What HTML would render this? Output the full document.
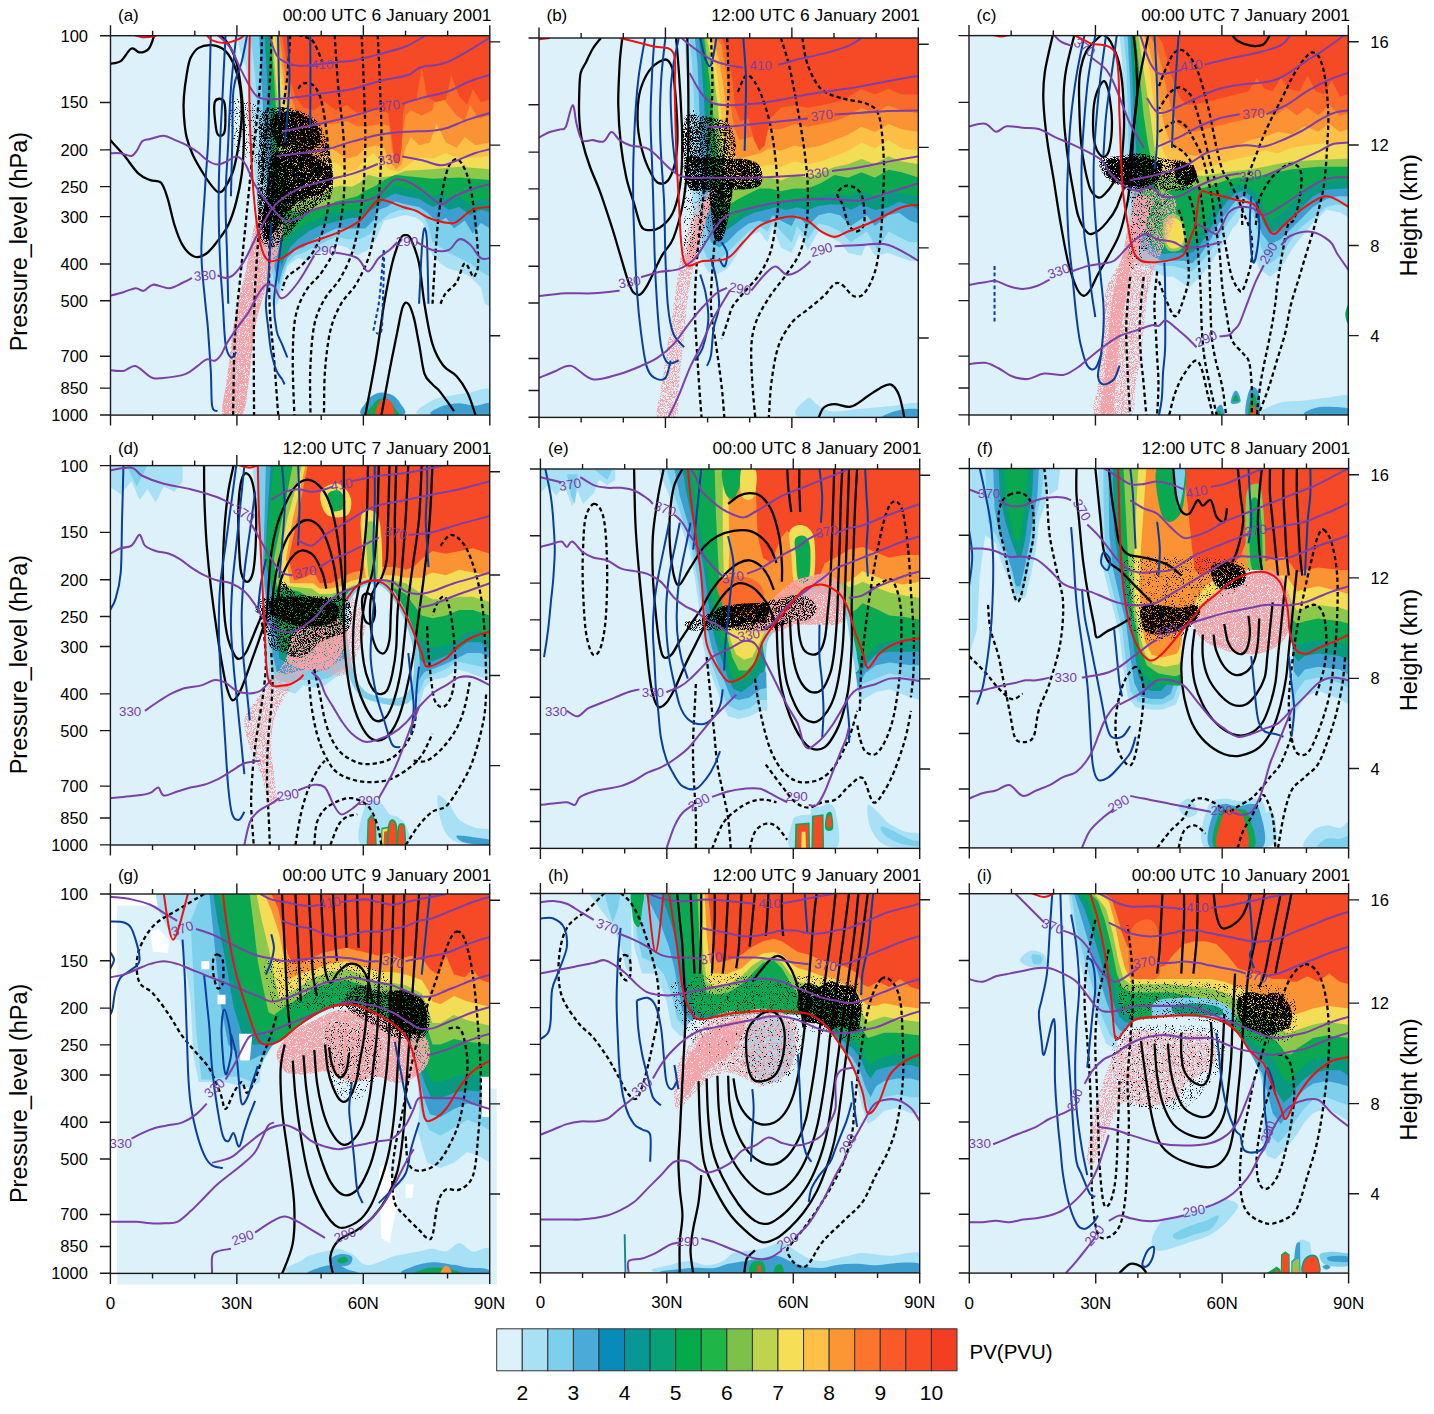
<!DOCTYPE html><html><head><meta charset="utf-8"><style>html,body{margin:0;padding:0;background:#fff;overflow:hidden}svg{display:block}</style></head><body>
<svg width="1434" height="1414" viewBox="0 0 1434 1414">
<defs>
<clipPath id="cpa"><rect x="110.50" y="35.70" width="379.3" height="379.4"/></clipPath>
<clipPath id="cpb"><rect x="539.00" y="38.00" width="379.3" height="379.4"/></clipPath>
<clipPath id="cpc"><rect x="969.00" y="35.60" width="379.3" height="379.4"/></clipPath>
<clipPath id="cpd"><rect x="110.40" y="465.60" width="379.3" height="379.4"/></clipPath>
<clipPath id="cpe"><rect x="540.40" y="469.00" width="379.3" height="379.4"/></clipPath>
<clipPath id="cpf"><rect x="969.30" y="468.50" width="379.3" height="379.4"/></clipPath>
<clipPath id="cpg"><rect x="110.40" y="894.00" width="379.3" height="379.4"/></clipPath>
<clipPath id="cph"><rect x="540.40" y="893.50" width="379.3" height="379.4"/></clipPath>
<clipPath id="cpi"><rect x="969.30" y="893.70" width="379.3" height="379.4"/></clipPath>
<filter id="spk1" x="-5%" y="-5%" width="110%" height="110%"><feTurbulence type="fractalNoise" baseFrequency="0.3" numOctaves="1" seed="3" result="n"/><feColorMatrix in="n" type="matrix" values="0 0 0 0 0 0 0 0 0 0 0 0 0 0 0 12 0 0 0 -7.2" result="m"/><feComposite in="SourceGraphic" in2="m" operator="in"/></filter>
<filter id="spk2" x="-5%" y="-5%" width="110%" height="110%"><feTurbulence type="fractalNoise" baseFrequency="0.3" numOctaves="1" seed="5" result="n"/><feColorMatrix in="n" type="matrix" values="0 0 0 0 0 0 0 0 0 0 0 0 0 0 0 12 0 0 0 -5.6" result="m"/><feComposite in="SourceGraphic" in2="m" operator="in"/></filter>
<filter id="spk3" x="-5%" y="-5%" width="110%" height="110%"><feTurbulence type="fractalNoise" baseFrequency="0.3" numOctaves="1" seed="9" result="n"/><feColorMatrix in="n" type="matrix" values="0 0 0 0 0 0 0 0 0 0 0 0 0 0 0 12 0 0 0 -4.4" result="m"/><feComposite in="SourceGraphic" in2="m" operator="in"/></filter>
</defs>
<rect width="1434" height="1414" fill="#fff"/>
<g clip-path="url(#cpa)">
<rect x="110.5" y="35.7" width="379.3" height="379.4" fill="#dcf1fa"/>
<g transform="translate(110,35) scale(0.268741)"><path d="M470 0L1414 0L1414 1010L1395 1000L1380 940L1340 900L1300 880L1260 870L1230 850L1200 820L1180 760L1165 700L1140 680L1100 670L1060 680L1020 690L990 760L960 800L920 820L880 790L840 780L800 800L760 820L730 840L700 830L660 860L640 930L625 1000L605 1010L590 940L575 860L560 760L548 640L535 500L528 350L520 220L505 120L485 60Z" fill="#a8e0f5"/><path d="M520 0L1414 0L1414 900L1380 880L1340 850L1300 830L1260 810L1230 790L1200 770L1180 700L1160 660L1120 650L1080 650L1040 665L1000 700L970 740L930 760L880 760L840 750L800 770L760 790L720 810L690 820L660 850L640 900L628 960L612 930L598 850L585 740L572 600L560 450L550 300L540 150L530 60Z" fill="#7cd0ec"/><path d="M555 0L1414 0L1414 720L1380 700L1350 740L1320 690L1280 720L1250 680L1220 700L1180 660L1150 640L1100 630L1060 620L1030 640L1000 650L980 690L950 720L920 720L880 720L840 720L800 740L760 760L720 790L690 800L660 830L640 880L628 930L615 880L600 800L588 650L578 450L568 250Z" fill="#3d9fd0"/><path d="M575 0L1414 0L1414 660L1380 650L1340 670L1300 640L1260 650L1230 630L1200 640L1150 610L1100 600L1060 590L1020 610L990 640L960 660L930 680L900 680L860 690L820 700L780 710L740 730L700 760L670 790L650 830L638 860L628 820L612 700L600 500L590 250Z" fill="#079a80"/><path d="M590 0L1414 0L1414 615L1380 610L1340 630L1300 600L1260 610L1230 590L1200 600L1150 580L1100 570L1060 560L1020 590L990 610L960 630L930 650L900 650L860 660L820 660L780 680L740 700L700 720L670 740L645 780L632 760L620 600L605 300Z" fill="#0aa850"/><path d="M598 0L1414 0L1414 540L1300 530L1200 535L1100 525L1060 520L1020 540L990 560L950 580L920 600L880 610L840 620L800 640L760 650L720 660L690 660L660 640L640 560L625 400L610 150Z" fill="#8cc84c"/><path d="M605 0L1414 0L1414 500L1300 490L1200 500L1100 505L1050 525L1000 530L960 520L930 550L900 565L860 560L820 570L780 600L740 610L700 600L670 560L640 400L618 180Z" fill="#f3dc56"/><path d="M612 0L1414 0L1414 450L1360 455L1300 460L1250 440L1200 460L1150 455L1100 490L1075 510L1040 500L1010 470L980 440L950 460L920 500L880 510L850 480L820 470L790 500L760 510L720 490L690 420L660 300L635 150Z" fill="#fdbf46"/><path d="M620 0L1414 0L1414 400L1360 410L1320 380L1290 420L1250 400L1215 330L1190 400L1150 410L1120 380L1100 420L1085 480L1065 500L1040 470L1020 420L990 410L950 420L920 450L880 460L850 440L820 420L790 450L760 450L720 420L690 360L660 250L640 120Z" fill="#fb9234"/><path d="M630 0L1414 0L1414 300L1370 310L1340 260L1320 320L1290 300L1250 250L1220 180L1200 280L1160 300L1120 280L1100 300L1090 360L1080 460L1065 470L1050 430L1040 340L1010 330L960 340L920 340L880 320L840 330L800 330L760 340L720 330L690 280L665 200L645 100Z" fill="#fa6a2a"/><path d="M640 0L1414 0L1414 240L1380 250L1350 200L1330 260L1300 230L1270 150L1250 240L1210 250L1180 230L1160 120L1140 240L1100 250L1090 300L1085 420L1075 480L1060 470L1048 380L1035 290L1000 280L960 280L920 290L880 260L840 280L800 250L760 280L720 270L690 230L670 170L655 90Z" fill="#f64a26"/><path d="M940 1414C917 1407 943 1382 950 1370C957 1358 970 1347 980 1340C990 1333 998 1330 1010 1330C1022 1330 1038 1333 1050 1340C1062 1347 1073 1358 1080 1370C1087 1382 1113 1407 1090 1414C1067 1421 963 1421 940 1414Z" fill="#3d9fd0"/><path d="M960 1414C944 1408 968 1390 975 1380C982 1370 989 1358 1000 1355C1011 1352 1030 1354 1040 1360C1050 1366 1055 1381 1060 1390C1065 1399 1087 1410 1070 1414C1053 1418 976 1420 960 1414Z" fill="#0aa850"/><path d="M990 1414C981 1407 995 1380 1000 1370C1005 1360 1012 1356 1020 1355C1028 1354 1039 1355 1045 1365C1051 1375 1064 1406 1055 1414C1046 1422 999 1421 990 1414Z" fill="#f64a26"/><path d="M1150 1414C1114 1405 1178 1372 1200 1360C1222 1348 1257 1345 1280 1340C1303 1335 1318 1333 1340 1330C1362 1327 1402 1306 1414 1320C1426 1334 1458 1398 1414 1414C1370 1430 1186 1423 1150 1414Z" fill="#a8e0f5"/><path d="M1200 1414C1171 1408 1223 1387 1240 1380C1257 1373 1280 1370 1300 1370C1320 1370 1341 1380 1360 1380C1379 1380 1405 1364 1414 1370C1423 1376 1450 1407 1414 1414C1378 1421 1229 1420 1200 1414Z" fill="#3d9fd0"/><path d="M575 640C589 626 613 607 625 615C637 623 644 661 645 690C646 719 638 757 630 790C622 823 611 857 600 890C589 923 575 957 565 990C555 1023 546 1057 540 1090C534 1123 531 1155 527 1190C523 1225 521 1263 515 1300C509 1337 508 1395 492 1414C476 1433 430 1433 420 1414C410 1395 428 1336 432 1300C436 1264 441 1233 445 1200C449 1167 452 1133 457 1100C462 1067 468 1033 475 1000C482 967 492 933 500 900C508 867 513 833 520 800C527 767 531 727 540 700C549 673 561 654 575 640Z" fill="#f5a3a8" filter="url(#spk3)" opacity="1"/><path d="M450 250C460 225 498 243 520 250C542 257 567 273 580 290C593 307 598 323 600 350C602 377 597 428 590 450C583 472 575 480 560 480C545 480 517 463 500 450C483 437 468 433 460 400C452 367 440 275 450 250Z" fill="#000" filter="url(#spk1)" opacity="1"/><path d="M560 300C571 278 597 273 620 270C643 267 675 272 700 280C725 288 753 303 770 320C787 337 792 358 800 380C808 402 815 427 820 450C825 473 830 495 830 520C830 545 832 580 820 600C808 620 780 623 760 640C740 657 718 680 700 700C682 720 667 745 650 760C633 775 615 790 600 790C585 790 568 783 560 760C552 737 552 693 550 650C548 607 549 542 550 500C551 458 553 433 555 400C557 367 549 322 560 300Z" fill="#000" filter="url(#spk2)" opacity="1"/><path d="M610 300C620 288 642 285 660 285C678 285 702 291 720 300C738 309 760 323 770 340C780 357 785 385 780 400C775 415 757 425 740 430C723 435 698 433 680 430C662 427 643 422 630 410C617 398 603 378 600 360C597 342 600 312 610 300Z" fill="#000" filter="url(#spk3)" opacity="1"/><path d="M600 450C612 435 638 432 660 430C682 428 708 433 730 440C752 447 774 458 790 470C806 482 822 493 825 510C828 527 821 555 810 570C799 585 778 592 760 600C742 608 717 610 700 620C683 630 673 643 660 660C647 677 633 703 620 720C607 737 589 763 580 760C571 757 565 727 565 700C565 673 576 630 580 600C584 570 587 545 590 520C593 495 588 465 600 450Z" fill="#000" filter="url(#spk3)" opacity="1"/><path d="M0 107C7 105 27 106 40 97C53 88 68 55 80 50C92 45 99 65 110 65C121 65 136 61 145 50C154 39 162 8 165 0" fill="none" stroke="#000" stroke-width="8.5" stroke-linejoin="round"/><path d="M0 390C8 399 32 424 50 445C68 466 88 499 105 515C122 531 136 534 150 540C164 546 179 538 190 550C201 562 207 584 215 610C223 636 231 678 240 707C249 736 258 762 270 782C282 802 300 820 315 825C330 830 346 822 360 812C374 802 387 784 400 767C413 750 428 732 440 707C452 682 462 651 470 620C478 589 485 557 490 520C495 483 497 440 498 400C499 360 497 317 495 280C493 243 489 210 485 180C481 150 476 122 470 100C464 78 457 63 450 50C443 37 437 28 430 20C423 12 413 3 410 0" fill="none" stroke="#000" stroke-width="8.5" stroke-linejoin="round"/><path d="M380 38C363 36 343 40 330 48C317 56 308 68 300 85C292 102 289 126 285 150C281 174 277 205 275 230C273 255 273 275 275 300C277 325 279 355 285 380C291 405 299 427 310 450C321 473 337 499 350 520C363 541 380 564 390 575C400 586 403 587 410 585C417 583 422 579 430 565C438 551 452 528 460 500C468 472 475 433 480 400C485 367 489 333 490 300C491 267 489 230 485 200C481 170 474 143 465 120C456 97 444 74 430 60C416 46 397 40 380 38Z" fill="none" stroke="#000" stroke-width="8.5" stroke-linejoin="round"/><path d="M390 250C395 233 419 233 425 250C431 267 430 329 428 350C426 371 416 375 410 375C404 375 398 371 395 350C392 329 385 267 390 250Z" fill="none" stroke="#000" stroke-width="8.5" stroke-linejoin="round"/><path d="M950 1414C957 1378 978 1269 990 1200C1002 1131 1010 1058 1020 1000C1030 942 1040 890 1050 850C1060 810 1072 778 1080 760C1088 742 1093 745 1100 745C1107 745 1112 742 1120 760C1128 778 1142 810 1150 850C1158 890 1162 950 1170 1000C1178 1050 1188 1112 1200 1150C1212 1188 1225 1210 1240 1230C1255 1250 1275 1253 1290 1270C1305 1287 1318 1306 1330 1330C1342 1354 1355 1400 1360 1414" fill="none" stroke="#000" stroke-width="8.5" stroke-linejoin="round"/><path d="M1010 1414C1015 1387 1030 1302 1040 1250C1050 1198 1062 1140 1070 1100C1078 1060 1083 1027 1090 1010C1097 993 1103 993 1110 1000C1117 1007 1123 1025 1130 1050C1137 1075 1143 1115 1150 1150C1157 1185 1162 1235 1170 1260C1178 1285 1190 1288 1200 1300C1210 1312 1217 1313 1230 1330C1243 1347 1272 1388 1280 1400" fill="none" stroke="#000" stroke-width="8.5" stroke-linejoin="round"/><path d="M566 0C565 25 563 100 560 150C557 200 553 250 548 300C543 350 536 400 530 450C524 500 520 550 515 600C510 650 505 700 500 750C495 800 490 850 485 900C480 950 474 1000 470 1050C466 1100 464 1139 462 1200C460 1261 459 1378 458 1414" fill="none" stroke="#000" stroke-width="8.5" stroke-dasharray="16 11" stroke-linejoin="round"/><path d="M601 0C600 25 599 100 596 150C593 200 589 250 585 300C581 350 576 400 572 450C568 500 565 550 562 600C559 650 555 700 552 750C549 800 545 850 542 900C539 950 537 1000 536 1050C535 1100 535 1139 535 1200C535 1261 536 1378 536 1414" fill="none" stroke="#000" stroke-width="8.5" stroke-dasharray="16 11" stroke-linejoin="round"/><path d="M671 0C669 25 665 100 660 150C655 200 647 250 640 300C633 350 626 400 620 450C614 500 609 550 605 600C601 650 597 700 595 750C593 800 592 850 592 900C592 950 593 1000 596 1050C599 1100 605 1139 610 1200C615 1261 623 1378 626 1414" fill="none" stroke="#000" stroke-width="8.5" stroke-dasharray="16 11" stroke-linejoin="round"/><path d="M996 0C998 33 1003 133 1005 200C1007 267 1011 333 1010 400C1009 467 1007 533 1000 600C993 667 983 747 970 800C957 853 938 887 920 920C902 953 877 970 860 1000C843 1030 830 1058 820 1100C810 1142 804 1198 800 1250C796 1302 797 1387 796 1414" fill="none" stroke="#000" stroke-width="8.5" stroke-dasharray="16 11" stroke-linejoin="round"/><path d="M936 0C938 33 943 133 945 200C947 267 951 333 950 400C949 467 947 537 940 600C933 663 923 730 910 780C897 830 878 867 860 900C842 933 817 950 800 980C783 1010 769 1035 760 1080C751 1125 747 1194 745 1250C743 1306 746 1387 746 1414" fill="none" stroke="#000" stroke-width="8.5" stroke-dasharray="16 11" stroke-linejoin="round"/><path d="M836 0C838 33 844 133 850 200C856 267 867 333 870 400C873 467 875 537 870 600C865 663 853 733 840 780C827 827 808 852 790 880C772 908 747 922 730 950C713 978 698 1008 690 1050C682 1092 681 1139 680 1200C679 1261 685 1378 686 1414" fill="none" stroke="#000" stroke-width="8.5" stroke-dasharray="16 11" stroke-linejoin="round"/><path d="M700 200C703 197 710 182 720 180C730 178 748 177 760 190C772 203 782 225 790 260C798 295 805 352 810 400C815 448 822 500 820 550C818 600 810 658 800 700C790 742 775 773 760 800C745 827 727 843 710 860C693 877 672 885 660 900C648 915 643 942 640 950" fill="none" stroke="#000" stroke-width="8.5" stroke-dasharray="16 11" stroke-linejoin="round"/><path d="M700 0C706 2 725 5 735 10C745 15 751 15 760 30C769 45 785 88 790 100" fill="none" stroke="#000" stroke-width="8.5" stroke-dasharray="16 11" stroke-linejoin="round"/><path d="M1200 1000C1203 950 1212 780 1220 700C1228 620 1240 559 1250 520C1260 481 1270 472 1280 465C1290 458 1300 464 1310 480C1320 496 1332 523 1340 560C1348 597 1355 652 1360 700C1365 748 1371 817 1370 850C1369 883 1358 892 1355 900" fill="none" stroke="#000" stroke-width="8.5" stroke-dasharray="16 11" stroke-linejoin="round"/><path d="M1230 1000C1233 993 1240 973 1250 960C1260 947 1278 938 1290 920C1302 902 1310 853 1320 850C1330 847 1345 892 1350 900" fill="none" stroke="#000" stroke-width="8.5" stroke-dasharray="16 11" stroke-linejoin="round"/><path d="M375 0C374 33 372 133 370 200C368 267 368 342 365 400C362 458 358 500 355 550C352 600 348 658 345 700C342 742 340 767 340 800C340 833 342 867 345 900C348 933 352 967 355 1000C358 1033 362 1058 365 1100C368 1142 372 1203 375 1250C378 1297 376 1355 380 1380C384 1405 397 1397 400 1400" fill="none" stroke="#0a3fa0" stroke-width="7.5" stroke-linejoin="round"/><path d="M430 0C428 33 423 133 420 200C417 267 412 342 410 400C408 458 406 500 405 550C404 600 404 650 405 700C406 750 408 800 410 850C412 900 417 950 420 1000C423 1050 425 1117 430 1150C435 1183 443 1195 450 1200C457 1205 467 1183 470 1180" fill="none" stroke="#0a3fa0" stroke-width="7.5" stroke-linejoin="round"/><path d="M470 0C467 33 455 133 450 200C445 267 443 333 440 400C437 467 431 533 430 600C429 667 433 733 435 800C437 867 439 967 440 1000" fill="none" stroke="#0a3fa0" stroke-width="7.5" stroke-linejoin="round"/><path d="M510 0C507 17 498 67 490 100C482 133 466 150 460 200C454 250 457 333 455 400C453 467 451 567 450 600" fill="none" stroke="#0a3fa0" stroke-width="7.5" stroke-linejoin="round"/><path d="M625 0C626 25 627 100 628 150C629 200 631 275 632 300" fill="none" stroke="#0a3fa0" stroke-width="7.5" stroke-linejoin="round"/><path d="M662 0C663 25 668 100 668 150C668 200 663 258 660 300C657 342 652 383 650 400" fill="none" stroke="#0a3fa0" stroke-width="7.5" stroke-linejoin="round"/><path d="M745 0C745 25 746 93 746 150C746 207 745 308 745 340" fill="none" stroke="#0a3fa0" stroke-width="7.5" stroke-linejoin="round"/><path d="M600 700C598 733 593 850 590 900C587 950 580 967 580 1000C580 1033 587 1070 590 1100C593 1130 595 1155 600 1180C605 1205 613 1233 620 1250C627 1267 635 1272 640 1280C645 1288 648 1297 650 1300" fill="none" stroke="#0a3fa0" stroke-width="7.5" stroke-linejoin="round"/><path d="M640 750C637 775 625 858 620 900C615 942 610 967 610 1000C610 1033 615 1075 620 1100C625 1125 633 1133 640 1150C647 1167 657 1192 660 1200" fill="none" stroke="#0a3fa0" stroke-width="7.5" stroke-linejoin="round"/><path d="M1150 1000C1152 967 1157 847 1160 800C1163 753 1167 723 1170 720C1173 717 1178 733 1180 780C1182 827 1184 963 1185 1000" fill="none" stroke="#0a3fa0" stroke-width="7.5" stroke-linejoin="round"/><path d="M980 1100C983 1083 995 1033 1000 1000C1005 967 1007 933 1010 900C1013 867 1019 783 1020 800C1021 817 1017 950 1015 1000C1013 1050 1014 1082 1010 1100C1006 1118 993 1108 990 1110" fill="none" stroke="#0a3fa0" stroke-width="7.5" stroke-dasharray="14 10" stroke-linejoin="round"/><path d="M590 0C595 12 610 58 620 75C630 92 636 93 650 100C664 107 676 115 707 115C738 115 804 105 837 102C870 99 879 100 907 95C935 90 974 79 1007 70C1040 61 1079 52 1107 40C1135 28 1165 7 1177 0" fill="none" stroke="#7d3fa8" stroke-width="7.5" stroke-linejoin="round"/><path d="M400 0C408 8 436 29 450 50C464 71 472 100 485 125C498 150 514 182 525 200C536 218 538 223 550 230C562 237 574 240 600 240C626 240 672 234 707 230C742 226 774 220 807 215C840 210 874 208 907 200C940 192 974 178 1007 170C1040 162 1082 158 1107 150C1132 142 1132 128 1157 120C1182 112 1214 118 1257 100C1300 82 1388 25 1414 10" fill="none" stroke="#7d3fa8" stroke-width="7.5" stroke-linejoin="round"/><path d="M640 360C651 358 679 351 707 345C735 339 774 332 807 325C840 318 875 309 907 300C939 291 982 277 997 272" fill="none" stroke="#7d3fa8" stroke-width="7.5" stroke-linejoin="round"/><path d="M1087 257C1099 253 1129 243 1157 235C1185 227 1228 220 1257 210C1286 200 1306 185 1332 175C1358 165 1400 152 1414 148" fill="none" stroke="#7d3fa8" stroke-width="7.5" stroke-linejoin="round"/><path d="M620 450C634 448 676 444 707 440C738 436 774 432 807 425C840 418 874 404 907 395C940 386 974 376 1007 370C1040 364 1074 362 1107 360C1140 358 1182 358 1207 355C1232 352 1236 352 1257 345C1278 338 1306 324 1332 315C1358 306 1400 294 1414 290" fill="none" stroke="#7d3fa8" stroke-width="7.5" stroke-linejoin="round"/><path d="M0 970C8 968 34 962 50 957C66 952 82 943 95 942C108 941 114 954 125 952C136 950 144 931 160 929C176 927 202 943 220 942C238 941 256 928 270 922C284 916 299 907 305 904" fill="none" stroke="#7d3fa8" stroke-width="7.5" stroke-linejoin="round"/><path d="M400 895C405 896 420 904 430 904C440 904 448 903 460 892C472 881 485 865 500 840C515 815 533 772 550 740C567 708 585 672 600 650C615 628 622 623 640 610C658 597 679 582 707 570C735 558 774 549 807 540C840 531 875 525 907 515C939 505 982 486 997 480" fill="none" stroke="#7d3fa8" stroke-width="7.5" stroke-linejoin="round"/><path d="M1087 452C1099 454 1133 460 1157 465C1181 470 1211 484 1232 485C1253 486 1261 478 1282 470C1303 462 1335 448 1357 440C1379 432 1404 428 1414 425" fill="none" stroke="#7d3fa8" stroke-width="7.5" stroke-linejoin="round"/><path d="M0 440C7 440 27 438 40 440C53 442 70 452 80 450C90 448 93 439 100 430C107 421 112 402 120 395C128 388 137 390 150 387C163 384 185 374 200 375C215 376 226 384 240 390C254 396 271 402 285 410C299 418 312 426 325 435C338 444 348 457 360 465C372 473 388 481 400 482C412 483 423 475 435 470C447 465 459 451 470 452C481 453 492 464 500 475C508 486 514 502 520 515C526 528 528 538 535 550C542 562 549 575 560 590C571 605 585 623 600 640C615 657 632 683 650 690C668 697 689 687 707 680C725 673 732 659 757 650C782 641 824 631 857 625C890 619 932 621 957 615C982 609 990 602 1007 590C1024 578 1040 548 1057 540C1074 532 1090 539 1107 545C1124 551 1140 563 1157 575C1174 587 1194 606 1207 615C1220 624 1224 632 1237 630C1250 628 1262 610 1282 600C1302 590 1335 578 1357 570C1379 562 1404 558 1414 555" fill="none" stroke="#7d3fa8" stroke-width="7.5" stroke-linejoin="round"/><path d="M0 1247C8 1248 34 1252 50 1250C66 1248 78 1228 95 1232C112 1236 134 1264 150 1272C166 1280 168 1279 190 1277C212 1275 258 1270 280 1262C302 1254 312 1241 325 1232C338 1223 349 1210 360 1207C371 1204 381 1215 390 1212C399 1209 408 1198 415 1187C422 1176 425 1164 435 1147C445 1130 462 1106 475 1087C488 1068 502 1052 515 1032C528 1012 539 984 550 967C561 950 570 935 580 930C590 925 600 927 610 935C620 943 625 982 640 980C655 978 680 947 700 920C720 893 750 837 760 820" fill="none" stroke="#7d3fa8" stroke-width="7.5" stroke-linejoin="round"/><path d="M840 810C853 813 900 818 920 830C940 842 947 880 960 880C973 880 987 843 1000 830C1013 817 1028 810 1040 800C1052 790 1065 775 1070 770" fill="none" stroke="#7d3fa8" stroke-width="7.5" stroke-linejoin="round"/><path d="M1140 770C1150 775 1180 795 1200 800C1220 805 1243 807 1260 800C1277 793 1287 763 1300 760C1313 757 1327 768 1340 780C1353 792 1368 822 1380 830C1392 838 1408 830 1414 830" fill="none" stroke="#7d3fa8" stroke-width="7.5" stroke-linejoin="round"/><text x="790" y="125" fill="#7d3fa8" font-size="50" font-family="Liberation Sans, sans-serif" text-anchor="middle" transform="rotate(0 790 125)">410</text><text x="1040" y="280" fill="#7d3fa8" font-size="50" font-family="Liberation Sans, sans-serif" text-anchor="middle" transform="rotate(-8 1040 280)">370</text><text x="1040" y="480" fill="#7d3fa8" font-size="50" font-family="Liberation Sans, sans-serif" text-anchor="middle" transform="rotate(-8 1040 480)">330</text><text x="355" y="912" fill="#7d3fa8" font-size="50" font-family="Liberation Sans, sans-serif" text-anchor="middle" transform="rotate(-5 355 912)">330</text><text x="800" y="820" fill="#7d3fa8" font-size="50" font-family="Liberation Sans, sans-serif" text-anchor="middle" transform="rotate(0 800 820)">290</text><text x="1105" y="785" fill="#7d3fa8" font-size="50" font-family="Liberation Sans, sans-serif" text-anchor="middle" transform="rotate(0 1105 785)">290</text><path d="M520 0C520 20 518 70 518 120C518 170 518 237 520 300C522 363 525 442 528 500C531 558 535 603 540 650C545 697 552 748 560 780C568 812 577 832 590 840C603 848 622 838 640 830C658 822 677 802 700 790C723 778 753 770 780 760C807 750 835 742 860 730C885 718 908 708 930 690C952 672 975 632 990 620C1005 608 1003 612 1020 615C1037 618 1070 633 1090 640C1110 647 1124 648 1140 655C1156 662 1165 672 1185 680C1205 688 1242 698 1260 700C1278 702 1275 703 1290 695C1305 687 1329 659 1350 650C1371 641 1403 642 1414 640" fill="none" stroke="#f01010" stroke-width="7.5" stroke-linejoin="round"/><path d="M360 0C363 3 368 15 380 20C392 25 413 31 430 30C447 29 468 20 480 15C492 10 497 2 500 0" fill="none" stroke="#f01010" stroke-width="7.5" stroke-linejoin="round"/><path d="M90 0C95 1 108 7 120 8C132 9 157 6 165 5C173 4 169 1 170 0" fill="none" stroke="#f01010" stroke-width="7.5" stroke-linejoin="round"/></g>
</g>
<rect x="110.5" y="35.7" width="379.3" height="379.4" fill="none" stroke="#1a1a1a" stroke-width="1.4"/>
<path d="M110.50 415.10v10.5M110.50 35.70v-10.5M152.64 415.10v5.0M152.64 35.70v-5.0M194.79 415.10v5.0M194.79 35.70v-5.0M236.93 415.10v10.5M236.93 35.70v-10.5M279.08 415.10v5.0M279.08 35.70v-5.0M321.22 415.10v5.0M321.22 35.70v-5.0M363.37 415.10v10.5M363.37 35.70v-10.5M405.51 415.10v5.0M405.51 35.70v-5.0M447.66 415.10v5.0M447.66 35.70v-5.0M489.80 415.10v10.5M489.80 35.70v-10.5M110.50 35.70h-10.5M110.50 102.48h-10.5M110.50 149.86h-10.5M110.50 186.61h-10.5M110.50 216.64h-10.5M110.50 264.02h-10.5M110.50 300.77h-10.5M110.50 356.19h-10.5M110.50 388.17h-10.5M110.50 414.94h-10.5M489.80 41.90h10.4M489.80 145.10h10.4M489.80 245.60h10.4M489.80 335.70h10.4" stroke="#1a1a1a" stroke-width="1.4" fill="none"/>
<text x="118.0" y="20.5" font-family="Liberation Sans, sans-serif" font-size="17" fill="#000">(a)</text>
<text x="491.5" y="20.8" font-family="Liberation Sans, sans-serif" font-size="17.4" fill="#000" text-anchor="end">00:00 UTC 6 January 2001</text>
<text x="88.0" y="41.70" font-family="Liberation Sans, sans-serif" font-size="16.5" text-anchor="end">100</text>
<text x="88.0" y="108.48" font-family="Liberation Sans, sans-serif" font-size="16.5" text-anchor="end">150</text>
<text x="88.0" y="155.86" font-family="Liberation Sans, sans-serif" font-size="16.5" text-anchor="end">200</text>
<text x="88.0" y="192.61" font-family="Liberation Sans, sans-serif" font-size="16.5" text-anchor="end">250</text>
<text x="88.0" y="222.64" font-family="Liberation Sans, sans-serif" font-size="16.5" text-anchor="end">300</text>
<text x="88.0" y="270.02" font-family="Liberation Sans, sans-serif" font-size="16.5" text-anchor="end">400</text>
<text x="88.0" y="306.77" font-family="Liberation Sans, sans-serif" font-size="16.5" text-anchor="end">500</text>
<text x="88.0" y="362.19" font-family="Liberation Sans, sans-serif" font-size="16.5" text-anchor="end">700</text>
<text x="88.0" y="394.17" font-family="Liberation Sans, sans-serif" font-size="16.5" text-anchor="end">850</text>
<text x="88.0" y="420.94" font-family="Liberation Sans, sans-serif" font-size="16.5" text-anchor="end">1000</text>
<g clip-path="url(#cpb)">
<rect x="539.0" y="38.0" width="379.3" height="379.4" fill="#dcf1fa"/>
<g transform="translate(539,38) scale(0.268741)"><path d="M540 0L1414 0L1414 830L1380 830L1300 800L1250 810L1220 760L1200 810L1150 800L1120 760L1080 740L1040 720L1000 790L970 730L940 800L900 780L870 700L850 760L820 720L780 740L740 800L700 860L660 880L630 870L600 820L580 700L565 550L560 400L555 250L548 100Z" fill="#a8e0f5"/><path d="M560 0L1414 0L1414 760L1380 760L1300 720L1260 790L1220 720L1160 760L1120 720L1080 700L1040 690L1000 750L960 700L940 760L900 720L870 680L850 720L820 700L780 720L740 760L700 800L660 830L630 830L610 780L595 650L585 450L580 300L570 100Z" fill="#7cd0ec"/><path d="M580 0L1414 0L1414 690L1380 680L1340 650L1300 660L1250 700L1220 660L1160 700L1120 660L1080 650L1040 660L1000 700L960 660L940 700L900 680L870 660L850 690L820 680L780 690L740 720L700 760L670 780L640 760L620 700L605 550L600 350L590 100Z" fill="#3d9fd0"/><path d="M595 0L1414 0L1414 640L1380 620L1340 610L1300 630L1250 640L1200 620L1160 640L1120 620L1080 620L1040 625L1000 640L960 630L920 640L880 630L840 640L800 650L760 670L720 700L690 720L665 700L640 620L625 450L615 250L605 100Z" fill="#079a80"/><path d="M605 0L1414 0L1414 590L1350 580L1300 570L1250 590L1200 570L1150 590L1100 580L1050 590L1000 600L950 600L900 610L860 610L820 620L780 640L740 660L700 690L680 680L660 600L645 450L630 250L615 100Z" fill="#0aa850"/><path d="M615 0L1414 0L1414 520L1350 500L1300 490L1250 520L1200 500L1150 520L1100 510L1050 540L1000 560L950 560L900 570L860 560L820 560L780 580L740 600L710 620L690 600L670 500L655 350L640 200L625 80Z" fill="#8cc84c"/><path d="M625 0L1414 0L1414 470L1350 460L1300 440L1250 470L1200 450L1150 470L1100 480L1050 500L1000 520L950 510L900 530L860 520L820 530L780 540L740 560L710 560L690 520L680 400L665 250L645 100Z" fill="#f3dc56"/><path d="M635 0L1414 0L1414 420L1350 410L1300 380L1250 410L1200 390L1150 420L1100 440L1050 460L1000 470L950 460L900 480L860 470L820 480L780 500L740 510L710 500L695 420L680 300L665 150L650 50Z" fill="#fdbf46"/><path d="M645 0L1414 0L1414 350L1350 340L1300 320L1250 350L1200 330L1150 360L1100 380L1050 400L1000 410L950 400L900 420L860 410L820 430L780 440L740 450L715 420L700 330L690 200L670 80Z" fill="#fb9234"/><path d="M660 0L1414 0L1414 280L1350 270L1300 250L1250 280L1200 260L1150 290L1100 310L1050 320L1000 330L950 320L900 340L860 340L820 360L780 370L745 380L725 330L710 230L695 120L680 30Z" fill="#fa6a2a"/><path d="M680 0L1414 0L1414 210L1350 210L1300 190L1250 210L1200 190L1150 220L1100 240L1050 250L1000 260L950 250L900 260L860 300L840 400L820 420L800 380L780 300L750 310L730 260L720 160L705 60Z" fill="#f64a26"/><path d="M980 1414C911 1402 992 1349 1000 1340C1008 1331 1020 1353 1030 1360C1040 1367 1048 1375 1060 1380C1072 1385 1077 1390 1100 1390C1123 1390 1167 1383 1200 1380C1233 1377 1264 1373 1300 1370C1336 1367 1395 1353 1414 1360C1433 1367 1486 1405 1414 1414C1342 1423 1049 1426 980 1414Z" fill="#a8e0f5"/><path d="M1280 1414C1264 1410 1303 1396 1320 1390C1337 1384 1364 1381 1380 1380C1396 1379 1408 1379 1414 1385C1420 1391 1436 1409 1414 1414C1392 1419 1296 1418 1280 1414Z" fill="#3d9fd0"/><path d="M663 562C666 569 649 597 640 620C631 643 619 670 610 700C601 730 592 767 585 800C578 833 571 867 565 900C559 933 554 967 550 1000C546 1033 543 1067 540 1100C537 1133 533 1167 530 1200C527 1233 523 1264 520 1300C517 1336 523 1395 510 1414C497 1433 449 1433 440 1414C431 1395 450 1336 455 1300C460 1264 465 1233 470 1200C475 1167 480 1133 485 1100C490 1067 495 1033 500 1000C505 967 510 933 515 900C520 867 522 833 530 800C538 767 550 730 560 700C570 670 580 640 590 620C600 600 608 590 620 580C632 570 660 555 663 562Z" fill="#f5a3a8" filter="url(#spk2)" opacity="1"/><path d="M663 562C666 565 648 597 640 620C632 643 622 673 615 700C608 727 602 755 595 780C588 805 583 838 575 850C567 862 548 865 545 850C542 835 553 788 560 760C567 732 575 707 585 680C595 653 607 620 620 600C633 580 660 559 663 562Z" fill="#f5a3a8" filter="url(#spk3)" opacity="1"/><path d="M540 300C550 250 583 257 600 300C617 343 633 493 640 560C647 627 647 660 640 700C633 740 616 783 600 800C584 817 555 833 545 800C535 767 541 683 540 600C539 517 530 350 540 300Z" fill="#000" filter="url(#spk1)" opacity="1"/><path d="M545 302C554 275 581 290 600 290C619 290 641 293 660 300C679 307 705 305 715 330C725 355 748 430 720 450C692 470 574 475 545 450C516 425 536 329 545 302Z" fill="#000" filter="url(#spk2)" opacity="1"/><path d="M545 449C555 430 594 445 620 445C646 445 677 449 700 450C723 451 742 448 760 450C778 452 798 457 810 465C822 473 828 487 830 500C832 513 833 535 825 545C817 555 801 559 780 562C759 565 723 564 700 565C677 566 663 566 640 565C617 564 576 579 560 560C544 541 535 468 545 449Z" fill="#000" filter="url(#spk3)" opacity="1"/><path d="M640 560C652 540 703 550 715 560C727 570 714 598 712 620C710 642 705 668 700 690C695 712 688 740 680 750C672 760 661 762 655 750C649 738 648 712 645 680C642 648 628 580 640 560Z" fill="#000" filter="url(#spk3)" opacity="1"/><path d="M230 0C225 7 209 25 200 40C191 55 182 75 175 90C168 105 159 112 155 130C151 148 151 172 150 200C149 228 148 270 150 300C152 330 153 350 160 380C167 410 178 447 190 480C202 513 217 543 230 580C243 617 258 663 270 700C282 737 290 767 300 800C310 833 322 876 330 900C338 924 342 936 350 945C358 954 367 958 375 955C383 952 391 940 400 925C409 910 420 885 430 865C440 845 448 825 460 805C472 785 488 776 500 745C512 714 526 664 535 620C544 576 548 530 552 480C556 430 556 375 556 320C556 265 556 203 555 150C554 97 552 25 552 0" fill="none" stroke="#000" stroke-width="8.5" stroke-linejoin="round"/><path d="M310 0C308 17 302 58 300 100C298 142 294 200 295 250C296 300 300 355 305 400C310 445 317 483 325 520C333 557 346 590 355 620C364 650 371 684 380 700C389 716 398 714 410 715C422 716 437 713 450 705C463 697 479 682 490 665C501 648 508 628 515 600C522 572 527 537 530 500C533 463 533 422 533 380C533 338 530 293 528 250C526 207 523 162 520 120C517 78 512 20 510 0" fill="none" stroke="#000" stroke-width="8.5" stroke-linejoin="round"/><path d="M470 80C458 80 434 95 420 110C406 125 394 147 385 170C376 193 370 220 368 250C366 280 366 318 370 350C374 382 382 413 390 440C398 467 411 493 420 510C429 527 435 537 445 540C455 543 470 542 480 530C490 518 499 495 505 470C511 445 514 413 515 380C516 347 514 303 512 270C510 237 508 207 505 180C502 153 501 127 495 110C489 93 482 80 470 80Z" fill="none" stroke="#000" stroke-width="8.5" stroke-linejoin="round"/><path d="M1040 1414C1043 1408 1050 1384 1060 1375C1070 1366 1083 1362 1100 1362C1117 1362 1140 1376 1160 1372C1180 1368 1202 1347 1220 1335C1238 1323 1255 1310 1270 1302C1285 1294 1298 1285 1310 1290C1322 1295 1332 1309 1340 1330C1348 1351 1357 1400 1360 1414" fill="none" stroke="#000" stroke-width="8.5" stroke-linejoin="round"/><path d="M640 0C641 33 647 133 645 200C643 267 636 333 630 400C624 467 617 533 610 600C603 667 595 733 590 800C585 867 580 933 580 1000C580 1067 586 1131 590 1200C594 1269 602 1378 605 1414" fill="none" stroke="#000" stroke-width="8.5" stroke-dasharray="16 11" stroke-linejoin="round"/><path d="M700 0C701 33 707 133 705 200C703 267 696 333 690 400C684 467 677 533 670 600C663 667 655 733 650 800C645 867 638 942 640 1000C642 1058 653 1100 660 1150C667 1200 675 1256 680 1300C685 1344 688 1395 690 1414" fill="none" stroke="#000" stroke-width="8.5" stroke-dasharray="16 11" stroke-linejoin="round"/><path d="M740 200C745 190 760 147 770 140C780 133 790 147 800 160C810 173 820 193 830 220C840 247 852 282 860 320C868 358 875 403 880 450C885 497 890 558 890 600C890 642 885 667 880 700C875 733 870 770 860 800C850 830 837 855 820 880C803 905 777 930 760 950C743 970 730 982 720 1000C710 1018 707 1040 700 1060C693 1080 683 1110 680 1120" fill="none" stroke="#000" stroke-width="8.5" stroke-dasharray="16 11" stroke-linejoin="round"/><path d="M900 0C905 17 920 58 930 100C940 142 951 200 960 250C969 300 978 350 985 400C992 450 998 500 1000 550C1002 600 1000 658 995 700C990 742 982 770 970 800C958 830 938 853 920 880C902 907 878 932 860 960C842 988 822 1018 810 1050C798 1082 792 1108 790 1150C788 1192 792 1256 795 1300C798 1344 803 1395 805 1414" fill="none" stroke="#000" stroke-width="8.5" stroke-dasharray="16 11" stroke-linejoin="round"/><path d="M980 0C983 17 988 68 1000 100C1012 132 1028 169 1050 190C1072 211 1102 216 1130 225C1158 234 1198 234 1220 245C1242 256 1254 256 1265 290C1276 324 1280 398 1283 450C1286 502 1282 550 1280 600C1278 650 1275 705 1270 750C1265 795 1260 837 1250 870C1240 903 1223 935 1210 950C1197 965 1183 965 1170 960C1157 955 1142 928 1130 920C1118 912 1112 908 1100 915C1088 922 1077 944 1060 960C1043 976 1020 993 1000 1010C980 1027 958 1037 940 1060C922 1083 902 1113 890 1150C878 1187 871 1236 865 1280C859 1324 857 1392 855 1414" fill="none" stroke="#000" stroke-width="8.5" stroke-dasharray="16 11" stroke-linejoin="round"/><path d="M1110 580C1108 592 1123 602 1130 620C1137 638 1142 673 1150 690C1158 707 1170 720 1180 720C1190 720 1206 710 1210 690C1214 670 1210 622 1205 600C1200 578 1191 568 1180 560C1169 552 1152 547 1140 550C1128 553 1112 568 1110 580Z" fill="none" stroke="#000" stroke-width="8.5" stroke-dasharray="16 11" stroke-linejoin="round"/><path d="M395 0C391 25 377 92 370 150C363 208 358 283 355 350C352 417 350 483 350 550C350 617 352 683 355 750C358 817 361 892 365 950C369 1008 374 1055 380 1100C386 1145 392 1192 400 1220C408 1248 418 1258 430 1265C442 1272 460 1276 470 1265C480 1254 487 1211 490 1200" fill="none" stroke="#0a3fa0" stroke-width="7.5" stroke-linejoin="round"/><path d="M430 0C428 25 422 100 420 150C418 200 415 250 415 300C415 350 418 400 420 450C422 500 423 542 425 600C427 658 428 733 430 800C432 867 436 942 440 1000C444 1058 448 1115 455 1150C462 1185 469 1202 480 1210C491 1218 513 1202 520 1200" fill="none" stroke="#0a3fa0" stroke-width="7.5" stroke-linejoin="round"/><path d="M470 0C468 25 458 100 455 150C452 200 450 250 450 300C450 350 452 400 455 450C458 500 462 542 465 600C468 658 468 733 470 800C472 867 475 950 480 1000C485 1050 490 1075 500 1100C510 1125 533 1142 540 1150" fill="none" stroke="#0a3fa0" stroke-width="7.5" stroke-linejoin="round"/><path d="M520 0C517 17 505 67 500 100C495 133 491 158 490 200C489 242 492 300 495 350C498 400 508 475 510 500" fill="none" stroke="#0a3fa0" stroke-width="7.5" stroke-linejoin="round"/><path d="M760 0C762 25 769 100 770 150C771 200 769 255 768 300C767 345 766 400 765 420" fill="none" stroke="#0a3fa0" stroke-width="7.5" stroke-linejoin="round"/><path d="M600 0C603 13 613 63 620 80C627 97 633 113 640 100C647 87 657 17 660 0" fill="none" stroke="#0a3fa0" stroke-width="7.5" stroke-linejoin="round"/><path d="M640 820C643 833 655 870 660 900C665 930 672 970 670 1000C668 1030 655 1050 650 1080C645 1110 644 1157 640 1180C636 1203 628 1213 625 1220" fill="none" stroke="#0a3fa0" stroke-width="7.5" stroke-linejoin="round"/><path d="M600 880C603 892 615 922 620 950C625 978 632 1017 630 1050C628 1083 618 1125 610 1150C602 1175 585 1192 580 1200" fill="none" stroke="#0a3fa0" stroke-width="7.5" stroke-linejoin="round"/><path d="M680 760C683 767 698 785 700 800C702 815 695 847 690 850C685 853 673 825 670 820" fill="none" stroke="#0a3fa0" stroke-width="7.5" stroke-linejoin="round"/><path d="M530 0C538 7 562 27 580 40C598 53 620 70 640 80C660 90 680 95 700 100C720 105 750 108 760 110" fill="none" stroke="#7d3fa8" stroke-width="7.5" stroke-linejoin="round"/><path d="M890 100C902 97 933 87 960 80C987 73 1018 68 1050 60C1082 52 1125 40 1150 30C1175 20 1192 5 1200 0" fill="none" stroke="#7d3fa8" stroke-width="7.5" stroke-linejoin="round"/><path d="M560 130C567 142 587 182 600 200C613 218 623 232 640 240C657 248 673 249 700 250C727 251 767 248 800 245C833 242 867 236 900 230C933 224 967 216 1000 210C1033 204 1067 200 1100 195C1133 190 1167 186 1200 180C1233 174 1264 167 1300 160C1336 153 1395 143 1414 140" fill="none" stroke="#7d3fa8" stroke-width="7.5" stroke-linejoin="round"/><path d="M620 330C633 330 670 332 700 330C730 328 767 323 800 320C833 317 867 313 900 310C933 307 983 302 1000 300" fill="none" stroke="#7d3fa8" stroke-width="7.5" stroke-linejoin="round"/><path d="M1100 285C1117 284 1167 280 1200 278C1233 276 1264 273 1300 272C1336 271 1395 270 1414 270" fill="none" stroke="#7d3fa8" stroke-width="7.5" stroke-linejoin="round"/><path d="M0 370C7 367 27 355 40 350C53 345 70 343 80 340C90 337 92 345 100 330C108 315 118 252 125 250C132 248 134 298 140 320C146 342 150 370 160 380C170 390 187 379 200 380C213 381 228 390 240 385C252 380 260 351 270 350C280 349 288 372 300 380C312 388 323 395 340 400C357 405 383 403 400 410C417 417 427 428 440 440C453 452 467 468 480 480C493 492 507 503 520 510C533 517 538 518 560 520C582 522 627 520 650 520C673 520 675 520 700 520C725 520 767 521 800 520C833 519 868 517 900 515C932 513 975 511 990 510" fill="none" stroke="#7d3fa8" stroke-width="7.5" stroke-linejoin="round"/><path d="M1090 495C1108 492 1165 486 1200 480C1235 474 1264 467 1300 460C1336 453 1395 443 1414 440" fill="none" stroke="#7d3fa8" stroke-width="7.5" stroke-linejoin="round"/><path d="M0 960C17 958 67 952 100 950C133 948 167 952 200 950C233 948 283 942 300 940" fill="none" stroke="#7d3fa8" stroke-width="7.5" stroke-linejoin="round"/><path d="M380 890C392 887 427 875 450 870C473 865 498 868 520 860C542 852 563 837 580 820C597 803 607 780 620 760C633 740 647 717 660 700C673 683 683 670 700 660C717 650 740 646 760 640C780 634 797 630 820 625C843 620 870 614 900 610C930 606 967 602 1000 600C1033 598 1067 599 1100 600C1133 601 1167 609 1200 605C1233 601 1264 586 1300 575C1336 564 1395 546 1414 540" fill="none" stroke="#7d3fa8" stroke-width="7.5" stroke-linejoin="round"/><path d="M0 1265C10 1261 40 1248 60 1240C80 1232 97 1215 120 1220C143 1225 170 1265 200 1270C230 1275 270 1258 300 1250C330 1242 357 1230 380 1220C403 1210 420 1203 440 1190C460 1177 480 1162 500 1140C520 1118 542 1083 560 1060C578 1037 593 1018 610 1000C627 982 645 962 660 950C675 938 693 933 700 930" fill="none" stroke="#7d3fa8" stroke-width="7.5" stroke-linejoin="round"/><path d="M790 940C798 930 825 895 840 880C855 865 867 850 880 850C893 850 907 877 920 880C933 883 947 877 960 870C973 863 992 847 1000 840C1008 833 1008 832 1010 830" fill="none" stroke="#7d3fa8" stroke-width="7.5" stroke-linejoin="round"/><path d="M1100 775C1117 774 1167 771 1200 770C1233 769 1264 760 1300 770C1336 780 1395 820 1414 830" fill="none" stroke="#7d3fa8" stroke-width="7.5" stroke-linejoin="round"/><path d="M480 1414C487 1400 507 1361 520 1330C533 1299 547 1260 560 1230C573 1200 587 1178 600 1150C613 1122 627 1087 640 1060C653 1033 668 1010 680 990C692 970 705 948 710 940" fill="none" stroke="#7d3fa8" stroke-width="7.5" stroke-linejoin="round"/><text x="825" y="120" fill="#7d3fa8" font-size="50" font-family="Liberation Sans, sans-serif" text-anchor="middle" transform="rotate(0 825 120)">410</text><text x="1055" y="305" fill="#7d3fa8" font-size="50" font-family="Liberation Sans, sans-serif" text-anchor="middle" transform="rotate(-8 1055 305)">370</text><text x="1040" y="520" fill="#7d3fa8" font-size="50" font-family="Liberation Sans, sans-serif" text-anchor="middle" transform="rotate(-8 1040 520)">330</text><text x="340" y="925" fill="#7d3fa8" font-size="50" font-family="Liberation Sans, sans-serif" text-anchor="middle" transform="rotate(-10 340 925)">330</text><text x="745" y="950" fill="#7d3fa8" font-size="50" font-family="Liberation Sans, sans-serif" text-anchor="middle" transform="rotate(10 745 950)">290</text><text x="1055" y="805" fill="#7d3fa8" font-size="50" font-family="Liberation Sans, sans-serif" text-anchor="middle" transform="rotate(-15 1055 805)">290</text><path d="M300 0C320 5 387 21 420 30C453 39 486 27 500 55C514 83 503 142 505 200C507 258 508 333 510 400C512 467 515 528 520 600C525 672 525 792 540 830C555 868 583 832 610 830C637 828 675 832 700 820C725 808 740 780 760 760C780 740 797 715 820 700C843 685 878 676 900 670C922 664 933 663 950 665C967 667 983 671 1000 680C1017 689 1033 710 1050 720C1067 730 1083 740 1100 740C1117 740 1125 730 1150 720C1175 710 1217 695 1250 680C1283 665 1323 640 1350 630C1377 620 1403 622 1414 620" fill="none" stroke="#f01010" stroke-width="7.5" stroke-linejoin="round"/><path d="M0 5 L40 0" fill="none" stroke="#f01010" stroke-width="7.5" stroke-linejoin="round"/></g>
</g>
<rect x="539.0" y="38.0" width="379.3" height="379.4" fill="none" stroke="#1a1a1a" stroke-width="1.4"/>
<path d="M539.00 417.40v10.5M539.00 38.00v-10.5M581.14 417.40v5.0M581.14 38.00v-5.0M623.29 417.40v5.0M623.29 38.00v-5.0M665.43 417.40v10.5M665.43 38.00v-10.5M707.58 417.40v5.0M707.58 38.00v-5.0M749.72 417.40v5.0M749.72 38.00v-5.0M791.87 417.40v10.5M791.87 38.00v-10.5M834.01 417.40v5.0M834.01 38.00v-5.0M876.16 417.40v5.0M876.16 38.00v-5.0M918.30 417.40v10.5M918.30 38.00v-10.5M539.00 38.00h-10.5M539.00 104.78h-10.5M539.00 152.16h-10.5M539.00 188.91h-10.5M539.00 218.94h-10.5M539.00 266.32h-10.5M539.00 303.07h-10.5M539.00 358.49h-10.5M539.00 390.47h-10.5M539.00 417.24h-10.5M918.30 44.20h10.4M918.30 147.40h10.4M918.30 247.90h10.4M918.30 338.00h10.4" stroke="#1a1a1a" stroke-width="1.4" fill="none"/>
<text x="546.5" y="20.5" font-family="Liberation Sans, sans-serif" font-size="17" fill="#000">(b)</text>
<text x="920.0" y="20.8" font-family="Liberation Sans, sans-serif" font-size="17.4" fill="#000" text-anchor="end">12:00 UTC 6 January 2001</text>
<g clip-path="url(#cpc)">
<rect x="969.0" y="35.6" width="379.3" height="379.4" fill="#dcf1fa"/>
<g transform="translate(969,35) scale(0.268741)"><path d="M560 0L1414 0L1414 680L1380 660L1330 650L1280 700L1230 760L1200 800L1160 870L1120 900L1080 870L1060 820L1040 700L1020 650L1000 700L980 720L960 760L930 800L900 850L860 900L820 940L790 920L760 900L730 900L690 880L660 860L630 860L610 820L595 700L580 500L575 300L570 100Z" fill="#a8e0f5"/><path d="M575 0L1414 0L1414 640L1370 630L1330 640L1280 680L1230 720L1200 760L1160 820L1120 850L1090 800L1070 720L1050 640L1020 620L1000 650L970 690L940 740L900 800L860 850L830 880L800 870L760 860L720 860L690 850L660 840L630 830L615 780L605 650L595 450L590 250L585 100Z" fill="#7cd0ec"/><path d="M590 0L1414 0L1414 600L1370 600L1330 610L1280 640L1230 690L1200 720L1160 760L1120 780L1090 740L1070 680L1050 620L1020 600L990 620L960 660L930 700L900 760L860 820L830 850L800 840L760 840L720 840L690 830L660 810L640 790L625 720L615 600L605 400L600 200Z" fill="#3d9fd0"/><path d="M600 0L1414 0L1414 570L1330 575L1280 600L1230 650L1200 680L1160 720L1120 740L1095 700L1075 640L1050 600L1020 580L990 590L960 620L930 660L900 720L860 780L830 810L800 810L760 810L720 815L690 800L665 770L648 700L635 600L620 400L610 200Z" fill="#079a80"/><path d="M610 0L1414 0L1414 540L1330 545L1280 560L1230 600L1200 630L1160 670L1120 690L1100 650L1080 600L1050 570L1020 555L990 560L960 580L930 610L900 660L870 720L840 760L810 770L780 780L750 790L720 790L690 770L670 730L655 650L640 500L625 300L615 100Z" fill="#0aa850"/><path d="M620 0L1414 0L1414 490L1300 490L1200 500L1150 510L1100 520L1050 530L1000 530L960 540L930 550L900 560L870 570L840 565L800 565L760 575L720 590L695 560L680 480L665 400L650 300L635 150Z" fill="#8cc84c"/><path d="M630 0L1414 0L1414 460L1300 465L1200 470L1150 480L1100 490L1050 500L1000 505L960 510L930 515L900 520L870 525L840 520L800 520L760 525L720 530L700 500L690 420L675 300L660 200L645 100Z" fill="#f3dc56"/><path d="M640 0L1414 0L1414 400L1300 405L1200 420L1150 440L1100 430L1050 450L1000 460L960 470L930 480L900 490L870 500L840 520L810 510L780 500L750 480L725 440L705 380L690 280L675 150L655 50Z" fill="#fdbf46"/><path d="M650 0L1414 0L1414 350L1380 360L1340 330L1300 360L1250 340L1200 370L1150 360L1100 380L1050 390L1000 410L960 420L920 430L880 440L840 450L800 440L770 420L745 390L725 330L710 250L695 150L670 50Z" fill="#fb9234"/><path d="M670 0L1414 0L1414 290L1380 300L1340 260L1300 300L1260 270L1220 300L1180 270L1140 300L1100 290L1050 310L1000 320L960 330L920 340L880 350L840 360L800 350L775 330L755 280L735 200L718 120L695 40Z" fill="#fa6a2a"/><path d="M700 0L1414 0L1414 220L1380 230L1350 170L1320 220L1290 210L1260 150L1230 210L1190 200L1160 160L1130 210L1100 200L1070 160L1040 210L1000 220L960 230L920 240L880 250L840 260L810 260L790 240L770 200L750 140L735 80L720 30Z" fill="#f64a26"/><path d="M725 690C731 676 748 665 760 665C772 665 787 674 795 690C803 706 810 742 808 760C806 778 796 793 785 800C774 807 750 808 740 800C730 792 724 768 722 750C720 732 719 704 725 690Z" fill="#8cc84c"/><path d="M735 700C740 688 751 680 760 680C769 680 783 687 790 700C797 713 802 745 800 760C798 775 789 785 780 790C771 795 753 797 745 790C737 783 732 765 730 750C728 735 730 712 735 700Z" fill="#f3dc56"/><path d="M917 1414C913 1409 921 1391 925 1385C929 1379 936 1373 940 1378C944 1383 954 1408 950 1414C946 1420 921 1419 917 1414Z" fill="#3d9fd0"/><path d="M922 1414C920 1411 927 1395 930 1395C933 1395 943 1411 942 1414C941 1417 924 1417 922 1414Z" fill="#0aa850"/><path d="M975 1370C971 1364 981 1337 985 1330C989 1323 996 1322 1000 1328C1004 1334 1014 1358 1010 1365C1006 1372 979 1376 975 1370Z" fill="#3d9fd0"/><path d="M982 1362C980 1359 988 1340 992 1340C996 1340 1005 1356 1003 1360C1001 1364 984 1365 982 1362Z" fill="#0aa850"/><path d="M1030 1414C1023 1400 1035 1347 1040 1330C1045 1313 1053 1308 1060 1310C1067 1312 1077 1323 1080 1340C1083 1357 1088 1402 1080 1414C1072 1426 1037 1428 1030 1414Z" fill="#3d9fd0"/><path d="M1040 1414C1036 1403 1046 1362 1050 1350C1054 1338 1061 1329 1065 1340C1069 1351 1076 1402 1072 1414C1068 1426 1044 1425 1040 1414Z" fill="#0aa850"/><path d="M1048 1414C1046 1408 1052 1384 1055 1380C1058 1376 1064 1384 1066 1390C1068 1396 1071 1410 1068 1414C1065 1418 1050 1420 1048 1414Z" fill="#f64a26"/><path d="M1100 1414C1056 1407 1125 1379 1150 1370C1175 1361 1220 1363 1250 1360C1280 1357 1303 1352 1330 1350C1357 1348 1400 1334 1414 1345C1428 1356 1466 1402 1414 1414C1362 1426 1144 1421 1100 1414Z" fill="#a8e0f5"/><path d="M1250 1414C1231 1409 1273 1389 1300 1385C1327 1381 1395 1385 1414 1390C1433 1395 1441 1410 1414 1414C1387 1418 1269 1419 1250 1414Z" fill="#3d9fd0"/><path d="M1414 1000C1412 993 1400 1027 1400 1040C1400 1053 1412 1087 1414 1080C1416 1073 1416 1007 1414 1000Z" fill="#0aa850"/><path d="M620 560C645 550 737 577 760 600C783 623 767 667 760 700C753 733 733 767 720 800C707 833 690 867 680 900C670 933 665 967 660 1000C655 1033 653 1067 650 1100C647 1133 645 1167 640 1200C635 1233 627 1264 620 1300C613 1336 625 1395 600 1414C575 1433 490 1433 470 1414C450 1395 477 1336 480 1300C483 1264 488 1233 490 1200C492 1167 493 1133 495 1100C497 1067 496 1030 500 1000C504 970 510 945 520 920C530 895 547 877 560 850C573 823 592 792 600 760C608 728 607 693 610 660C613 627 595 570 620 560Z" fill="#f5a3a8" filter="url(#spk2)" opacity="1"/><path d="M620 600C634 587 673 603 680 620C687 637 668 670 660 700C652 730 640 767 630 800C620 833 608 867 600 900C592 933 586 967 580 1000C574 1033 569 1067 565 1100C561 1133 558 1167 555 1200C552 1233 548 1264 545 1300C542 1336 544 1395 535 1414C526 1433 496 1433 490 1414C484 1395 497 1336 500 1300C503 1264 507 1233 510 1200C513 1167 517 1133 520 1100C523 1067 525 1033 530 1000C535 967 542 933 550 900C558 867 568 833 575 800C582 767 588 733 595 700C602 667 606 613 620 600Z" fill="#f5a3a8" filter="url(#spk3)" opacity="1"/><path d="M600 560C622 547 720 550 740 570C760 590 728 652 720 680C712 708 700 720 690 740C680 760 670 782 660 800C650 818 640 838 630 850C620 862 607 875 600 870C593 865 590 842 590 820C590 798 598 768 600 740C602 712 605 680 605 650C605 620 578 573 600 560Z" fill="#000" filter="url(#spk1)" opacity="1"/><path d="M490 460C502 452 535 453 560 450C585 447 613 438 640 440C667 442 693 455 720 460C747 465 780 463 800 470C820 477 832 488 840 500C848 512 853 528 850 540C847 552 833 563 820 570C807 577 790 579 770 580C750 581 722 577 700 575C678 573 657 569 640 570C623 571 613 582 600 580C587 578 573 567 560 560C547 553 532 550 520 540C508 530 495 513 490 500C485 487 478 468 490 460Z" fill="#000" filter="url(#spk2)" opacity="1"/><path d="M510 470C519 460 548 462 570 460C592 458 618 453 640 455C662 457 687 462 700 470C713 478 720 488 720 500C720 512 712 530 700 540C688 550 667 557 650 560C633 563 617 562 600 560C583 558 564 557 550 550C536 543 522 533 515 520C508 507 501 480 510 470Z" fill="#000" filter="url(#spk3)" opacity="1"/><path d="M770 475C778 465 808 474 820 480C832 486 842 499 845 510C848 521 848 537 840 545C832 553 812 561 800 560C788 559 775 554 770 540C765 526 762 485 770 475Z" fill="#000" filter="url(#spk3)" opacity="1"/><path d="M312 0C307 23 288 98 282 140C276 182 275 207 277 250C279 293 285 350 292 400C299 450 309 499 317 550C325 601 333 657 342 707C351 757 360 811 370 850C380 889 391 920 400 940C409 960 417 968 425 970C433 972 441 963 450 950C459 937 468 912 480 890C492 868 507 845 520 820C533 795 548 773 560 740C572 707 582 663 590 620C598 577 601 530 605 480C609 430 610 373 615 320C620 267 626 213 635 160C644 107 662 27 667 0" fill="none" stroke="#000" stroke-width="8.5" stroke-linejoin="round"/><path d="M392 0C387 21 369 88 362 125C355 162 353 192 352 225C351 258 352 288 354 325C356 362 362 408 367 450C372 492 380 538 387 575C394 612 398 648 407 675C416 702 430 725 440 735C450 745 458 741 470 735C482 729 497 716 510 700C523 684 537 670 550 640C563 610 580 563 590 520C600 477 601 427 607 380C613 333 622 287 625 240C628 193 624 140 622 100C620 60 614 17 612 0" fill="none" stroke="#000" stroke-width="8.5" stroke-linejoin="round"/><path d="M492 0C483 10 450 35 437 60C424 85 416 118 412 150C408 182 409 208 410 250C411 292 413 358 417 400C421 442 426 471 432 500C438 529 444 558 452 575C460 592 473 602 482 605C491 608 498 599 507 590C516 581 528 565 537 550C546 535 556 521 562 500C568 479 570 454 572 425C574 396 577 362 577 325C577 288 575 238 572 200C569 162 564 129 557 100C550 71 536 42 527 25C518 8 506 4 502 0" fill="none" stroke="#000" stroke-width="8.5" stroke-linejoin="round"/><path d="M500 172C492 176 478 204 472 225C466 246 463 271 462 300C461 329 462 375 467 400C472 425 484 443 492 450C500 457 511 452 517 440C523 428 528 394 530 375C532 356 532 344 532 325C532 306 530 281 527 260C524 239 522 215 517 200C512 185 508 168 500 172Z" fill="none" stroke="#000" stroke-width="8.5" stroke-linejoin="round"/><path d="M980 0C983 4 988 15 1000 22C1012 29 1034 38 1050 40C1066 42 1083 42 1095 35C1107 28 1116 6 1120 0" fill="none" stroke="#000" stroke-width="8.5" stroke-linejoin="round"/><path d="M707 190C710 183 714 169 722 150C730 131 746 91 757 75C768 59 777 55 787 55C797 55 807 63 817 75C827 87 838 104 847 125C856 146 864 171 872 200C880 229 890 267 897 300C904 333 910 367 917 400C924 433 933 475 942 500C951 525 961 529 972 550C983 571 999 606 1007 625C1015 644 1016 651 1022 665C1028 679 1035 692 1040 707C1045 722 1050 736 1052 757C1054 778 1054 811 1052 832C1050 853 1047 864 1042 882C1037 900 1028 930 1022 942C1016 954 1014 960 1007 952C1000 944 985 923 977 897C969 871 963 829 957 797C951 765 945 732 942 707C939 682 941 676 937 650C933 624 924 583 917 550C910 517 900 483 892 450C884 417 876 383 867 350C858 317 845 272 837 250C829 228 826 224 817 215C808 206 794 195 782 195C770 195 760 202 747 215C734 228 714 265 707 275" fill="none" stroke="#000" stroke-width="8.5" stroke-dasharray="16 11" stroke-linejoin="round"/><path d="M707 360C712 357 726 347 737 340C748 333 760 320 772 320C784 320 796 328 807 340C818 352 827 372 837 390C847 408 859 428 867 450C875 472 880 496 887 525C894 554 902 595 907 625C912 655 913 677 917 707C921 737 928 770 932 807C936 844 938 894 942 932C946 970 951 999 957 1032C963 1065 967 1107 977 1132C987 1157 1006 1168 1017 1182C1028 1196 1036 1196 1042 1217C1048 1238 1050 1274 1052 1307C1054 1340 1052 1396 1052 1414" fill="none" stroke="#000" stroke-width="8.5" stroke-dasharray="16 11" stroke-linejoin="round"/><path d="M757 410C764 414 785 424 797 435C809 446 818 456 827 475C836 494 845 525 852 550C859 575 863 599 867 625C871 651 873 677 877 707C881 737 889 765 892 807C895 849 895 907 897 957C899 1007 899 1065 902 1107C905 1149 910 1174 917 1207C924 1240 935 1272 942 1307C949 1342 954 1396 957 1414" fill="none" stroke="#000" stroke-width="8.5" stroke-dasharray="16 11" stroke-linejoin="round"/><path d="M820 600C822 608 831 632 835 650C839 668 839 681 842 707C845 733 849 765 852 807C855 849 860 907 862 957C864 1007 864 1065 867 1107C870 1149 872 1174 877 1207C882 1240 890 1272 897 1307C904 1342 918 1396 922 1414" fill="none" stroke="#000" stroke-width="8.5" stroke-dasharray="16 11" stroke-linejoin="round"/><path d="M1017 707C1017 698 1014 676 1017 650C1020 624 1025 579 1032 550C1039 521 1044 508 1057 475C1070 442 1090 388 1107 350C1124 312 1140 283 1157 250C1174 217 1192 177 1207 150C1222 123 1235 104 1247 90C1259 76 1267 65 1277 65C1287 65 1299 72 1307 90C1315 108 1322 140 1327 175C1332 210 1336 258 1337 300C1338 342 1334 383 1332 425C1330 467 1326 517 1322 550C1318 583 1313 599 1307 625C1301 651 1295 677 1287 707C1279 737 1267 774 1257 807C1247 840 1237 874 1227 907C1217 940 1205 974 1197 1007C1189 1040 1185 1074 1177 1107C1169 1140 1157 1174 1147 1207C1137 1240 1127 1277 1117 1307C1107 1337 1094 1369 1087 1387C1080 1405 1079 1410 1077 1414" fill="none" stroke="#000" stroke-width="8.5" stroke-dasharray="16 11" stroke-linejoin="round"/><path d="M1067 707C1069 693 1072 647 1077 625C1082 603 1088 592 1097 575C1106 558 1120 539 1132 525C1144 511 1160 498 1172 490C1184 482 1197 478 1207 480C1217 482 1227 488 1232 500C1237 512 1238 529 1237 550C1236 571 1232 602 1227 625C1222 648 1214 676 1207 690C1200 704 1194 688 1187 707C1180 726 1174 770 1167 807C1160 844 1151 903 1147 932C1143 961 1145 957 1142 982C1139 1007 1133 1049 1127 1082C1121 1115 1114 1149 1107 1182C1100 1215 1092 1253 1087 1282C1082 1311 1080 1335 1077 1357C1074 1379 1073 1404 1072 1414" fill="none" stroke="#000" stroke-width="8.5" stroke-dasharray="16 11" stroke-linejoin="round"/><path d="M707 917C711 928 722 960 732 982C742 1004 756 1046 767 1047C778 1048 789 1010 797 987C805 964 814 937 817 907C820 877 815 840 812 807C809 774 802 733 797 707C792 681 783 660 780 650" fill="none" stroke="#000" stroke-width="8.5" stroke-dasharray="16 11" stroke-linejoin="round"/><path d="M745 1414C749 1400 758 1356 767 1332C776 1308 784 1287 797 1267C810 1247 830 1215 842 1212C854 1209 860 1227 867 1247C874 1267 880 1304 887 1332C894 1360 904 1400 907 1414" fill="none" stroke="#000" stroke-width="8.5" stroke-dasharray="16 11" stroke-linejoin="round"/><path d="M650 900C648 917 642 967 640 1000C638 1033 635 1067 635 1100C635 1133 638 1167 640 1200C642 1233 647 1264 650 1300C653 1336 658 1395 660 1414" fill="none" stroke="#000" stroke-width="8.5" stroke-dasharray="16 11" stroke-linejoin="round"/><path d="M700 880C698 900 691 963 690 1000C689 1037 693 1067 695 1100C697 1133 698 1167 700 1200C702 1233 705 1264 705 1300C705 1336 701 1395 700 1414" fill="none" stroke="#000" stroke-width="8.5" stroke-dasharray="16 11" stroke-linejoin="round"/><path d="M600 900C598 917 592 967 590 1000C588 1033 585 1058 585 1100C585 1142 588 1198 590 1250C592 1302 598 1387 600 1414" fill="none" stroke="#000" stroke-width="8.5" stroke-dasharray="16 11" stroke-linejoin="round"/><path d="M430 0C425 25 408 100 400 150C392 200 385 250 380 300C375 350 372 400 370 450C368 500 365 550 365 600C365 650 367 700 370 750C373 800 380 850 385 900C390 950 395 1008 400 1050C405 1092 408 1120 415 1150C422 1180 431 1215 440 1230C449 1245 461 1248 470 1240C479 1232 491 1190 495 1180" fill="none" stroke="#0a3fa0" stroke-width="7.5" stroke-linejoin="round"/><path d="M470 0C466 25 452 100 445 150C438 200 434 250 430 300C426 350 422 400 420 450C418 500 418 550 420 600C422 650 426 708 430 750C434 792 441 817 445 850C449 883 451 917 455 950C459 983 468 1033 470 1050" fill="none" stroke="#0a3fa0" stroke-width="7.5" stroke-linejoin="round"/><path d="M510 0C507 25 496 100 490 150C484 200 479 250 475 300C471 350 467 400 465 450C463 500 463 550 465 600C467 650 471 700 475 750C479 800 486 858 490 900C494 942 498 967 500 1000C502 1033 502 1067 500 1100C498 1133 493 1172 490 1200C487 1228 478 1253 480 1270C482 1287 490 1298 500 1300C510 1302 530 1292 540 1280C550 1268 557 1238 560 1230" fill="none" stroke="#0a3fa0" stroke-width="7.5" stroke-linejoin="round"/><path d="M550 0C547 25 537 100 530 150C523 200 515 250 510 300C505 350 502 425 500 450" fill="none" stroke="#0a3fa0" stroke-width="7.5" stroke-linejoin="round"/><path d="M690 0C692 33 698 133 700 200C702 267 702 350 700 400C698 450 692 483 690 500" fill="none" stroke="#0a3fa0" stroke-width="7.5" stroke-linejoin="round"/><path d="M780 0C778 25 773 100 770 150C767 200 762 255 760 300C758 345 756 400 755 420" fill="none" stroke="#0a3fa0" stroke-width="7.5" stroke-linejoin="round"/><path d="M727 847C728 865 730 905 730 957C730 1009 731 1107 730 1157C729 1207 724 1224 722 1257C720 1290 720 1331 717 1357C714 1383 709 1404 707 1414" fill="none" stroke="#0a3fa0" stroke-width="7.5" stroke-linejoin="round"/><path d="M1050 600C1049 617 1045 667 1045 700C1045 733 1048 776 1050 800C1052 824 1056 850 1060 847C1064 844 1072 804 1075 780C1078 756 1081 727 1080 700C1079 673 1072 633 1070 620" fill="none" stroke="#0a3fa0" stroke-width="7.5" stroke-linejoin="round"/><path d="M95 860 L95 1075" fill="none" stroke="#0a3fa0" stroke-width="7.5" stroke-dasharray="14 10" stroke-linejoin="round"/><path d="M317 0C321 4 331 18 342 25C353 32 375 38 382 40" fill="none" stroke="#7d3fa8" stroke-width="7.5" stroke-linejoin="round"/><path d="M457 85C465 92 494 110 507 125C520 140 527 154 537 175C547 196 557 225 567 250C577 275 587 303 597 325C607 347 618 364 627 380C636 396 646 413 650 420" fill="none" stroke="#7d3fa8" stroke-width="7.5" stroke-linejoin="round"/><path d="M637 0C641 12 654 54 662 75C670 96 678 113 687 125C696 137 700 144 717 145C734 146 780 132 792 130" fill="none" stroke="#7d3fa8" stroke-width="7.5" stroke-linejoin="round"/><path d="M877 110C890 107 927 97 957 90C987 83 1024 78 1057 70C1090 62 1134 52 1157 40C1180 28 1190 7 1197 0" fill="none" stroke="#7d3fa8" stroke-width="7.5" stroke-linejoin="round"/><path d="M662 235C670 244 687 285 707 290C727 295 757 275 782 265C807 255 832 241 857 230C882 219 907 208 932 200C957 192 978 189 1007 185C1036 181 1082 179 1107 175C1132 171 1140 168 1157 160C1174 152 1190 141 1207 130C1224 119 1240 106 1257 95C1274 84 1290 76 1307 65C1324 54 1342 41 1357 30C1372 19 1390 5 1397 0" fill="none" stroke="#7d3fa8" stroke-width="7.5" stroke-linejoin="round"/><path d="M702 415C715 409 756 392 782 380C808 368 832 352 857 340C882 328 907 318 932 310C957 302 994 298 1007 295" fill="none" stroke="#7d3fa8" stroke-width="7.5" stroke-linejoin="round"/><path d="M1107 295C1120 289 1157 274 1182 260C1207 246 1232 225 1257 210C1282 195 1306 182 1332 170C1358 158 1400 145 1414 140" fill="none" stroke="#7d3fa8" stroke-width="7.5" stroke-linejoin="round"/><path d="M600 540C617 537 666 529 700 520C734 511 777 498 807 485C837 472 857 451 882 440C907 429 932 425 957 420C982 415 1009 411 1032 410C1055 409 1076 418 1097 415C1118 412 1134 404 1157 395C1180 386 1207 373 1232 360C1257 347 1286 327 1307 315C1328 303 1339 296 1357 290C1375 284 1404 282 1414 280" fill="none" stroke="#7d3fa8" stroke-width="7.5" stroke-linejoin="round"/><path d="M0 340C10 338 43 327 60 330C77 333 87 358 100 360C113 362 123 342 140 340C157 338 180 343 200 345C220 347 240 344 260 350C280 356 300 371 320 380C340 389 360 396 380 405C400 414 423 425 442 435C461 445 477 451 492 465C507 479 516 504 530 520C544 536 561 550 577 560C593 570 610 579 627 580C644 581 662 562 677 565C692 568 702 594 720 600C738 606 759 607 782 600C805 593 832 572 857 560C882 548 907 538 932 530C957 522 994 518 1007 515" fill="none" stroke="#7d3fa8" stroke-width="7.5" stroke-linejoin="round"/><path d="M1097 525C1107 521 1134 510 1157 500C1180 490 1207 477 1232 465C1257 453 1286 440 1307 430C1328 420 1339 410 1357 405C1375 400 1404 401 1414 400" fill="none" stroke="#7d3fa8" stroke-width="7.5" stroke-linejoin="round"/><path d="M840 700C847 703 867 713 880 720C893 727 910 742 920 740C930 738 934 720 942 707C950 694 956 671 967 660C978 649 992 642 1007 640C1022 638 1042 640 1057 645C1072 650 1080 671 1097 670C1114 669 1134 653 1157 640C1180 627 1207 606 1232 590C1257 574 1286 555 1307 545C1328 535 1339 532 1357 530C1375 528 1404 530 1414 530" fill="none" stroke="#7d3fa8" stroke-width="7.5" stroke-linejoin="round"/><path d="M0 930C10 928 43 922 60 920C77 918 85 912 100 915C115 918 133 930 150 935C167 940 183 945 200 945C217 945 233 941 250 935C267 929 292 914 300 910" fill="none" stroke="#7d3fa8" stroke-width="7.5" stroke-linejoin="round"/><path d="M380 880C390 877 420 865 440 860C460 855 483 853 500 850C517 847 527 848 540 840C553 832 567 813 580 800C593 787 607 770 620 760C633 750 647 740 660 740C673 740 683 755 700 760C717 765 743 765 760 770C777 775 785 787 800 790C815 793 833 792 850 790C867 788 885 783 900 780C915 777 933 772 940 770" fill="none" stroke="#7d3fa8" stroke-width="7.5" stroke-linejoin="round"/><path d="M0 1225C10 1224 42 1218 60 1220C78 1222 93 1232 110 1240C127 1248 142 1263 160 1270C178 1277 200 1282 220 1280C240 1278 258 1262 280 1260C302 1258 330 1268 350 1265C370 1262 383 1251 400 1240C417 1229 433 1213 450 1200C467 1187 482 1173 500 1160C518 1147 540 1130 560 1120C580 1110 600 1107 620 1100C640 1093 666 1083 680 1080C694 1077 698 1085 707 1082C716 1079 721 1060 732 1062C743 1064 760 1082 772 1092C784 1102 794 1110 807 1122C820 1134 840 1155 847 1162" fill="none" stroke="#7d3fa8" stroke-width="7.5" stroke-linejoin="round"/><path d="M932 1122C938 1121 958 1121 967 1117C976 1113 980 1104 987 1097C994 1090 1000 1087 1007 1072C1014 1057 1022 1033 1032 1007C1042 981 1056 942 1067 917C1078 892 1092 867 1097 857" fill="none" stroke="#7d3fa8" stroke-width="7.5" stroke-linejoin="round"/><path d="M1162 782C1168 776 1179 755 1197 747C1215 739 1248 729 1272 732C1296 735 1325 753 1342 767C1359 781 1360 799 1372 817C1384 835 1407 867 1414 877" fill="none" stroke="#7d3fa8" stroke-width="7.5" stroke-linejoin="round"/><text x="830" y="130" fill="#7d3fa8" font-size="50" font-family="Liberation Sans, sans-serif" text-anchor="middle" transform="rotate(-8 830 130)">410</text><text x="1060" y="310" fill="#7d3fa8" font-size="50" font-family="Liberation Sans, sans-serif" text-anchor="middle" transform="rotate(-3 1060 310)">370</text><text x="1050" y="540" fill="#7d3fa8" font-size="50" font-family="Liberation Sans, sans-serif" text-anchor="middle" transform="rotate(-8 1050 540)">330</text><text x="420" y="60" fill="#7d3fa8" font-size="50" font-family="Liberation Sans, sans-serif" text-anchor="middle" transform="rotate(35 420 60)">370</text><text x="340" y="895" fill="#7d3fa8" font-size="50" font-family="Liberation Sans, sans-serif" text-anchor="middle" transform="rotate(-20 340 895)">330</text><text x="890" y="1145" fill="#7d3fa8" font-size="50" font-family="Liberation Sans, sans-serif" text-anchor="middle" transform="rotate(-25 890 1145)">290</text><text x="1130" y="820" fill="#7d3fa8" font-size="50" font-family="Liberation Sans, sans-serif" text-anchor="middle" transform="rotate(-60 1130 820)">290</text><path d="M390 0C400 5 424 18 450 30C476 42 527 25 545 70C563 115 556 220 560 300C564 380 565 483 570 550C575 617 583 658 590 700C597 742 602 777 610 800C618 823 625 832 640 840C655 848 680 846 700 845C720 844 743 840 760 835C777 830 789 830 800 815C811 800 820 765 827 747C834 729 836 733 842 707C848 681 850 610 860 590C870 570 877 586 900 590C923 594 973 608 1000 615C1027 622 1045 621 1060 630C1075 639 1078 652 1090 670C1102 688 1115 735 1130 740C1145 745 1160 717 1180 700C1200 683 1225 657 1250 640C1275 623 1303 600 1330 600C1357 600 1400 633 1414 640" fill="none" stroke="#f01010" stroke-width="7.5" stroke-linejoin="round"/><path d="M90 0C95 1 110 6 120 6C130 6 145 1 150 0" fill="none" stroke="#f01010" stroke-width="7.5" stroke-linejoin="round"/></g>
</g>
<rect x="969.0" y="35.6" width="379.3" height="379.4" fill="none" stroke="#1a1a1a" stroke-width="1.4"/>
<path d="M969.00 415.00v10.5M969.00 35.60v-10.5M1011.14 415.00v5.0M1011.14 35.60v-5.0M1053.29 415.00v5.0M1053.29 35.60v-5.0M1095.43 415.00v10.5M1095.43 35.60v-10.5M1137.58 415.00v5.0M1137.58 35.60v-5.0M1179.72 415.00v5.0M1179.72 35.60v-5.0M1221.87 415.00v10.5M1221.87 35.60v-10.5M1264.01 415.00v5.0M1264.01 35.60v-5.0M1306.16 415.00v5.0M1306.16 35.60v-5.0M1348.30 415.00v10.5M1348.30 35.60v-10.5M969.00 35.60h-10.5M969.00 102.38h-10.5M969.00 149.76h-10.5M969.00 186.51h-10.5M969.00 216.54h-10.5M969.00 263.92h-10.5M969.00 300.67h-10.5M969.00 356.09h-10.5M969.00 388.07h-10.5M969.00 414.84h-10.5M1348.30 41.80h10.4M1348.30 145.00h10.4M1348.30 245.50h10.4M1348.30 335.60h10.4" stroke="#1a1a1a" stroke-width="1.4" fill="none"/>
<text x="976.5" y="20.5" font-family="Liberation Sans, sans-serif" font-size="17" fill="#000">(c)</text>
<text x="1350.0" y="20.8" font-family="Liberation Sans, sans-serif" font-size="17.4" fill="#000" text-anchor="end">00:00 UTC 7 January 2001</text>
<text x="1370.3" y="47.80" font-family="Liberation Sans, sans-serif" font-size="16.5">16</text>
<text x="1370.3" y="151.00" font-family="Liberation Sans, sans-serif" font-size="16.5">12</text>
<text x="1370.3" y="251.50" font-family="Liberation Sans, sans-serif" font-size="16.5">8</text>
<text x="1370.3" y="341.60" font-family="Liberation Sans, sans-serif" font-size="16.5">4</text>
<g clip-path="url(#cpd)">
<rect x="110.4" y="465.6" width="379.3" height="379.4" fill="#dcf1fa"/>
<g transform="translate(110,465) scale(0.268741)"><path d="M0 0L270 0L270 60L240 100L200 80L170 140L140 90L110 130L80 60L40 110L0 80Z" fill="#a8e0f5"/><path d="M60 0L140 0L120 40L100 80L80 40Z" fill="#7cd0ec"/><path d="M530 0L1414 0L1414 800L1380 790L1330 770L1290 760L1250 790L1200 800L1170 830L1150 900L1130 920L1120 850L1110 760L1080 700L1060 760L1040 800L1000 800L960 790L920 780L880 770L840 790L800 820L760 830L720 820L690 850L650 840L610 830L590 800L575 600L560 400L548 200Z" fill="#a8e0f5"/><path d="M545 0L1414 0L1414 760L1380 750L1330 740L1290 730L1250 760L1200 780L1170 800L1150 850L1135 850L1125 780L1110 720L1080 680L1050 720L1020 760L980 770L940 760L900 750L860 760L820 790L780 800L740 800L700 800L660 810L620 800L600 750L585 600L570 400L558 200Z" fill="#7cd0ec"/><path d="M580 0L1414 0L1414 720L1380 700L1330 700L1290 720L1250 740L1200 760L1170 770L1150 800L1135 780L1120 720L1100 680L1070 660L1040 690L1010 720L970 730L930 720L890 720L850 730L810 760L770 770L730 760L690 770L650 780L620 770L605 700L590 550L575 450L570 350L575 200Z" fill="#3d9fd0"/><path d="M598 0L1414 0L1414 690L1380 660L1330 660L1290 690L1250 710L1200 730L1170 740L1150 720L1130 680L1110 650L1080 630L1050 650L1020 680L980 690L940 690L900 690L860 700L820 710L780 730L740 730L700 740L660 740L630 720L615 600L600 450L578 350L585 200Z" fill="#079a80"/><path d="M611 0L1414 0L1414 650L1380 620L1330 620L1290 650L1250 670L1200 680L1160 650L1130 620L1110 600L1080 580L1050 600L1020 620L980 640L940 640L900 640L860 650L820 660L780 680L740 680L700 690L660 700L640 670L625 550L600 450L575 350L590 200Z" fill="#0aa850"/><path d="M680 0L1414 0L1414 560L1350 540L1300 540L1250 560L1200 570L1160 560L1130 520L1100 480L1060 460L1000 450L950 450L900 460L860 480L820 500L780 500L740 490L700 470L640 460L620 450L610 350L640 200Z" fill="#8cc84c"/><path d="M715 0L1414 0L1414 510L1350 490L1300 490L1250 500L1200 500L1160 480L1130 460L1100 440L1060 430L1000 430L950 440L900 450L860 470L820 480L780 480L750 460L700 455L660 450L640 450L630 350L660 200Z" fill="#f3dc56"/><path d="M728 0L1414 0L1414 410L1350 400L1300 390L1250 410L1200 400L1160 420L1130 420L1100 420L1060 410L1000 410L950 420L900 430L860 450L820 460L780 460L755 440L710 440L670 440L655 350L680 200Z" fill="#fb9234"/><path d="M736 0L1414 0L1414 330L1350 310L1300 320L1250 330L1200 320L1160 350L1130 380L1100 390L1060 380L1000 380L950 390L900 400L860 420L820 440L780 440L760 400L720 420L685 430L665 350L696 200Z" fill="#f64a26"/><path d="M935 190C941 165 963 165 975 170C987 175 999 177 1005 220C1011 263 1018 393 1010 430C1002 467 972 458 960 440C948 422 944 362 940 320C936 278 929 215 935 190Z" fill="#f3dc56"/><path d="M950 230C953 212 968 207 975 210C982 213 992 215 995 250C998 285 1000 391 995 420C990 449 972 442 965 425C958 408 958 352 955 320C952 288 947 248 950 230Z" fill="#8cc84c"/><path d="M790 90C801 78 832 65 850 70C868 75 889 101 895 120C901 139 898 173 885 185C872 197 832 198 815 190C798 182 789 157 785 140C781 123 779 102 790 90Z" fill="#f3dc56"/><path d="M810 110C814 98 839 92 850 95C861 98 872 118 875 130C878 142 873 159 865 165C857 171 834 177 825 168C816 159 806 122 810 110Z" fill="#0aa850"/><path d="M875 500C883 474 898 458 915 445C932 432 960 422 980 422C1000 422 1018 430 1035 445C1052 460 1070 489 1085 515C1100 541 1114 569 1125 600C1136 631 1146 667 1150 700C1154 733 1154 772 1150 800C1146 828 1137 854 1125 870C1113 886 1101 892 1080 895C1059 898 1024 891 1000 885C976 879 952 874 935 860C918 846 905 827 895 800C885 773 880 733 875 700C870 667 865 633 865 600C865 567 867 526 875 500Z" fill="#7cd0ec"/><path d="M892 510C900 487 913 473 928 462C943 451 964 442 980 442C996 442 1010 448 1025 462C1040 476 1056 500 1070 525C1084 550 1098 581 1108 610C1118 639 1127 670 1130 700C1133 730 1132 765 1128 790C1124 815 1116 837 1105 850C1094 863 1078 866 1060 868C1042 870 1019 867 1000 862C981 857 963 853 948 840C933 827 921 808 912 785C903 762 897 731 892 700C887 669 882 632 882 600C882 568 884 533 892 510Z" fill="#dcf1fa"/><path d="M935 1414C908 1392 938 1307 945 1280C952 1253 969 1253 980 1250C991 1247 1000 1252 1010 1260C1020 1268 1030 1292 1040 1300C1050 1308 1060 1303 1070 1310C1080 1317 1094 1323 1100 1340C1106 1357 1132 1402 1105 1414C1078 1426 962 1436 935 1414Z" fill="#a8e0f5"/><path d="M955 1414L958 1320L972 1300L990 1320L992 1414Z" fill="#0aa850"/><path d="M960 1414L963 1325L973 1308L985 1325L987 1414Z" fill="#f64a26"/><path d="M1008 1414L1010 1350L1040 1345L1042 1414Z" fill="#0aa850"/><path d="M1012 1414L1014 1355L1036 1352L1038 1414Z" fill="#f3dc56"/><path d="M1018 1414L1020 1365L1032 1362L1034 1414Z" fill="#f64a26"/><path d="M1032 1414C1026 1402 1032 1356 1035 1340C1038 1324 1044 1318 1050 1318C1056 1318 1065 1324 1068 1340C1071 1356 1076 1402 1070 1414C1064 1426 1038 1426 1032 1414Z" fill="#0aa850"/><path d="M1038 1414C1034 1402 1038 1360 1040 1345C1042 1330 1046 1325 1050 1325C1054 1325 1060 1330 1062 1345C1064 1360 1068 1402 1064 1414C1060 1426 1042 1426 1038 1414Z" fill="#f64a26"/><path d="M1070 1414C1066 1402 1070 1358 1072 1345C1074 1332 1081 1333 1085 1333C1089 1333 1096 1332 1098 1345C1100 1358 1104 1402 1099 1414C1094 1426 1074 1426 1070 1414Z" fill="#0aa850"/><path d="M1074 1414C1071 1403 1074 1362 1076 1350C1078 1338 1082 1340 1085 1340C1088 1340 1092 1338 1094 1350C1096 1362 1098 1403 1095 1414C1092 1425 1077 1425 1074 1414Z" fill="#f64a26"/><path d="M1220 1230C1226 1223 1247 1245 1260 1260C1273 1275 1283 1305 1300 1320C1317 1335 1341 1343 1360 1350C1379 1357 1405 1349 1414 1360C1423 1371 1433 1406 1414 1414C1395 1422 1327 1412 1300 1405C1273 1398 1262 1388 1250 1370C1238 1352 1230 1323 1225 1300C1220 1277 1214 1237 1220 1230Z" fill="#a8e0f5"/><path d="M1290 1380C1295 1377 1329 1382 1350 1385C1371 1388 1403 1390 1414 1395C1425 1400 1430 1412 1414 1414C1398 1416 1341 1411 1320 1405C1299 1399 1285 1383 1290 1380Z" fill="#3d9fd0"/><path d="M860 480C882 473 915 500 930 520C945 540 952 570 950 600C948 630 932 670 920 700C908 730 897 767 880 780C863 793 840 783 820 780C800 777 777 760 760 760C743 760 733 770 720 780C707 790 693 803 680 820C667 837 652 858 640 880C628 902 617 922 610 950C603 978 600 1017 600 1050C600 1083 607 1117 610 1150C613 1183 623 1233 620 1250C617 1267 600 1267 590 1250C580 1233 572 1183 560 1150C548 1117 530 1083 520 1050C510 1017 497 978 500 950C503 922 525 902 540 880C555 858 575 840 590 820C605 800 615 783 630 760C645 737 662 703 680 680C698 657 720 640 740 620C760 600 780 583 800 560C820 537 838 487 860 480Z" fill="#f5a3a8" filter="url(#spk2)" opacity="1"/><path d="M700 600C723 573 770 560 800 560C830 560 870 577 880 600C890 623 873 673 860 700C847 727 823 750 800 760C777 770 743 767 720 760C697 753 663 747 660 720C657 693 677 627 700 600Z" fill="#f5a3a8" filter="url(#spk3)" opacity="1"/><path d="M640 430C652 435 673 470 700 480C727 490 770 487 800 490C830 493 863 488 880 500C897 512 900 540 900 560C900 580 892 607 880 620C868 633 847 633 830 640C813 647 795 650 780 660C765 670 753 690 740 700C727 710 715 720 700 720C685 720 667 707 650 700C633 693 612 693 600 680C588 667 587 640 580 620C573 600 567 573 560 560C553 547 540 550 540 540C540 530 550 508 560 500C570 492 588 498 600 490C612 482 623 460 630 450C637 440 628 425 640 430Z" fill="#000" filter="url(#spk2)" opacity="1"/><path d="M600 500C617 490 667 490 700 490C733 490 775 493 800 500C825 507 843 517 850 530C857 543 852 568 840 580C828 592 803 597 780 600C757 603 723 603 700 600C677 597 657 588 640 580C623 572 607 563 600 550C593 537 583 510 600 500Z" fill="#000" filter="url(#spk3)" opacity="1"/><path d="M350 0C350 25 350 100 352 150C354 200 356 250 360 300C364 350 369 400 375 450C381 500 388 553 395 600C402 647 408 692 415 730C422 768 428 806 435 830C442 854 448 872 455 875C462 878 472 864 480 850C488 836 497 812 505 790C513 768 522 743 530 720C538 697 548 672 555 650C562 628 572 600 575 590" fill="none" stroke="#000" stroke-width="8.5" stroke-linejoin="round"/><path d="M460 0C457 17 446 58 440 100C434 142 428 200 425 250C422 300 420 350 420 400C420 450 422 508 425 550C428 592 433 623 440 650C447 677 458 698 465 710C472 722 478 723 485 720C492 717 502 705 510 690C518 675 527 650 535 630C543 610 556 580 560 570" fill="none" stroke="#000" stroke-width="8.5" stroke-linejoin="round"/><path d="M495 40C503 23 517 32 525 50C533 68 539 108 542 150C545 192 544 258 542 300C540 342 537 378 532 400C527 422 517 435 510 435C503 435 493 422 488 400C483 378 482 342 480 300C478 258 476 193 478 150C480 107 487 57 495 40Z" fill="none" stroke="#000" stroke-width="8.5" stroke-linejoin="round"/><path d="M580 600C582 575 587 495 590 450C593 405 595 367 600 330C605 293 612 260 620 230C628 200 638 175 650 150C662 125 675 96 690 80C705 64 723 53 740 55C757 57 777 74 790 90C803 106 812 127 820 150C828 173 834 200 840 230C846 260 851 297 855 330C859 363 862 398 865 430C868 462 869 505 870 520" fill="none" stroke="#000" stroke-width="8.5" stroke-linejoin="round"/><path d="M600 560C602 542 605 485 610 450C615 415 622 380 630 350C638 320 648 292 660 270C672 248 687 231 700 220C713 209 727 203 740 205C753 207 768 216 780 230C792 244 802 268 810 290C818 312 824 333 830 360C836 387 842 427 845 450C848 473 849 492 850 500" fill="none" stroke="#000" stroke-width="8.5" stroke-linejoin="round"/><path d="M620 520C622 505 628 455 635 430C642 405 651 387 660 370C669 353 680 339 690 330C700 321 708 316 720 318C732 320 748 326 760 340C772 354 782 380 790 400C798 420 802 450 805 460" fill="none" stroke="#000" stroke-width="8.5" stroke-linejoin="round"/><path d="M870 0C870 33 871 133 872 200C873 267 875 342 875 400C875 458 870 500 870 550C870 600 871 650 875 700C879 750 886 807 895 850C904 893 917 932 930 960C943 988 959 1011 975 1020C991 1029 1009 1027 1025 1015C1041 1003 1058 978 1070 950C1082 922 1090 892 1100 850C1110 808 1122 750 1130 700C1138 650 1143 600 1150 550C1157 500 1163 458 1170 400C1177 342 1185 267 1190 200C1195 133 1198 33 1200 0" fill="none" stroke="#000" stroke-width="8.5" stroke-linejoin="round"/><path d="M960 0C959 33 959 133 955 200C951 267 942 342 935 400C928 458 915 500 910 550C905 600 903 655 905 700C907 745 912 787 920 820C928 853 939 878 950 900C961 922 972 943 985 950C998 957 1013 952 1025 940C1037 928 1046 907 1055 880C1064 853 1073 818 1080 780C1087 742 1090 697 1095 650C1100 603 1104 550 1110 500C1116 450 1123 400 1130 350C1137 300 1145 258 1150 200C1155 142 1158 33 1160 0" fill="none" stroke="#000" stroke-width="8.5" stroke-linejoin="round"/><path d="M1000 0C999 33 998 137 995 200C992 263 988 330 980 380C972 430 958 460 950 500C942 540 936 580 935 620C934 660 940 708 945 740C950 772 957 792 965 810C973 828 984 845 995 850C1006 855 1021 852 1030 840C1039 828 1044 807 1050 780C1056 753 1062 718 1065 680C1068 642 1067 597 1070 550C1073 503 1080 458 1085 400C1090 342 1096 267 1100 200C1104 133 1108 33 1110 0" fill="none" stroke="#000" stroke-width="8.5" stroke-linejoin="round"/><path d="M1040 0C1039 33 1037 142 1035 200C1033 258 1034 313 1030 350C1026 387 1017 403 1010 420C1003 437 997 437 990 450C983 463 973 475 970 500C967 525 967 570 970 600C973 630 982 663 990 680C998 697 1012 705 1020 700C1028 695 1036 675 1040 650C1044 625 1043 583 1045 550C1047 517 1048 483 1050 450C1052 417 1058 392 1060 350C1062 308 1059 258 1060 200C1061 142 1064 33 1065 0" fill="none" stroke="#000" stroke-width="8.5" stroke-linejoin="round"/><path d="M940 490C943 480 953 476 960 478C967 480 976 486 980 500C984 514 987 545 985 560C983 575 976 587 970 590C964 593 955 588 950 580C945 572 942 555 940 540C938 525 937 500 940 490Z" fill="none" stroke="#000" stroke-width="8.5" stroke-linejoin="round"/><path d="M560 560C562 575 572 618 575 650C578 682 581 717 580 750C579 783 574 817 570 850C566 883 560 917 555 950C550 983 544 1017 540 1050C536 1083 532 1117 530 1150C528 1183 525 1217 525 1250C525 1283 528 1323 530 1350C532 1377 534 1403 535 1414" fill="none" stroke="#000" stroke-width="8.5" stroke-dasharray="16 11" stroke-linejoin="round"/><path d="M600 700C601 717 605 767 605 800C605 833 602 867 600 900C598 933 592 967 590 1000C588 1033 586 1067 585 1100C584 1133 584 1167 585 1200C586 1233 588 1264 590 1300C592 1336 594 1395 595 1414" fill="none" stroke="#000" stroke-width="8.5" stroke-dasharray="16 11" stroke-linejoin="round"/><path d="M760 760C763 775 773 818 780 850C787 882 792 920 800 950C808 980 818 1008 830 1030C842 1052 853 1067 870 1080C887 1093 910 1105 930 1110C950 1115 970 1113 990 1110C1010 1107 1032 1102 1050 1090C1068 1078 1087 1058 1100 1040C1113 1022 1123 1003 1130 980C1137 957 1138 913 1140 900" fill="none" stroke="#000" stroke-width="8.5" stroke-dasharray="16 11" stroke-linejoin="round"/><path d="M740 800C742 817 745 867 750 900C755 933 762 970 770 1000C778 1030 788 1057 800 1080C812 1103 823 1125 840 1140C857 1155 878 1163 900 1170C922 1177 947 1180 970 1180C993 1180 1017 1178 1040 1170C1063 1162 1090 1145 1110 1130C1130 1115 1145 1102 1160 1080C1175 1058 1193 1013 1200 1000" fill="none" stroke="#000" stroke-width="8.5" stroke-dasharray="16 11" stroke-linejoin="round"/><path d="M690 1414C693 1395 702 1336 710 1300C718 1264 729 1228 740 1200C751 1172 765 1147 775 1130C785 1113 796 1105 800 1100" fill="none" stroke="#000" stroke-width="8.5" stroke-dasharray="16 11" stroke-linejoin="round"/><path d="M760 1414C762 1400 763 1352 770 1330C777 1308 787 1293 800 1280C813 1267 833 1257 850 1250C867 1243 883 1238 900 1240C917 1242 937 1250 950 1260C963 1270 972 1283 980 1300C988 1317 995 1341 1000 1360C1005 1379 1008 1405 1010 1414" fill="none" stroke="#000" stroke-width="8.5" stroke-dasharray="16 11" stroke-linejoin="round"/><path d="M820 1414C825 1402 840 1357 850 1340C860 1323 868 1317 880 1310C892 1303 913 1302 920 1300" fill="none" stroke="#000" stroke-width="8.5" stroke-dasharray="16 11" stroke-linejoin="round"/><path d="M1100 1414C1108 1402 1133 1361 1150 1340C1167 1319 1183 1302 1200 1290C1217 1278 1233 1285 1250 1270C1267 1255 1283 1228 1300 1200C1317 1172 1335 1142 1350 1100C1365 1058 1382 992 1390 950C1398 908 1398 867 1400 850" fill="none" stroke="#000" stroke-width="8.5" stroke-dasharray="16 11" stroke-linejoin="round"/><path d="M1180 600C1181 617 1182 667 1185 700C1188 733 1191 770 1195 800C1199 830 1202 863 1210 880C1218 897 1230 903 1240 900C1250 897 1262 883 1270 860C1278 837 1283 795 1285 760C1287 725 1283 687 1280 650C1277 613 1271 567 1265 540C1259 513 1252 495 1245 490C1238 485 1228 498 1220 510C1212 522 1203 552 1200 560" fill="none" stroke="#000" stroke-width="8.5" stroke-dasharray="16 11" stroke-linejoin="round"/><path d="M1230 300C1237 293 1255 260 1270 260C1285 260 1305 277 1320 300C1335 323 1349 363 1360 400C1371 437 1379 478 1385 520C1391 562 1392 603 1395 650C1398 697 1399 775 1400 800" fill="none" stroke="#000" stroke-width="8.5" stroke-dasharray="16 11" stroke-linejoin="round"/><path d="M1130 1100C1138 1100 1162 1108 1180 1100C1198 1092 1222 1070 1240 1050C1258 1030 1277 1005 1290 980C1303 955 1312 930 1320 900C1328 870 1337 817 1340 800" fill="none" stroke="#000" stroke-width="8.5" stroke-dasharray="16 11" stroke-linejoin="round"/><path d="M50 0C49 33 47 133 45 200C43 267 44 350 40 400C36 450 27 477 20 500C13 523 3 533 0 540" fill="none" stroke="#0a3fa0" stroke-width="7.5" stroke-linejoin="round"/><path d="M470 0C467 25 457 100 450 150C443 200 437 250 430 300C423 350 414 400 410 450C406 500 405 550 405 600C405 650 408 700 410 750C412 800 417 850 420 900C423 950 427 1000 430 1050C433 1100 436 1158 440 1200C444 1242 448 1280 455 1300C462 1320 472 1322 480 1320C488 1318 497 1295 500 1290" fill="none" stroke="#0a3fa0" stroke-width="7.5" stroke-linejoin="round"/><path d="M500 0C498 25 490 100 485 150C480 200 475 250 470 300C465 350 458 400 455 450C452 500 449 550 450 600C451 650 457 708 460 750C463 792 467 817 470 850C473 883 477 917 480 950C483 983 487 1017 490 1050C493 1083 498 1133 500 1150" fill="none" stroke="#0a3fa0" stroke-width="7.5" stroke-linejoin="round"/><path d="M540 100C537 125 527 200 520 250C513 300 505 350 500 400C495 450 491 500 490 550C489 600 492 650 495 700C498 750 506 808 510 850C514 892 518 933 520 950" fill="none" stroke="#0a3fa0" stroke-width="7.5" stroke-linejoin="round"/><path d="M580 350C577 367 565 417 560 450C555 483 552 533 550 550" fill="none" stroke="#0a3fa0" stroke-width="7.5" stroke-linejoin="round"/><path d="M985 0C985 25 986 100 985 150C984 200 980 250 980 300C980 350 986 400 985 450C984 500 978 555 975 600C972 645 968 678 970 720C972 762 982 812 990 850C998 888 1010 918 1020 950C1030 982 1040 1023 1050 1040C1060 1057 1075 1048 1080 1050" fill="none" stroke="#0a3fa0" stroke-width="7.5" stroke-linejoin="round"/><path d="M1110 700C1112 717 1117 767 1120 800C1123 833 1130 867 1130 900C1130 933 1122 983 1120 1000" fill="none" stroke="#0a3fa0" stroke-width="7.5" stroke-linejoin="round"/><path d="M1180 0C1180 17 1181 67 1180 100C1179 133 1175 167 1175 200C1175 233 1178 270 1180 300C1182 330 1184 367 1185 380" fill="none" stroke="#0a3fa0" stroke-width="7.5" stroke-linejoin="round"/><path d="M1150 750C1148 767 1142 817 1140 850C1138 883 1136 933 1135 950" fill="none" stroke="#0a3fa0" stroke-width="7.5" stroke-linejoin="round"/><path d="M640 0C642 25 650 100 650 150C650 200 643 255 640 300C637 345 632 400 630 420" fill="none" stroke="#0a3fa0" stroke-width="7.5" stroke-linejoin="round"/><path d="M700 0C701 25 705 100 705 150C705 200 701 275 700 300" fill="none" stroke="#0a3fa0" stroke-width="7.5" stroke-linejoin="round"/><path d="M0 20C13 18 60 7 80 10C100 13 100 30 120 40C140 50 170 62 200 70C230 78 267 82 300 90C333 98 373 110 400 120C427 130 450 145 460 150" fill="none" stroke="#7d3fa8" stroke-width="7.5" stroke-linejoin="round"/><path d="M520 210C527 222 547 257 560 280C573 303 587 330 600 350C613 370 627 390 640 400C653 410 673 408 680 410" fill="none" stroke="#7d3fa8" stroke-width="7.5" stroke-linejoin="round"/><path d="M780 380C788 375 813 358 830 350C847 342 862 338 880 330C898 322 920 310 940 300C960 290 990 275 1000 270" fill="none" stroke="#7d3fa8" stroke-width="7.5" stroke-linejoin="round"/><path d="M1110 260C1125 258 1168 257 1200 250C1232 243 1264 230 1300 220C1336 210 1395 195 1414 190" fill="none" stroke="#7d3fa8" stroke-width="7.5" stroke-linejoin="round"/><path d="M600 130C608 125 633 107 650 100C667 93 683 90 700 90C717 90 733 100 750 100C767 100 787 93 800 90C813 87 825 82 830 80" fill="none" stroke="#7d3fa8" stroke-width="7.5" stroke-linejoin="round"/><path d="M900 60C917 57 967 45 1000 40C1033 35 1067 35 1100 30C1133 25 1175 15 1200 10C1225 5 1242 2 1250 0" fill="none" stroke="#7d3fa8" stroke-width="7.5" stroke-linejoin="round"/><path d="M700 280C708 283 733 303 750 300C767 297 783 272 800 260C817 248 833 240 850 230C867 220 883 210 900 200C917 190 933 178 950 170C967 162 975 157 1000 150C1025 143 1067 137 1100 130C1133 123 1167 117 1200 110C1233 103 1264 98 1300 90C1336 82 1395 65 1414 60" fill="none" stroke="#7d3fa8" stroke-width="7.5" stroke-linejoin="round"/><path d="M0 330C7 327 27 315 40 310C53 305 68 308 80 300C92 292 102 260 110 260C118 260 120 290 130 300C140 310 155 315 170 320C185 325 205 325 220 330C235 335 247 342 260 350C273 358 285 370 300 380C315 390 333 402 350 410C367 418 383 425 400 430C417 435 433 433 450 440C467 447 485 457 500 470C515 483 528 503 540 520C552 537 560 557 570 570C580 583 588 592 600 600C612 608 627 617 640 620C653 623 667 623 680 620C693 617 705 610 720 600C735 590 757 573 770 560C783 547 787 533 800 520C813 507 833 490 850 480C867 470 885 467 900 460C915 453 927 445 940 440C953 435 965 432 980 430C995 428 1017 428 1030 430C1043 432 1048 433 1060 440C1072 447 1085 463 1100 470C1115 477 1133 480 1150 480C1167 480 1178 477 1200 470C1222 463 1255 448 1280 440C1305 432 1328 427 1350 420C1372 413 1403 403 1414 400" fill="none" stroke="#7d3fa8" stroke-width="7.5" stroke-linejoin="round"/><path d="M1150 530C1158 528 1175 528 1200 520C1225 512 1264 493 1300 480C1336 467 1395 447 1414 440" fill="none" stroke="#7d3fa8" stroke-width="7.5" stroke-linejoin="round"/><path d="M130 915C138 909 163 891 180 880C197 869 213 858 230 850C247 842 262 835 280 830C298 825 322 825 340 820C358 815 375 802 390 800C405 798 417 803 430 810C443 817 455 833 470 840C485 847 505 850 520 850C535 850 547 848 560 840C573 832 593 807 600 800" fill="none" stroke="#7d3fa8" stroke-width="7.5" stroke-linejoin="round"/><path d="M750 770C755 775 772 787 780 800C788 813 792 833 800 850C808 867 820 883 830 900C840 917 848 933 860 950C872 967 885 987 900 1000C915 1013 933 1027 950 1030C967 1033 983 1025 1000 1020C1017 1015 1033 1010 1050 1000C1067 990 1083 977 1100 960C1117 943 1133 918 1150 900C1167 882 1183 863 1200 850C1217 837 1233 830 1250 820C1267 810 1283 795 1300 790C1317 785 1331 785 1350 790C1369 795 1403 815 1414 820" fill="none" stroke="#7d3fa8" stroke-width="7.5" stroke-linejoin="round"/><path d="M0 1240C8 1239 33 1237 50 1235C67 1233 83 1232 100 1230C117 1228 137 1225 150 1220C163 1215 172 1198 180 1200C188 1202 188 1228 200 1230C212 1232 233 1220 250 1215C267 1210 283 1204 300 1200C317 1196 333 1195 350 1190C367 1185 383 1178 400 1170C417 1162 433 1150 450 1140C467 1130 482 1117 500 1110C518 1103 550 1102 560 1100" fill="none" stroke="#7d3fa8" stroke-width="7.5" stroke-linejoin="round"/><path d="M500 1414C503 1400 512 1351 520 1330C528 1309 537 1302 550 1290C563 1278 587 1268 600 1260C613 1252 625 1243 630 1240" fill="none" stroke="#7d3fa8" stroke-width="7.5" stroke-linejoin="round"/><path d="M700 1210C710 1207 743 1192 760 1190C777 1188 788 1188 800 1200C812 1212 820 1243 830 1260C840 1277 848 1297 860 1300C872 1303 888 1288 900 1280C912 1272 925 1259 930 1255" fill="none" stroke="#7d3fa8" stroke-width="7.5" stroke-linejoin="round"/><path d="M1000 1240C1008 1225 1037 1177 1050 1150C1063 1123 1070 1105 1080 1080C1090 1055 1102 1022 1110 1000C1118 978 1123 967 1130 950C1137 933 1147 908 1150 900" fill="none" stroke="#7d3fa8" stroke-width="7.5" stroke-linejoin="round"/><text x="75" y="935" fill="#7d3fa8" font-size="50" font-family="Liberation Sans, sans-serif" text-anchor="middle" transform="rotate(0 75 935)">330</text><text x="665" y="1245" fill="#7d3fa8" font-size="50" font-family="Liberation Sans, sans-serif" text-anchor="middle" transform="rotate(-10 665 1245)">290</text><text x="965" y="1265" fill="#7d3fa8" font-size="50" font-family="Liberation Sans, sans-serif" text-anchor="middle" transform="rotate(0 965 1265)">290</text><text x="490" y="195" fill="#7d3fa8" font-size="50" font-family="Liberation Sans, sans-serif" text-anchor="middle" transform="rotate(30 490 195)">370</text><text x="730" y="415" fill="#7d3fa8" font-size="50" font-family="Liberation Sans, sans-serif" text-anchor="middle" transform="rotate(-10 730 415)">370</text><text x="1060" y="270" fill="#7d3fa8" font-size="50" font-family="Liberation Sans, sans-serif" text-anchor="middle" transform="rotate(10 1060 270)">370</text><text x="865" y="90" fill="#7d3fa8" font-size="50" font-family="Liberation Sans, sans-serif" text-anchor="middle" transform="rotate(-10 865 90)">410</text><path d="M550 0C551 33 552 133 555 200C558 267 562 333 565 400C568 467 571 533 575 600C579 667 578 763 590 800C602 837 632 820 650 820C668 820 688 807 700 800C712 793 717 783 720 780" fill="none" stroke="#f01010" stroke-width="7.5" stroke-linejoin="round"/><path d="M880 500C887 492 903 462 920 450C937 438 962 430 980 430C998 430 1013 435 1030 450C1047 465 1065 495 1080 520C1095 545 1107 570 1120 600C1133 630 1150 675 1160 700C1170 725 1165 747 1180 750C1195 753 1230 733 1250 720C1270 707 1283 683 1300 670C1317 657 1331 648 1350 640C1369 632 1403 623 1414 620" fill="none" stroke="#f01010" stroke-width="7.5" stroke-linejoin="round"/><path d="M480 0C487 2 508 10 520 10C532 10 545 2 550 0" fill="none" stroke="#f01010" stroke-width="7.5" stroke-linejoin="round"/></g>
</g>
<rect x="110.4" y="465.6" width="379.3" height="379.4" fill="none" stroke="#1a1a1a" stroke-width="1.4"/>
<path d="M110.40 845.00v10.5M110.40 465.60v-10.5M152.54 845.00v5.0M152.54 465.60v-5.0M194.69 845.00v5.0M194.69 465.60v-5.0M236.83 845.00v10.5M236.83 465.60v-10.5M278.98 845.00v5.0M278.98 465.60v-5.0M321.12 845.00v5.0M321.12 465.60v-5.0M363.27 845.00v10.5M363.27 465.60v-10.5M405.41 845.00v5.0M405.41 465.60v-5.0M447.56 845.00v5.0M447.56 465.60v-5.0M489.70 845.00v10.5M489.70 465.60v-10.5M110.40 465.60h-10.5M110.40 532.38h-10.5M110.40 579.76h-10.5M110.40 616.51h-10.5M110.40 646.54h-10.5M110.40 693.92h-10.5M110.40 730.67h-10.5M110.40 786.09h-10.5M110.40 818.07h-10.5M110.40 844.84h-10.5M489.70 471.80h10.4M489.70 575.00h10.4M489.70 675.50h10.4M489.70 765.60h10.4" stroke="#1a1a1a" stroke-width="1.4" fill="none"/>
<text x="117.9" y="453.7" font-family="Liberation Sans, sans-serif" font-size="17" fill="#000">(d)</text>
<text x="491.40000000000003" y="454.0" font-family="Liberation Sans, sans-serif" font-size="17.4" fill="#000" text-anchor="end">12:00 UTC 7 January 2001</text>
<text x="87.9" y="471.60" font-family="Liberation Sans, sans-serif" font-size="16.5" text-anchor="end">100</text>
<text x="87.9" y="538.38" font-family="Liberation Sans, sans-serif" font-size="16.5" text-anchor="end">150</text>
<text x="87.9" y="585.76" font-family="Liberation Sans, sans-serif" font-size="16.5" text-anchor="end">200</text>
<text x="87.9" y="622.51" font-family="Liberation Sans, sans-serif" font-size="16.5" text-anchor="end">250</text>
<text x="87.9" y="652.54" font-family="Liberation Sans, sans-serif" font-size="16.5" text-anchor="end">300</text>
<text x="87.9" y="699.92" font-family="Liberation Sans, sans-serif" font-size="16.5" text-anchor="end">400</text>
<text x="87.9" y="736.67" font-family="Liberation Sans, sans-serif" font-size="16.5" text-anchor="end">500</text>
<text x="87.9" y="792.09" font-family="Liberation Sans, sans-serif" font-size="16.5" text-anchor="end">700</text>
<text x="87.9" y="824.07" font-family="Liberation Sans, sans-serif" font-size="16.5" text-anchor="end">850</text>
<text x="87.9" y="850.84" font-family="Liberation Sans, sans-serif" font-size="16.5" text-anchor="end">1000</text>
<g clip-path="url(#cpe)">
<rect x="540.4" y="469.0" width="379.3" height="379.4" fill="#dcf1fa"/>
<g transform="translate(540,469) scale(0.268741)"><path d="M0 0L280 0L280 40L250 60L220 40L200 90L160 130L140 80L120 140L90 60L60 100L30 60L0 90Z" fill="#a8e0f5"/><path d="M100 20L140 20L130 130L115 100Z" fill="#7cd0ec"/><path d="M200 0L270 0L250 40Z" fill="#7cd0ec"/><path d="M440 0L1414 0L1414 860L1380 850L1300 820L1250 830L1200 860L1170 940L1150 960L1120 900L1000 900L900 900L820 900L780 920L740 930L700 920L680 880L650 800L620 720L600 620L590 500L575 400L555 300L520 200L480 100Z" fill="#a8e0f5"/><path d="M470 0L1414 0L1414 790L1380 780L1300 760L1250 780L1200 800L1170 880L1150 900L1120 860L1000 860L900 860L820 860L780 890L740 900L700 880L680 840L655 770L630 700L610 600L600 500L585 400L565 300L535 200L500 100Z" fill="#7cd0ec"/><path d="M500 0L1414 0L1414 730L1380 730L1300 720L1250 730L1210 760L1180 820L1160 840L1130 800L1000 800L900 800L820 820L780 850L740 860L710 850L690 800L665 740L640 670L620 580L610 480L595 380L575 290L550 200L520 100Z" fill="#3d9fd0"/><path d="M530 0L1414 0L1414 680L1380 680L1300 680L1250 690L1220 720L1190 760L1170 760L1150 720L1000 720L900 720L820 760L790 800L750 830L720 820L700 780L680 720L655 650L635 560L622 460L608 360L588 270L565 180L545 90Z" fill="#079a80"/><path d="M560 0L1414 0L1414 630L1380 630L1300 640L1260 650L1230 680L1200 700L1180 680L1150 640L1000 640L900 640L830 680L800 740L770 780L740 790L715 770L700 720L690 680L670 620L650 540L635 450L620 350L600 250L580 150L568 60Z" fill="#0aa850"/><path d="M650 0L1414 0L1414 560L1350 550L1300 545L1250 520L1200 500L1180 520L1150 540L1100 500L1050 480L1000 470L960 480L920 520L880 560L850 610L820 670L800 720L770 750L740 750L715 700L700 640L685 560L675 470L665 380L660 280L655 180L652 80Z" fill="#8cc84c"/><path d="M680 0L1414 0L1414 480L1350 470L1300 460L1250 440L1200 420L1180 430L1150 440L1100 400L1050 400L1000 400L960 420L930 470L900 520L870 560L840 600L810 660L790 700L760 710L730 690L710 640L695 580L690 500L685 420L682 320L680 220L680 100Z" fill="#f3dc56"/><path d="M700 0L1414 0L1414 420L1350 430L1300 420L1250 400L1200 380L1150 420L1100 430L1050 430L1000 430L960 450L920 480L890 520L860 560L830 580L800 570L770 560L740 560L700 540L690 480L700 400L705 300L702 150Z" fill="#fb9234"/><path d="M800 0L1414 0L1414 320L1350 320L1300 330L1250 310L1200 290L1150 300L1100 330L1060 350L1040 400L1000 400L980 350L960 300L940 250L920 230L900 250L880 300L860 350L830 330L810 250L805 120Z" fill="#f64a26"/><path d="M660 420C668 407 698 402 720 400C742 398 772 402 790 410C808 418 825 432 830 450C835 468 832 505 820 520C808 535 780 538 760 540C740 542 715 540 700 530C685 520 677 498 670 480C663 462 652 433 660 420Z" fill="#fa6a2a"/><path d="M680 0C690 -15 739 -10 750 0C761 10 750 42 745 60C740 78 729 105 720 110C711 115 697 108 690 90C683 72 670 15 680 0Z" fill="#0aa850"/><path d="M750 0C758 -17 791 -10 800 0C809 10 807 42 805 60C803 78 799 103 790 110C781 117 757 118 750 100C743 82 742 17 750 0Z" fill="#f3dc56"/><path d="M930 230C938 212 965 205 980 210C995 215 1014 225 1020 260C1026 295 1027 392 1015 420C1003 448 963 447 950 430C937 413 938 353 935 320C932 287 922 248 930 230Z" fill="#f3dc56"/><path d="M950 260C956 248 976 245 985 250C994 255 1002 263 1005 290C1008 317 1007 389 1000 410C993 431 970 430 962 415C954 400 954 346 952 320C950 294 944 272 950 260Z" fill="#0aa850"/><path d="M830 640C835 617 855 600 870 580C885 560 902 540 920 520C938 500 960 473 980 460C1000 447 1023 442 1040 440C1057 438 1067 443 1080 450C1093 457 1108 465 1120 480C1132 495 1142 517 1150 540C1158 563 1160 593 1165 620C1170 647 1179 677 1180 700C1181 723 1200 750 1170 760C1140 770 1053 760 1000 760C947 760 877 767 850 760C823 753 843 740 840 720C837 700 825 663 830 640Z" fill="#7cd0ec"/><path d="M845 650C851 622 866 613 880 595C894 577 910 560 928 540C946 520 966 492 985 478C1004 464 1024 460 1040 458C1056 456 1066 462 1078 468C1090 474 1102 481 1112 495C1122 509 1131 528 1138 550C1145 572 1148 600 1152 625C1156 650 1160 671 1165 700C1170 729 1176 767 1180 800C1184 833 1190 867 1190 900C1190 933 1187 970 1180 1000C1173 1030 1173 1060 1150 1080C1127 1100 1075 1117 1040 1120C1005 1123 967 1113 940 1100C913 1087 895 1065 880 1040C865 1015 856 982 850 950C844 918 846 882 845 850C844 818 842 793 842 760C842 727 839 678 845 650Z" fill="#dcf1fa"/><path d="M935 1414C908 1397 935 1331 940 1310C945 1289 954 1294 965 1290C976 1286 997 1290 1005 1285C1013 1280 1004 1267 1012 1262C1020 1257 1040 1258 1050 1255C1060 1252 1062 1242 1070 1245C1078 1248 1095 1247 1100 1275C1105 1303 1128 1391 1100 1414C1072 1437 962 1431 935 1414Z" fill="#a8e0f5"/><path d="M948 1414L950 1320L1003 1315L1005 1414Z" fill="#0aa850"/><path d="M955 1414L957 1325L998 1322L1000 1414Z" fill="#f64a26"/><path d="M972 1414L974 1350L988 1350L990 1414Z" fill="#f3dc56"/><path d="M1010 1414L1012 1290L1055 1285L1057 1414Z" fill="#0aa850"/><path d="M1016 1414L1018 1295L1050 1290L1052 1414Z" fill="#f64a26"/><path d="M1062 1340C1058 1331 1062 1295 1066 1285C1070 1275 1081 1271 1085 1280C1089 1289 1094 1330 1090 1340C1086 1350 1066 1349 1062 1340Z" fill="#0aa850"/><path d="M1067 1330C1064 1324 1068 1301 1070 1295C1072 1289 1080 1286 1082 1292C1084 1298 1088 1324 1085 1330C1082 1336 1070 1336 1067 1330Z" fill="#f64a26"/><path d="M1220 1250C1226 1243 1247 1268 1260 1280C1273 1292 1283 1308 1300 1320C1317 1332 1341 1343 1360 1350C1379 1357 1405 1349 1414 1360C1423 1371 1433 1406 1414 1414C1395 1422 1327 1412 1300 1405C1273 1398 1262 1384 1250 1370C1238 1356 1230 1340 1225 1320C1220 1300 1214 1257 1220 1250Z" fill="#a8e0f5"/><path d="M1270 1330C1277 1328 1302 1342 1320 1350C1338 1358 1364 1374 1380 1380C1396 1386 1408 1381 1414 1385C1420 1389 1428 1404 1414 1405C1400 1406 1352 1398 1330 1390C1308 1382 1290 1370 1280 1360C1270 1350 1263 1332 1270 1330Z" fill="#7cd0ec"/><path d="M700 540C710 530 738 525 760 520C782 515 810 518 830 510C850 502 862 485 880 470C898 455 920 432 940 420C960 408 980 405 1000 400C1020 395 1042 387 1060 390C1078 393 1097 405 1110 420C1123 435 1137 457 1140 480C1143 503 1137 543 1130 560C1123 577 1113 577 1100 580C1087 583 1067 580 1050 580C1033 580 1017 580 1000 580C983 580 967 577 950 580C933 583 915 595 900 600C885 605 873 608 860 610C847 612 833 612 820 610C807 608 793 603 780 600C767 597 753 593 740 590C727 587 707 588 700 580C693 572 690 550 700 540Z" fill="#f5a3a8" filter="url(#spk3)" opacity="1"/><path d="M540 570C547 562 582 562 600 555C618 548 633 532 650 525C667 518 682 514 700 510C718 506 740 502 760 500C780 498 805 502 820 500C835 498 837 493 850 490C863 487 883 483 900 480C917 477 933 470 950 470C967 470 987 472 1000 480C1013 488 1030 507 1030 520C1030 533 1013 552 1000 560C987 568 967 561 950 565C933 569 917 579 900 585C883 591 867 598 850 600C833 602 818 600 800 600C782 600 760 600 740 600C720 600 700 600 680 600C660 600 640 600 620 600C600 600 573 605 560 600C547 595 533 578 540 570Z" fill="#000" filter="url(#spk2)" opacity="1"/><path d="M660 520C670 508 697 508 720 505C743 502 778 501 800 500C822 499 843 490 850 500C857 510 852 547 840 560C828 573 803 575 780 580C757 585 720 590 700 590C680 590 667 592 660 580C653 568 650 532 660 520Z" fill="#000" filter="url(#spk3)" opacity="1"/><path d="M350 0C351 33 352 133 355 200C358 267 364 333 370 400C376 467 384 542 390 600C396 658 400 710 405 750C410 790 414 818 420 840C426 862 432 880 440 885C448 890 460 881 470 870C480 859 488 843 500 820C512 797 527 758 540 730C553 702 567 677 580 650C593 623 607 595 620 570C633 545 647 520 660 500C673 480 687 462 700 450C713 438 725 427 740 425C755 423 775 431 790 440C805 449 818 465 830 480C842 495 852 510 860 530C868 550 877 588 880 600" fill="none" stroke="#000" stroke-width="8.5" stroke-linejoin="round"/><path d="M460 0C457 17 447 58 440 100C433 142 423 200 420 250C417 300 418 353 420 400C422 447 426 488 430 530C434 572 440 622 445 650C450 678 452 693 460 700C468 707 480 700 490 690C500 680 508 658 520 640C532 622 547 600 560 580C573 560 587 542 600 520C613 498 625 472 640 450C655 428 673 407 690 390C707 373 725 358 740 350C755 342 767 338 780 340C793 342 808 350 820 360C832 370 842 385 850 400C858 415 867 442 870 450" fill="none" stroke="#000" stroke-width="8.5" stroke-linejoin="round"/><path d="M530 0C525 10 508 35 500 60C492 85 488 118 485 150C482 182 481 217 482 250C483 283 486 322 490 350C494 378 500 407 505 420C510 433 514 433 520 430C526 427 532 413 540 400C548 387 558 368 570 350C582 332 595 307 610 290C625 273 642 260 660 250C678 240 700 233 720 230C740 227 762 225 780 230C798 235 817 248 830 260C843 272 852 285 860 300C868 315 877 342 880 350" fill="none" stroke="#000" stroke-width="8.5" stroke-linejoin="round"/><path d="M700 130C707 125 727 107 740 100C753 93 767 90 780 90C793 90 807 90 820 100C833 110 848 125 860 150C872 175 883 217 890 250C897 283 898 322 900 350C902 378 900 408 900 420" fill="none" stroke="#000" stroke-width="8.5" stroke-linejoin="round"/><path d="M920 0C921 13 922 53 925 80C928 107 933 147 935 160" fill="none" stroke="#000" stroke-width="8.5" stroke-linejoin="round"/><path d="M965 0C965 13 964 53 965 80C966 107 968 147 968 160" fill="none" stroke="#000" stroke-width="8.5" stroke-linejoin="round"/><path d="M880 560C881 583 882 657 885 700C888 743 892 783 900 820C908 857 918 890 930 920C942 950 957 980 970 1000C983 1020 995 1034 1010 1040C1025 1046 1045 1045 1060 1035C1075 1025 1088 1002 1100 980C1112 958 1122 930 1130 900C1138 870 1145 842 1150 800C1155 758 1158 700 1160 650C1162 600 1159 550 1160 500C1161 450 1163 400 1165 350C1167 300 1168 258 1170 200C1172 142 1178 33 1180 0" fill="none" stroke="#000" stroke-width="8.5" stroke-linejoin="round"/><path d="M900 570C901 592 902 662 905 700C908 738 912 770 920 800C928 830 939 858 950 880C961 902 972 920 985 930C998 940 1016 945 1030 940C1044 935 1058 918 1070 900C1082 882 1092 860 1100 830C1108 800 1115 758 1120 720C1125 682 1128 645 1130 600C1132 555 1133 500 1135 450C1137 400 1138 350 1140 300C1142 250 1143 200 1145 150C1147 100 1149 25 1150 0" fill="none" stroke="#000" stroke-width="8.5" stroke-linejoin="round"/><path d="M930 560C931 575 932 620 935 650C938 680 943 715 950 740C957 765 965 785 975 800C985 815 998 827 1010 830C1022 833 1038 832 1050 820C1062 808 1072 783 1080 760C1088 737 1091 713 1095 680C1099 647 1102 603 1105 560C1108 517 1108 467 1110 420C1112 373 1113 333 1115 280C1117 227 1118 147 1120 100C1122 53 1124 17 1125 0" fill="none" stroke="#000" stroke-width="8.5" stroke-linejoin="round"/><path d="M960 560C961 570 962 602 965 620C968 638 972 658 980 670C988 682 1000 688 1010 690C1020 692 1032 690 1040 680C1048 670 1055 653 1060 630C1065 607 1067 573 1070 540C1073 507 1078 470 1080 430C1082 390 1083 347 1085 300C1087 253 1088 200 1090 150C1092 100 1094 25 1095 0" fill="none" stroke="#000" stroke-width="8.5" stroke-linejoin="round"/><path d="M200 130C210 127 222 140 230 160C238 180 242 210 245 250C248 290 250 350 250 400C250 450 248 508 245 550C242 592 236 627 230 650C224 673 217 685 210 690C203 695 197 695 190 680C183 665 175 638 170 600C165 562 162 500 160 450C158 400 158 345 160 300C162 255 163 208 170 180C177 152 190 133 200 130Z" fill="none" stroke="#000" stroke-width="8.5" stroke-dasharray="16 11" stroke-linejoin="round"/><path d="M1190 900C1191 875 1192 800 1195 750C1198 700 1204 650 1210 600C1216 550 1222 503 1230 450C1238 397 1250 328 1260 280C1270 232 1280 187 1290 160C1300 133 1310 120 1320 120C1330 120 1342 130 1350 160C1358 190 1365 252 1370 300C1375 348 1377 400 1380 450C1383 500 1388 550 1390 600C1392 650 1392 708 1390 750C1388 792 1382 833 1380 850" fill="none" stroke="#000" stroke-width="8.5" stroke-dasharray="16 11" stroke-linejoin="round"/><path d="M1230 450C1235 447 1248 437 1260 430C1272 423 1290 410 1300 410C1310 410 1313 415 1320 430C1327 445 1336 472 1340 500C1344 528 1345 558 1345 600C1345 642 1344 700 1340 750C1336 800 1328 858 1320 900C1312 942 1302 973 1290 1000C1278 1027 1263 1052 1250 1060C1237 1068 1220 1060 1210 1050C1200 1040 1195 1017 1190 1000C1185 983 1182 958 1180 950" fill="none" stroke="#000" stroke-width="8.5" stroke-dasharray="16 11" stroke-linejoin="round"/><path d="M800 780C802 792 805 822 810 850C815 878 822 917 830 950C838 983 848 1022 860 1050C872 1078 885 1102 900 1120C915 1138 933 1152 950 1160C967 1168 983 1167 1000 1165C1017 1163 1033 1161 1050 1150C1067 1139 1083 1125 1100 1100C1117 1075 1137 1033 1150 1000C1163 967 1175 917 1180 900" fill="none" stroke="#000" stroke-width="8.5" stroke-dasharray="16 11" stroke-linejoin="round"/><path d="M620 700C622 717 627 767 630 800C633 833 637 867 640 900C643 933 647 967 650 1000C653 1033 655 1067 660 1100C665 1133 673 1167 680 1200C687 1233 695 1264 700 1300C705 1336 708 1395 710 1414" fill="none" stroke="#000" stroke-width="8.5" stroke-dasharray="16 11" stroke-linejoin="round"/><path d="M580 800C579 817 577 867 575 900C573 933 571 967 570 1000C569 1033 569 1067 570 1100C571 1133 573 1167 575 1200C577 1233 579 1264 580 1300C581 1336 580 1395 580 1414" fill="none" stroke="#000" stroke-width="8.5" stroke-dasharray="16 11" stroke-linejoin="round"/><path d="M640 1414C647 1398 665 1344 680 1320C695 1296 713 1283 730 1270C747 1257 763 1247 780 1240C797 1233 813 1230 830 1230C847 1230 872 1238 880 1240" fill="none" stroke="#000" stroke-width="8.5" stroke-dasharray="16 11" stroke-linejoin="round"/><path d="M780 1414C783 1403 790 1366 800 1350C810 1334 827 1323 840 1320C853 1317 867 1320 880 1330C893 1340 913 1372 920 1380" fill="none" stroke="#000" stroke-width="8.5" stroke-dasharray="16 11" stroke-linejoin="round"/><path d="M840 1100C850 1113 882 1157 900 1180C918 1203 933 1227 950 1240C967 1253 983 1260 1000 1260C1017 1260 1033 1245 1050 1240C1067 1235 1083 1240 1100 1230C1117 1220 1133 1193 1150 1180C1167 1167 1185 1140 1200 1150C1215 1160 1227 1232 1240 1240C1253 1248 1267 1220 1280 1200C1293 1180 1307 1153 1320 1120C1333 1087 1350 1037 1360 1000C1370 963 1377 917 1380 900" fill="none" stroke="#000" stroke-width="8.5" stroke-dasharray="16 11" stroke-linejoin="round"/><path d="M20 0C23 17 35 67 40 100C45 133 48 167 50 200C52 233 55 267 55 300C55 333 52 367 50 400C48 433 43 467 40 500C37 533 34 567 30 600C26 633 18 683 15 700" fill="none" stroke="#0a3fa0" stroke-width="7.5" stroke-linejoin="round"/><path d="M480 200C477 217 467 267 460 300C453 333 446 367 440 400C434 433 428 467 425 500C422 533 420 567 420 600C420 633 423 667 425 700C427 733 428 767 430 800C432 833 437 867 440 900C443 933 445 970 450 1000C455 1030 462 1057 470 1080C478 1103 490 1123 500 1140C510 1157 517 1172 530 1180C543 1188 565 1195 580 1190C595 1185 608 1165 620 1150C632 1135 642 1117 650 1100C658 1083 667 1058 670 1050" fill="none" stroke="#0a3fa0" stroke-width="7.5" stroke-linejoin="round"/><path d="M520 200C517 217 507 267 500 300C493 333 485 367 480 400C475 433 472 467 470 500C468 533 468 567 470 600C472 633 475 667 480 700C485 733 493 770 500 800C507 830 512 858 520 880C528 902 537 918 550 930C563 942 585 950 600 950C615 950 628 942 640 930C652 918 663 898 670 880C677 862 678 830 680 820" fill="none" stroke="#0a3fa0" stroke-width="7.5" stroke-linejoin="round"/><path d="M560 200C557 217 547 267 540 300C533 333 525 367 520 400C515 433 512 467 510 500C508 533 508 567 510 600C512 633 518 670 525 700C532 730 546 767 550 780" fill="none" stroke="#0a3fa0" stroke-width="7.5" stroke-linejoin="round"/><path d="M600 0C598 17 593 67 590 100C587 133 583 167 580 200C577 233 572 283 570 300" fill="none" stroke="#0a3fa0" stroke-width="7.5" stroke-linejoin="round"/><path d="M700 250C703 267 718 317 720 350C722 383 713 417 710 450C707 483 703 517 700 550C697 583 692 617 690 650C688 683 686 733 685 750" fill="none" stroke="#0a3fa0" stroke-width="7.5" stroke-linejoin="round"/><path d="M1040 0C1042 17 1049 67 1050 100C1051 133 1046 183 1045 200" fill="none" stroke="#0a3fa0" stroke-width="7.5" stroke-linejoin="round"/><path d="M1210 0C1211 17 1213 67 1215 100C1217 133 1220 167 1220 200C1220 233 1215 267 1215 300C1215 333 1219 383 1220 400" fill="none" stroke="#0a3fa0" stroke-width="7.5" stroke-linejoin="round"/><path d="M1040 580C1040 600 1038 663 1040 700C1042 737 1048 767 1050 800C1052 833 1055 867 1055 900C1055 933 1051 983 1050 1000" fill="none" stroke="#0a3fa0" stroke-width="7.5" stroke-linejoin="round"/><path d="M1140 850C1142 867 1148 922 1150 950C1152 978 1150 1008 1150 1020" fill="none" stroke="#0a3fa0" stroke-width="7.5" stroke-linejoin="round"/><path d="M0 30C7 32 27 37 40 40C53 43 73 48 80 50" fill="none" stroke="#7d3fa8" stroke-width="7.5" stroke-linejoin="round"/><path d="M150 30C158 35 183 53 200 60C217 67 233 68 250 70C267 72 283 68 300 70C317 72 333 73 350 80C367 87 388 102 400 110C412 118 417 127 420 130" fill="none" stroke="#7d3fa8" stroke-width="7.5" stroke-linejoin="round"/><path d="M500 170C505 175 520 187 530 200C540 213 548 232 560 250C572 268 587 292 600 310C613 328 627 345 640 360C653 375 673 393 680 400" fill="none" stroke="#7d3fa8" stroke-width="7.5" stroke-linejoin="round"/><path d="M770 390C778 387 803 378 820 370C837 362 853 350 870 340C887 330 905 318 920 310C935 302 947 298 960 290C973 282 987 268 1000 260C1013 252 1033 243 1040 240" fill="none" stroke="#7d3fa8" stroke-width="7.5" stroke-linejoin="round"/><path d="M1100 240C1108 237 1133 225 1150 220C1167 215 1183 215 1200 210C1217 205 1233 197 1250 190C1267 183 1273 180 1300 170C1327 160 1395 137 1414 130" fill="none" stroke="#7d3fa8" stroke-width="7.5" stroke-linejoin="round"/><path d="M0 290C7 288 27 283 40 280C53 277 70 268 80 270C90 272 93 290 100 290C107 290 110 267 120 270C130 273 147 300 160 310C173 320 185 325 200 330C215 335 233 333 250 340C267 347 283 363 300 370C317 377 333 377 350 380C367 383 383 383 400 390C417 397 433 405 450 420C467 435 485 465 500 480C515 495 527 502 540 510C553 518 567 522 580 530C593 538 607 552 620 560C633 568 647 572 660 580C673 588 687 602 700 610C713 618 733 627 740 630" fill="none" stroke="#7d3fa8" stroke-width="7.5" stroke-linejoin="round"/><path d="M830 600C837 595 858 582 870 570C882 558 888 543 900 530C912 517 927 502 940 490C953 478 967 470 980 460C993 450 1007 440 1020 430C1033 420 1047 410 1060 400C1073 390 1085 378 1100 370C1115 362 1133 357 1150 350C1167 343 1183 337 1200 330C1217 323 1233 317 1250 310C1267 303 1283 297 1300 290C1317 283 1331 277 1350 270C1369 263 1403 253 1414 250" fill="none" stroke="#7d3fa8" stroke-width="7.5" stroke-linejoin="round"/><path d="M560 0C563 5 573 17 580 30C587 43 590 65 600 80C610 95 627 108 640 120C653 132 667 142 680 150C693 158 707 165 720 170C733 175 747 182 760 180C773 178 785 168 800 160C815 152 833 140 850 130C867 120 883 108 900 100C917 92 933 87 950 80C967 73 983 67 1000 60C1017 53 1033 47 1050 40C1067 33 1083 27 1100 20C1117 13 1142 3 1150 0" fill="none" stroke="#7d3fa8" stroke-width="7.5" stroke-linejoin="round"/><path d="M1150 480C1158 478 1183 477 1200 470C1217 463 1233 448 1250 440C1267 432 1283 427 1300 420C1317 413 1331 407 1350 400C1369 393 1403 383 1414 380" fill="none" stroke="#7d3fa8" stroke-width="7.5" stroke-linejoin="round"/><path d="M100 900C107 903 127 922 140 920C153 918 165 898 180 890C195 882 213 877 230 870C247 863 263 857 280 850C297 843 315 835 330 830C345 825 363 822 370 820" fill="none" stroke="#7d3fa8" stroke-width="7.5" stroke-linejoin="round"/><path d="M470 830C478 827 505 818 520 810C535 802 547 792 560 780C573 768 587 753 600 740C613 727 627 710 640 700C653 690 667 687 680 680C693 673 707 667 720 660C733 653 747 642 760 640C773 638 787 637 800 650C813 663 827 695 840 720C853 745 867 773 880 800C893 827 907 855 920 880C933 905 950 927 960 950C970 973 973 1005 980 1020C987 1035 992 1040 1000 1040C1008 1040 1020 1028 1030 1020C1040 1012 1050 1002 1060 990C1070 978 1080 965 1090 950C1100 935 1110 917 1120 900C1130 883 1140 863 1150 850C1160 837 1163 828 1180 820C1197 812 1230 807 1250 800C1270 793 1283 783 1300 780C1317 777 1331 778 1350 780C1369 782 1403 788 1414 790" fill="none" stroke="#7d3fa8" stroke-width="7.5" stroke-linejoin="round"/><path d="M0 1250C8 1249 33 1247 50 1245C67 1243 87 1239 100 1240C113 1241 122 1253 130 1250C138 1247 138 1228 150 1220C162 1212 183 1205 200 1200C217 1195 233 1193 250 1190C267 1187 283 1185 300 1180C317 1175 333 1168 350 1160C367 1152 383 1138 400 1130C417 1122 433 1118 450 1110C467 1102 483 1092 500 1080C517 1068 533 1057 550 1040C567 1023 583 1000 600 980C617 960 633 938 650 920C667 902 687 883 700 870C713 857 725 845 730 840" fill="none" stroke="#7d3fa8" stroke-width="7.5" stroke-linejoin="round"/><path d="M470 1414C475 1400 490 1352 500 1330C510 1308 518 1293 530 1280C542 1267 563 1255 570 1250" fill="none" stroke="#7d3fa8" stroke-width="7.5" stroke-linejoin="round"/><path d="M640 1220C650 1217 680 1205 700 1200C720 1195 740 1192 760 1190C780 1188 800 1185 820 1190C840 1195 863 1212 880 1220C897 1228 913 1237 920 1240" fill="none" stroke="#7d3fa8" stroke-width="7.5" stroke-linejoin="round"/><path d="M1000 1250C1005 1250 1020 1258 1030 1250C1040 1242 1052 1217 1060 1200C1068 1183 1073 1167 1080 1150C1087 1133 1093 1117 1100 1100C1107 1083 1113 1067 1120 1050C1127 1033 1135 1015 1140 1000C1145 985 1148 967 1150 960" fill="none" stroke="#7d3fa8" stroke-width="7.5" stroke-linejoin="round"/><text x="115" y="75" fill="#7d3fa8" font-size="50" font-family="Liberation Sans, sans-serif" text-anchor="middle" transform="rotate(-10 115 75)">370</text><text x="460" y="165" fill="#7d3fa8" font-size="50" font-family="Liberation Sans, sans-serif" text-anchor="middle" transform="rotate(20 460 165)">370</text><text x="720" y="420" fill="#7d3fa8" font-size="50" font-family="Liberation Sans, sans-serif" text-anchor="middle" transform="rotate(-10 720 420)">370</text><text x="1070" y="250" fill="#7d3fa8" font-size="50" font-family="Liberation Sans, sans-serif" text-anchor="middle" transform="rotate(-10 1070 250)">370</text><text x="780" y="635" fill="#7d3fa8" font-size="50" font-family="Liberation Sans, sans-serif" text-anchor="middle" transform="rotate(-10 780 635)">330</text><text x="60" y="920" fill="#7d3fa8" font-size="50" font-family="Liberation Sans, sans-serif" text-anchor="middle" transform="rotate(0 60 920)">330</text><text x="420" y="850" fill="#7d3fa8" font-size="50" font-family="Liberation Sans, sans-serif" text-anchor="middle" transform="rotate(0 420 850)">330</text><text x="600" y="1255" fill="#7d3fa8" font-size="50" font-family="Liberation Sans, sans-serif" text-anchor="middle" transform="rotate(-30 600 1255)">290</text><text x="955" y="1235" fill="#7d3fa8" font-size="50" font-family="Liberation Sans, sans-serif" text-anchor="middle" transform="rotate(0 955 1235)">290</text><path d="M550 0C552 17 555 58 560 100C565 142 573 200 580 250C587 300 595 350 600 400C605 450 607 508 610 550C613 592 613 622 620 650C627 678 637 697 650 720C663 743 682 782 700 790C718 798 743 782 760 770C777 758 788 742 800 720C812 698 818 663 830 640C842 617 855 600 870 580C885 560 902 542 920 520C938 498 960 465 980 450C1000 435 1023 432 1040 430C1057 428 1067 433 1080 440C1093 447 1108 455 1120 470C1132 485 1142 508 1150 530C1158 552 1162 575 1170 600C1178 625 1192 657 1200 680C1208 703 1210 738 1220 740C1230 742 1247 703 1260 690C1273 677 1285 668 1300 660C1315 652 1331 645 1350 640C1369 635 1403 632 1414 630" fill="none" stroke="#f01010" stroke-width="7.5" stroke-linejoin="round"/></g>
</g>
<rect x="540.4" y="469.0" width="379.3" height="379.4" fill="none" stroke="#1a1a1a" stroke-width="1.4"/>
<path d="M540.40 848.40v10.5M540.40 469.00v-10.5M582.54 848.40v5.0M582.54 469.00v-5.0M624.69 848.40v5.0M624.69 469.00v-5.0M666.83 848.40v10.5M666.83 469.00v-10.5M708.98 848.40v5.0M708.98 469.00v-5.0M751.12 848.40v5.0M751.12 469.00v-5.0M793.27 848.40v10.5M793.27 469.00v-10.5M835.41 848.40v5.0M835.41 469.00v-5.0M877.56 848.40v5.0M877.56 469.00v-5.0M919.70 848.40v10.5M919.70 469.00v-10.5M540.40 469.00h-10.5M540.40 535.78h-10.5M540.40 583.16h-10.5M540.40 619.91h-10.5M540.40 649.94h-10.5M540.40 697.32h-10.5M540.40 734.07h-10.5M540.40 789.49h-10.5M540.40 821.47h-10.5M540.40 848.24h-10.5M919.70 475.20h10.4M919.70 578.40h10.4M919.70 678.90h10.4M919.70 769.00h10.4" stroke="#1a1a1a" stroke-width="1.4" fill="none"/>
<text x="547.9" y="453.7" font-family="Liberation Sans, sans-serif" font-size="17" fill="#000">(e)</text>
<text x="921.4000000000001" y="454.0" font-family="Liberation Sans, sans-serif" font-size="17.4" fill="#000" text-anchor="end">00:00 UTC 8 January 2001</text>
<g clip-path="url(#cpf)">
<rect x="969.3" y="468.5" width="379.3" height="379.4" fill="#dcf1fa"/>
<g transform="translate(969,468) scale(0.268741)"><path d="M0 0L300 0L290 120L260 200L250 300L230 400L210 480L170 500L150 420L120 350L100 280L60 250L40 400L30 600L0 700Z" fill="#a8e0f5"/><path d="M60 0L280 0L270 100L250 180L240 280L220 380L200 460L175 470L160 400L130 320L100 250L70 200Z" fill="#7cd0ec"/><path d="M90 0L260 0L255 100L240 180L225 280L205 380L190 440L175 440L160 380L135 300L110 230L95 150Z" fill="#3d9fd0"/><path d="M110 0L240 0L235 100L220 180L210 260L195 330L180 330L160 280L135 200L115 100Z" fill="#079a80"/><path d="M130 0L220 0L215 80L205 160L195 240L185 280L170 260L150 180L135 80Z" fill="#0aa850"/><path d="M280 0L340 0L330 80L300 100Z" fill="#a8e0f5"/><path d="M480 0L1414 0L1414 880L1380 860L1300 830L1250 850L1220 900L1200 950L1180 900L1190 800L1170 700L1000 700L850 700L800 800L770 880L720 900L680 900L620 890L590 850L575 750L560 620L530 500L500 380L490 250L485 100Z" fill="#a8e0f5"/><path d="M500 0L1414 0L1414 820L1380 800L1300 780L1250 790L1220 830L1205 870L1195 800L1185 720L1000 720L850 720L790 780L760 860L720 880L680 880L630 870L600 830L585 730L570 600L545 500L515 380L505 250L500 100Z" fill="#7cd0ec"/><path d="M520 0L1414 0L1414 770L1380 750L1300 740L1250 750L1225 780L1210 760L1200 700L1000 700L850 700L780 760L750 840L720 860L680 860L640 850L615 800L600 700L585 580L560 480L535 370L522 250L520 100Z" fill="#3d9fd0"/><path d="M535 0L1414 0L1414 720L1380 700L1300 690L1250 700L1225 720L1210 700L1200 650L1000 650L850 650L770 720L740 800L715 830L680 830L650 820L630 770L615 680L600 560L578 460L555 350L540 230Z" fill="#079a80"/><path d="M550 0L1414 0L1414 660L1380 650L1300 640L1250 650L1225 660L1210 640L1200 600L1000 600L900 620L880 680L860 760L830 800L780 810L720 805L680 795L650 770L628 700L610 600L590 460L570 330L555 200Z" fill="#0aa850"/><path d="M575 0L1414 0L1414 580L1380 570L1300 560L1250 570L1220 580L1200 560L1190 520L1000 520L920 530L890 560L870 620L845 700L815 760L765 775L705 765L662 735L635 665L612 540L595 400L585 200Z" fill="#8cc84c"/><path d="M630 0L1414 0L1414 530L1380 520L1300 510L1250 520L1220 530L1200 500L1190 470L1000 470L920 480L880 500L860 540L835 620L810 690L780 730L730 740L685 730L655 690L632 610L615 490L615 300L625 100Z" fill="#f3dc56"/><path d="M660 0L1414 0L1414 470L1380 460L1300 440L1250 450L1220 460L1200 430L1180 400L1000 400L920 410L880 440L850 480L830 540L805 620L775 690L720 705L680 695L655 645L640 560L635 450L640 300L650 150Z" fill="#fb9234"/><path d="M800 0L1414 0L1414 380L1380 380L1300 370L1250 380L1220 390L1200 360L1170 330L1120 340L1100 350L1080 300L1060 200L1040 250L1010 330L980 360L940 360L900 380L860 400L840 380L830 300L820 200L810 100Z" fill="#f64a26"/><path d="M700 0C715 -25 783 -20 800 0C817 20 803 90 800 120C797 150 790 167 780 180C770 193 752 205 740 200C728 195 717 183 710 150C703 117 685 25 700 0Z" fill="#0aa850"/><path d="M760 0C766 -13 793 -10 800 0C807 10 803 35 800 60C797 85 786 147 780 150C774 153 768 105 765 80C762 55 754 13 760 0Z" fill="#7cd0ec"/><path d="M1030 120C1033 67 1050 63 1060 60C1070 57 1083 48 1090 100C1097 152 1108 323 1100 370C1092 417 1052 422 1040 380C1028 338 1027 173 1030 120Z" fill="#8cc84c"/><path d="M1045 150C1048 108 1058 108 1065 110C1072 112 1081 118 1085 160C1089 202 1096 326 1090 360C1084 394 1058 400 1050 365C1042 330 1042 192 1045 150Z" fill="#0aa850"/><path d="M800 600C810 577 833 577 850 560C867 543 883 522 900 500C917 478 933 448 950 430C967 412 982 398 1000 390C1018 382 1042 380 1060 380C1078 380 1093 382 1110 390C1127 398 1147 408 1160 430C1173 452 1183 488 1190 520C1197 552 1198 587 1200 620C1202 653 1205 682 1205 720C1205 758 1204 812 1200 850C1196 888 1190 920 1180 950C1170 980 1157 1010 1140 1030C1123 1050 1107 1062 1080 1070C1053 1078 1010 1083 980 1080C950 1077 923 1065 900 1050C877 1035 855 1015 840 990C825 965 818 932 810 900C802 868 798 833 795 800C792 767 789 733 790 700C791 667 790 623 800 600Z" fill="#dcf1fa"/><path d="M880 1414C843 1388 878 1291 890 1260C902 1229 930 1233 950 1230C970 1227 992 1240 1010 1240C1028 1240 1045 1227 1060 1230C1075 1233 1092 1229 1100 1260C1108 1291 1147 1388 1110 1414C1073 1440 917 1440 880 1414Z" fill="#a8e0f5"/><path d="M900 1414C870 1392 902 1307 910 1280C918 1253 935 1253 950 1250C965 1247 983 1260 1000 1260C1017 1260 1037 1248 1050 1250C1063 1252 1073 1243 1080 1270C1087 1297 1120 1390 1090 1414C1060 1438 930 1436 900 1414Z" fill="#3d9fd0"/><path d="M915 1414C892 1395 918 1324 925 1300C932 1276 946 1275 960 1270C974 1265 997 1267 1010 1270C1023 1273 1032 1266 1040 1290C1048 1314 1081 1393 1060 1414C1039 1435 938 1433 915 1414Z" fill="#0aa850"/><path d="M925 1414C908 1398 929 1343 935 1320C941 1297 949 1282 960 1275C971 1268 989 1269 1000 1275C1011 1281 1019 1287 1025 1310C1031 1333 1052 1397 1035 1414C1018 1431 942 1430 925 1414Z" fill="#f64a26"/><path d="M1250 1414C1228 1403 1267 1364 1280 1350C1293 1336 1313 1332 1330 1330C1347 1328 1366 1342 1380 1340C1394 1338 1408 1308 1414 1320C1420 1332 1441 1398 1414 1414C1387 1430 1272 1425 1250 1414Z" fill="#a8e0f5"/><path d="M1300 1414C1286 1408 1317 1386 1330 1380C1343 1374 1366 1382 1380 1380C1394 1378 1408 1364 1414 1370C1420 1376 1433 1407 1414 1414C1395 1421 1314 1420 1300 1414Z" fill="#7cd0ec"/><path d="M780 1260C782 1248 808 1227 820 1230C832 1233 852 1268 850 1280C848 1292 822 1303 810 1300C798 1297 778 1272 780 1260Z" fill="#a8e0f5"/><path d="M1100 1300C1103 1280 1122 1267 1130 1280C1138 1293 1148 1360 1145 1380C1142 1400 1118 1413 1110 1400C1102 1387 1097 1320 1100 1300Z" fill="#a8e0f5"/><path d="M580 340C592 312 622 332 650 330C678 328 717 330 750 330C783 330 817 328 850 330C883 332 920 335 950 340C980 345 1013 347 1030 360C1047 373 1055 403 1050 420C1045 437 1025 447 1000 460C975 473 925 483 900 500C875 517 867 540 850 560C833 580 820 607 800 620C780 633 753 637 730 640C707 643 680 647 660 640C640 633 623 623 610 600C597 577 585 543 580 500C575 457 568 368 580 340Z" fill="#000" filter="url(#spk1)" opacity="1"/><path d="M830 560C835 543 855 517 870 500C885 483 902 473 920 460C938 447 958 432 980 420C1002 408 1027 397 1050 390C1073 383 1100 375 1120 380C1140 385 1158 400 1170 420C1182 440 1192 470 1195 500C1198 530 1198 573 1190 600C1182 627 1168 645 1150 660C1132 675 1105 685 1080 690C1055 695 1025 693 1000 690C975 687 952 678 930 670C908 662 885 652 870 640C855 628 847 613 840 600C833 587 825 577 830 560Z" fill="#f5a3a8" filter="url(#spk3)" opacity="1"/><path d="M640 520C648 505 677 510 700 510C723 510 757 520 780 520C803 520 827 507 840 510C853 513 863 527 860 540C857 553 837 578 820 590C803 602 780 605 760 610C740 615 718 622 700 620C682 618 660 617 650 600C640 583 632 535 640 520Z" fill="#000" filter="url(#spk3)" opacity="1"/><path d="M900 370C905 355 933 352 950 350C967 348 987 353 1000 360C1013 367 1027 378 1030 390C1033 402 1030 420 1020 430C1010 440 987 448 970 450C953 452 932 453 920 440C908 427 895 385 900 370Z" fill="#000" filter="url(#spk3)" opacity="1"/><path d="M400 0C400 17 398 67 400 100C402 133 406 158 410 200C414 242 419 303 425 350C431 397 438 442 445 480C452 518 460 555 465 580C470 605 468 625 475 630C482 635 498 617 510 610C522 603 535 598 550 590C565 582 592 565 600 560" fill="none" stroke="#000" stroke-width="8.5" stroke-linejoin="round"/><path d="M470 0C472 17 477 67 480 100C483 133 487 167 490 200C493 233 495 275 500 300C505 325 510 337 520 350C530 363 547 368 560 380C573 392 587 407 600 420C613 433 627 447 640 460C653 473 673 493 680 500" fill="none" stroke="#000" stroke-width="8.5" stroke-linejoin="round"/><path d="M520 0C522 17 526 67 530 100C534 133 540 170 545 200C550 230 552 260 560 280C568 300 578 312 590 320C602 328 615 327 630 330C645 333 662 335 680 340C698 345 722 350 740 360C758 370 782 393 790 400" fill="none" stroke="#000" stroke-width="8.5" stroke-linejoin="round"/><path d="M760 0C762 17 765 73 770 100C775 127 782 148 790 160C798 172 810 177 820 170C830 163 842 125 850 120C858 115 862 140 870 140C878 140 892 113 900 120C908 127 912 167 920 180C928 193 943 205 950 200C957 195 958 158 960 150" fill="none" stroke="#000" stroke-width="8.5" stroke-linejoin="round"/><path d="M1000 0C1002 17 1007 67 1010 100C1013 133 1022 167 1020 200C1018 233 1007 275 1000 300C993 325 983 342 980 350" fill="none" stroke="#000" stroke-width="8.5" stroke-linejoin="round"/><path d="M1090 0C1088 17 1082 67 1080 100C1078 133 1075 167 1075 200C1075 233 1078 270 1080 300C1082 330 1088 367 1090 380" fill="none" stroke="#000" stroke-width="8.5" stroke-linejoin="round"/><path d="M1120 0C1120 17 1118 67 1120 100C1122 133 1127 167 1130 200C1133 233 1137 267 1140 300C1143 333 1148 383 1150 400" fill="none" stroke="#000" stroke-width="8.5" stroke-linejoin="round"/><path d="M1170 0C1170 17 1169 67 1170 100C1171 133 1173 167 1175 200C1177 233 1178 267 1180 300C1182 333 1188 383 1190 400" fill="none" stroke="#000" stroke-width="8.5" stroke-linejoin="round"/><path d="M1220 0C1220 17 1219 67 1220 100C1221 133 1223 167 1225 200C1227 233 1228 267 1230 300C1232 333 1238 383 1240 400" fill="none" stroke="#000" stroke-width="8.5" stroke-linejoin="round"/><path d="M820 560C817 575 805 618 800 650C795 682 790 717 790 750C790 783 793 817 800 850C807 883 817 922 830 950C843 978 860 1001 880 1020C900 1039 928 1057 950 1065C972 1073 988 1074 1010 1070C1032 1066 1060 1057 1080 1040C1100 1023 1117 997 1130 970C1143 943 1152 912 1160 880C1168 848 1175 813 1180 780C1185 747 1187 713 1190 680C1193 647 1197 613 1200 580C1203 547 1207 513 1210 480C1213 447 1218 397 1220 380" fill="none" stroke="#000" stroke-width="8.5" stroke-linejoin="round"/><path d="M840 600C838 617 830 667 830 700C830 733 833 770 840 800C847 830 857 855 870 880C883 905 902 932 920 950C938 968 960 983 980 990C1000 997 1022 997 1040 990C1058 983 1077 968 1090 950C1103 932 1112 905 1120 880C1128 855 1135 830 1140 800C1145 770 1147 733 1150 700C1153 667 1157 633 1160 600C1163 567 1167 533 1170 500C1173 467 1178 417 1180 400" fill="none" stroke="#000" stroke-width="8.5" stroke-linejoin="round"/><path d="M870 620C870 633 867 673 870 700C873 727 880 757 890 780C900 803 915 823 930 840C945 857 963 873 980 880C997 887 1015 887 1030 880C1045 873 1058 857 1070 840C1082 823 1093 803 1100 780C1107 757 1107 730 1110 700C1113 670 1117 633 1120 600C1123 567 1128 517 1130 500" fill="none" stroke="#000" stroke-width="8.5" stroke-linejoin="round"/><path d="M910 620C912 630 913 660 920 680C927 700 938 725 950 740C962 755 977 767 990 770C1003 773 1018 768 1030 760C1042 752 1052 738 1060 720C1068 702 1072 677 1075 650C1078 623 1079 575 1080 560" fill="none" stroke="#000" stroke-width="8.5" stroke-linejoin="round"/><path d="M950 580C952 592 957 632 965 650C973 668 989 685 1000 690C1011 695 1022 692 1030 680C1038 668 1043 642 1045 620C1047 598 1041 562 1040 550" fill="none" stroke="#000" stroke-width="8.5" stroke-linejoin="round"/><path d="M150 100C163 94 186 88 200 95C214 102 228 114 235 140C242 166 242 215 240 250C238 285 227 317 220 350C213 383 206 426 200 450C194 474 190 490 185 495C180 500 176 496 170 480C164 464 157 430 150 400C143 370 137 333 130 300C123 267 112 228 110 200C108 172 113 147 120 130C127 113 137 106 150 100Z" fill="none" stroke="#000" stroke-width="8.5" stroke-dasharray="16 11" stroke-linejoin="round"/><path d="M280 0C282 17 287 58 290 100C293 142 293 200 300 250C307 300 322 358 330 400C338 442 348 458 350 500C352 542 348 600 340 650C332 700 313 758 300 800C287 842 270 867 260 900C250 933 250 980 240 1000C230 1020 212 1020 200 1020C188 1020 178 1020 170 1000C162 980 157 933 150 900C143 867 137 833 130 800C123 767 118 733 110 700C102 667 87 633 80 600C73 567 72 517 70 500" fill="none" stroke="#000" stroke-width="8.5" stroke-dasharray="16 11" stroke-linejoin="round"/><path d="M0 700C10 710 42 740 60 760C78 780 93 803 110 820C127 837 145 857 160 860C175 863 193 843 200 840" fill="none" stroke="#000" stroke-width="8.5" stroke-dasharray="16 11" stroke-linejoin="round"/><path d="M620 740C609 740 591 768 580 790C569 812 561 842 555 870C549 898 545 930 545 960C545 990 548 1027 555 1050C562 1073 576 1092 585 1100C594 1108 602 1112 610 1095C618 1078 626 1036 632 1000C638 964 646 915 648 880C650 845 650 813 645 790C640 767 631 740 620 740Z" fill="none" stroke="#000" stroke-width="8.5" stroke-dasharray="16 11" stroke-linejoin="round"/><path d="M1320 230C1328 235 1342 252 1350 280C1358 308 1367 355 1370 400C1373 445 1372 500 1370 550C1368 600 1365 650 1360 700C1355 750 1350 803 1340 850C1330 897 1313 945 1300 980C1287 1015 1273 1047 1260 1060C1247 1073 1230 1070 1220 1060C1210 1050 1205 1030 1200 1000C1195 970 1190 922 1190 880C1190 838 1195 797 1200 750C1205 703 1212 650 1220 600C1228 550 1240 497 1250 450C1260 403 1272 353 1280 320C1288 287 1293 265 1300 250C1307 235 1312 225 1320 230Z" fill="none" stroke="#000" stroke-width="8.5" stroke-dasharray="16 11" stroke-linejoin="round"/><path d="M1250 520C1257 518 1278 505 1290 510C1302 515 1313 527 1320 550C1327 573 1330 617 1330 650C1330 683 1327 717 1320 750C1313 783 1295 833 1290 850" fill="none" stroke="#000" stroke-width="8.5" stroke-dasharray="16 11" stroke-linejoin="round"/><path d="M700 1414C708 1403 733 1369 750 1350C767 1331 787 1318 800 1300C813 1282 818 1252 830 1240C842 1228 855 1228 870 1230C885 1232 905 1242 920 1250C935 1258 947 1278 960 1280C973 1282 985 1268 1000 1260C1015 1252 1037 1240 1050 1230C1063 1220 1068 1213 1080 1200C1092 1187 1107 1167 1120 1150C1133 1133 1147 1125 1160 1100C1173 1075 1193 1017 1200 1000" fill="none" stroke="#000" stroke-width="8.5" stroke-dasharray="16 11" stroke-linejoin="round"/><path d="M780 1414C783 1403 790 1364 800 1350C810 1336 827 1328 840 1330C853 1332 873 1355 880 1360" fill="none" stroke="#000" stroke-width="8.5" stroke-dasharray="16 11" stroke-linejoin="round"/><path d="M1000 1414C1003 1403 1012 1369 1020 1350C1028 1331 1040 1318 1050 1300C1060 1282 1072 1253 1080 1240C1088 1227 1092 1210 1100 1220C1108 1230 1123 1268 1130 1300C1137 1332 1138 1395 1140 1414" fill="none" stroke="#000" stroke-width="8.5" stroke-dasharray="16 11" stroke-linejoin="round"/><path d="M1150 1414C1153 1395 1162 1336 1170 1300C1178 1264 1187 1225 1200 1200C1213 1175 1233 1167 1250 1150C1267 1133 1285 1125 1300 1100C1315 1075 1328 1033 1340 1000C1352 967 1362 933 1370 900C1378 867 1385 833 1390 800C1395 767 1398 717 1400 700" fill="none" stroke="#000" stroke-width="8.5" stroke-dasharray="16 11" stroke-linejoin="round"/><path d="M40 0C47 33 72 142 80 200C88 258 89 292 90 350C91 408 88 492 85 550C82 608 76 655 70 700C64 745 57 790 50 820C43 850 33 870 30 880" fill="none" stroke="#0a3fa0" stroke-width="7.5" stroke-linejoin="round"/><path d="M0 230C2 247 12 295 12 330C12 365 2 422 0 440" fill="none" stroke="#0a3fa0" stroke-width="7.5" stroke-linejoin="round"/><path d="M380 220C382 242 387 303 390 350C393 397 395 450 400 500C405 550 413 600 420 650C427 700 435 750 440 800C445 850 447 900 450 950C453 1000 455 1065 460 1100C465 1135 470 1152 480 1160C490 1168 507 1158 520 1150C533 1142 547 1125 560 1110C573 1095 590 1078 600 1060C610 1042 617 1010 620 1000" fill="none" stroke="#0a3fa0" stroke-width="7.5" stroke-linejoin="round"/><path d="M420 450C422 467 425 517 430 550C435 583 443 617 450 650C457 683 463 717 470 750C477 783 483 817 490 850C497 883 503 925 510 950C517 975 520 992 530 1000C540 1008 558 1007 570 1000C582 993 595 967 600 960" fill="none" stroke="#0a3fa0" stroke-width="7.5" stroke-linejoin="round"/><path d="M500 315C506 312 522 329 525 340C528 351 520 378 515 380C510 382 494 366 492 355C490 344 494 318 500 315Z" fill="none" stroke="#0a3fa0" stroke-width="7.5" stroke-linejoin="round"/><path d="M540 600C542 617 547 667 550 700C553 733 557 775 560 800C563 825 568 842 570 850" fill="none" stroke="#0a3fa0" stroke-width="7.5" stroke-linejoin="round"/><path d="M600 0C602 17 608 67 610 100C612 133 613 167 615 200C617 233 619 283 620 300" fill="none" stroke="#0a3fa0" stroke-width="7.5" stroke-linejoin="round"/><path d="M700 200C702 217 709 267 710 300C711 333 706 383 705 400" fill="none" stroke="#0a3fa0" stroke-width="7.5" stroke-linejoin="round"/><path d="M1040 0C1041 17 1043 67 1045 100C1047 133 1051 170 1050 200C1049 230 1042 267 1040 280" fill="none" stroke="#0a3fa0" stroke-width="7.5" stroke-linejoin="round"/><path d="M1270 0C1270 17 1272 67 1270 100C1268 133 1262 167 1260 200C1258 233 1257 267 1255 300C1253 333 1251 383 1250 400" fill="none" stroke="#0a3fa0" stroke-width="7.5" stroke-linejoin="round"/><path d="M1050 700C1052 717 1057 767 1060 800C1063 833 1067 875 1070 900C1073 925 1075 937 1080 950C1085 963 1090 973 1100 980C1110 987 1128 987 1140 990C1152 993 1165 998 1170 1000" fill="none" stroke="#0a3fa0" stroke-width="7.5" stroke-linejoin="round"/><path d="M1190 700C1192 717 1197 767 1200 800C1203 833 1210 867 1210 900C1210 933 1202 983 1200 1000" fill="none" stroke="#0a3fa0" stroke-width="7.5" stroke-linejoin="round"/><path d="M0 80 L40 95" fill="none" stroke="#7d3fa8" stroke-width="7.5" stroke-linejoin="round"/><path d="M110 120C117 123 135 137 150 140C165 143 183 143 200 140C217 137 233 125 250 120C267 115 283 112 300 110C317 108 337 108 350 110C363 112 375 118 380 120" fill="none" stroke="#7d3fa8" stroke-width="7.5" stroke-linejoin="round"/><path d="M440 210C447 217 467 235 480 250C493 265 507 283 520 300C533 317 547 337 560 350C573 363 585 373 600 380C615 387 633 389 650 390C667 391 683 387 700 385C717 383 733 386 750 380C767 374 783 360 800 350C817 340 833 328 850 320C867 312 883 307 900 300C917 293 933 287 950 280C967 273 983 267 1000 260C1017 253 1042 243 1050 240" fill="none" stroke="#7d3fa8" stroke-width="7.5" stroke-linejoin="round"/><path d="M1100 230C1108 228 1133 223 1150 220C1167 217 1183 213 1200 210C1217 207 1233 205 1250 200C1267 195 1283 187 1300 180C1317 173 1331 168 1350 160C1369 152 1403 135 1414 130" fill="none" stroke="#7d3fa8" stroke-width="7.5" stroke-linejoin="round"/><path d="M0 300C8 300 33 298 50 300C67 302 83 305 100 310C117 315 133 327 150 330C167 333 183 328 200 330C217 332 233 332 250 340C267 348 283 365 300 380C317 395 333 418 350 430C367 442 383 445 400 450C417 455 433 455 450 460C467 465 483 473 500 480C517 487 533 495 550 500C567 505 583 508 600 510C617 512 633 512 650 510C667 508 683 507 700 500C717 493 733 480 750 470C767 460 783 450 800 440C817 430 833 420 850 410C867 400 883 390 900 380C917 370 933 358 950 350C967 342 983 333 1000 330C1017 327 1033 330 1050 330C1067 330 1083 328 1100 330C1117 332 1133 340 1150 340C1167 340 1183 335 1200 330C1217 325 1233 317 1250 310C1267 303 1273 300 1300 290C1327 280 1395 257 1414 250" fill="none" stroke="#7d3fa8" stroke-width="7.5" stroke-linejoin="round"/><path d="M500 0C508 5 533 20 550 30C567 40 583 55 600 60C617 65 633 62 650 60C667 58 683 50 700 50C717 50 733 55 750 60C767 65 792 77 800 80" fill="none" stroke="#7d3fa8" stroke-width="7.5" stroke-linejoin="round"/><path d="M900 70C908 68 933 65 950 60C967 55 983 47 1000 40C1017 33 1033 27 1050 20C1067 13 1092 3 1100 0" fill="none" stroke="#7d3fa8" stroke-width="7.5" stroke-linejoin="round"/><path d="M600 120C608 125 633 142 650 150C667 158 683 158 700 170C717 182 733 205 750 220C767 235 783 255 800 260C817 265 833 255 850 250C867 245 883 238 900 230C917 222 933 208 950 200C967 192 983 187 1000 180C1017 173 1033 167 1050 160C1067 153 1083 147 1100 140C1117 133 1133 127 1150 120C1167 113 1175 110 1200 100C1225 90 1264 77 1300 60C1336 43 1395 10 1414 0" fill="none" stroke="#7d3fa8" stroke-width="7.5" stroke-linejoin="round"/><path d="M0 830C7 830 27 832 40 830C53 828 67 823 80 820C93 817 105 813 120 810C135 807 155 803 170 800C185 797 197 792 210 790C223 788 235 792 250 790C265 788 292 782 300 780" fill="none" stroke="#7d3fa8" stroke-width="7.5" stroke-linejoin="round"/><path d="M420 780C430 778 463 773 480 770C497 767 507 765 520 760C533 755 547 748 560 740C573 732 587 720 600 710C613 700 627 690 640 680C653 670 670 657 680 650C690 643 697 642 700 640" fill="none" stroke="#7d3fa8" stroke-width="7.5" stroke-linejoin="round"/><path d="M780 600C787 597 803 587 820 580C837 573 858 567 880 560C902 553 930 545 950 540C970 535 983 533 1000 530C1017 527 1033 523 1050 520C1067 517 1083 512 1100 510C1117 508 1133 510 1150 510C1167 510 1183 512 1200 510C1217 508 1233 505 1250 500C1267 495 1283 487 1300 480C1317 473 1331 467 1350 460C1369 453 1403 443 1414 440" fill="none" stroke="#7d3fa8" stroke-width="7.5" stroke-linejoin="round"/><path d="M560 880C567 877 585 868 600 860C615 852 633 842 650 830C667 818 683 797 700 790C717 783 733 787 750 790C767 793 783 797 800 810C817 823 833 850 850 870C867 890 883 913 900 930C917 947 933 958 950 970C967 982 983 997 1000 1000C1017 1003 1033 995 1050 990C1067 985 1083 977 1100 970C1117 963 1133 962 1150 950C1167 938 1183 917 1200 900C1217 883 1233 867 1250 850C1267 833 1283 812 1300 800C1317 788 1331 782 1350 780C1369 778 1403 788 1414 790" fill="none" stroke="#7d3fa8" stroke-width="7.5" stroke-linejoin="round"/><path d="M0 1230C8 1227 33 1215 50 1210C67 1205 83 1205 100 1200C117 1195 133 1177 150 1180C167 1183 183 1217 200 1220C217 1223 233 1207 250 1200C267 1193 283 1188 300 1180C317 1172 333 1158 350 1150C367 1142 383 1143 400 1130C417 1117 437 1092 450 1070C463 1048 472 1020 480 1000C488 980 492 967 500 950C508 933 520 913 530 900C540 887 555 875 560 870" fill="none" stroke="#7d3fa8" stroke-width="7.5" stroke-linejoin="round"/><path d="M420 1414C425 1403 437 1369 450 1350C463 1331 485 1313 500 1300C515 1287 533 1275 540 1270" fill="none" stroke="#7d3fa8" stroke-width="7.5" stroke-linejoin="round"/><path d="M600 1220C608 1222 633 1227 650 1230C667 1233 683 1237 700 1240C717 1243 733 1247 750 1250C767 1253 783 1257 800 1260C817 1263 833 1267 850 1270C867 1273 892 1278 900 1280" fill="none" stroke="#7d3fa8" stroke-width="7.5" stroke-linejoin="round"/><path d="M980 1280C985 1282 998 1290 1010 1290C1022 1290 1038 1290 1050 1280C1062 1270 1072 1248 1080 1230C1088 1212 1093 1192 1100 1170C1107 1148 1113 1120 1120 1100C1127 1080 1133 1067 1140 1050C1147 1033 1153 1017 1160 1000C1167 983 1173 967 1180 950C1187 933 1197 908 1200 900" fill="none" stroke="#7d3fa8" stroke-width="7.5" stroke-linejoin="round"/><text x="75" y="110" fill="#7d3fa8" font-size="50" font-family="Liberation Sans, sans-serif" text-anchor="middle" transform="rotate(0 75 110)">370</text><text x="405" y="165" fill="#7d3fa8" font-size="50" font-family="Liberation Sans, sans-serif" text-anchor="middle" transform="rotate(60 405 165)">370</text><text x="1070" y="250" fill="#7d3fa8" font-size="50" font-family="Liberation Sans, sans-serif" text-anchor="middle" transform="rotate(-10 1070 250)">370</text><text x="850" y="105" fill="#7d3fa8" font-size="50" font-family="Liberation Sans, sans-serif" text-anchor="middle" transform="rotate(-10 850 105)">410</text><text x="360" y="795" fill="#7d3fa8" font-size="50" font-family="Liberation Sans, sans-serif" text-anchor="middle" transform="rotate(0 360 795)">330</text><text x="740" y="625" fill="#7d3fa8" font-size="50" font-family="Liberation Sans, sans-serif" text-anchor="middle" transform="rotate(-20 740 625)">330</text><text x="565" y="1265" fill="#7d3fa8" font-size="50" font-family="Liberation Sans, sans-serif" text-anchor="middle" transform="rotate(-30 565 1265)">290</text><text x="940" y="1290" fill="#7d3fa8" font-size="50" font-family="Liberation Sans, sans-serif" text-anchor="middle" transform="rotate(0 940 1290)">290</text><path d="M555 0C556 33 558 133 560 200C562 267 565 342 570 400C575 458 582 508 590 550C598 592 607 622 620 650C633 678 653 708 670 715C687 722 702 706 720 690C738 674 762 642 780 620C798 598 815 578 830 560C845 542 855 525 870 510C885 495 902 485 920 470C938 455 958 433 980 420C1002 407 1028 395 1050 390C1072 385 1092 383 1110 390C1128 397 1148 408 1160 430C1172 452 1179 488 1185 520C1191 552 1189 593 1195 620C1201 647 1209 668 1220 680C1231 692 1247 692 1260 690C1273 688 1285 677 1300 670C1315 663 1331 658 1350 650C1369 642 1403 625 1414 620" fill="none" stroke="#f01010" stroke-width="7.5" stroke-linejoin="round"/></g>
</g>
<rect x="969.3" y="468.5" width="379.3" height="379.4" fill="none" stroke="#1a1a1a" stroke-width="1.4"/>
<path d="M969.30 847.90v10.5M969.30 468.50v-10.5M1011.44 847.90v5.0M1011.44 468.50v-5.0M1053.59 847.90v5.0M1053.59 468.50v-5.0M1095.73 847.90v10.5M1095.73 468.50v-10.5M1137.88 847.90v5.0M1137.88 468.50v-5.0M1180.02 847.90v5.0M1180.02 468.50v-5.0M1222.17 847.90v10.5M1222.17 468.50v-10.5M1264.31 847.90v5.0M1264.31 468.50v-5.0M1306.46 847.90v5.0M1306.46 468.50v-5.0M1348.60 847.90v10.5M1348.60 468.50v-10.5M969.30 468.50h-10.5M969.30 535.28h-10.5M969.30 582.66h-10.5M969.30 619.41h-10.5M969.30 649.44h-10.5M969.30 696.82h-10.5M969.30 733.57h-10.5M969.30 788.99h-10.5M969.30 820.97h-10.5M969.30 847.74h-10.5M1348.60 474.70h10.4M1348.60 577.90h10.4M1348.60 678.40h10.4M1348.60 768.50h10.4" stroke="#1a1a1a" stroke-width="1.4" fill="none"/>
<text x="976.8" y="453.7" font-family="Liberation Sans, sans-serif" font-size="17" fill="#000">(f)</text>
<text x="1350.3" y="454.0" font-family="Liberation Sans, sans-serif" font-size="17.4" fill="#000" text-anchor="end">12:00 UTC 8 January 2001</text>
<text x="1370.6" y="480.70" font-family="Liberation Sans, sans-serif" font-size="16.5">16</text>
<text x="1370.6" y="583.90" font-family="Liberation Sans, sans-serif" font-size="16.5">12</text>
<text x="1370.6" y="684.40" font-family="Liberation Sans, sans-serif" font-size="16.5">8</text>
<text x="1370.6" y="774.50" font-family="Liberation Sans, sans-serif" font-size="16.5">4</text>
<g clip-path="url(#cpg)">
<rect x="110.4" y="894.0" width="379.3" height="379.4" fill="#dcf1fa"/>
<g transform="translate(110,894) scale(0.268741)"><rect x="-50" y="-50" width="1600" height="1600" fill="#fff"/><rect x="26" y="43" width="1414" height="1414" fill="#dcf1fa"/><path d="M170 0L1414 0L1414 1000L1380 980L1330 960L1280 1000L1230 1020L1180 1000L1150 900L1130 800L1100 700L1050 680L1000 690L900 690L800 690L700 690L640 690L600 680L560 700L520 720L470 710L420 700L380 700L330 700L310 600L300 400L280 250L260 170L240 170L210 120L180 60Z" fill="#a8e0f5"/><path d="M300 100L340 0L1414 0L1414 880L1380 860L1330 840L1280 870L1230 900L1190 880L1160 820L1140 720L1110 660L1050 650L1000 660L900 660L800 660L700 660L640 660L600 640L560 640L530 700L480 680L430 680L380 690L340 690L320 500L310 300Z" fill="#7cd0ec"/><path d="M370 0L1414 0L1414 800L1380 790L1330 780L1280 800L1230 830L1190 820L1165 750L1150 680L1120 620L1050 600L1000 620L900 620L800 620L700 620L640 620L600 600L560 600L520 620L480 600L440 560L410 400L390 200Z" fill="#3d9fd0"/><path d="M385 0L1414 0L1414 740L1330 730L1280 740L1230 760L1195 760L1170 700L1150 640L1120 580L1050 560L1000 580L900 590L800 590L700 590L640 580L600 560L560 560L520 560L490 520L460 420L430 250L400 100Z" fill="#079a80"/><path d="M400 0L1414 0L1414 680L1330 670L1280 680L1230 700L1200 700L1175 650L1160 600L1130 540L1060 520L1000 540L900 560L800 560L700 560L640 550L600 530L570 520L540 500L510 430L480 300L450 150L420 50Z" fill="#0aa850"/><path d="M520 0L1414 0L1414 560L1330 550L1280 540L1230 560L1200 560L1180 500L1150 420L1100 380L1050 370L1000 370L940 340L880 320L820 330L760 350L700 390L650 420L610 450L590 440L570 350L550 250L535 120Z" fill="#8cc84c"/><path d="M545 0L1414 0L1414 490L1330 470L1280 450L1230 480L1200 480L1180 420L1160 370L1100 340L1050 330L1000 330L940 300L880 280L820 290L760 310L700 350L650 380L630 390L610 300L590 200L565 100Z" fill="#f3dc56"/><path d="M575 0L1414 0L1414 420L1330 400L1280 380L1230 410L1200 400L1185 360L1160 320L1100 300L1050 290L1000 290L940 270L880 250L820 260L760 280L700 300L665 320L650 250L630 150L600 60Z" fill="#fb9234"/><path d="M600 0L1414 0L1414 330L1380 320L1350 280L1320 310L1280 300L1250 230L1220 300L1190 280L1170 250L1120 230L1080 240L1040 220L1000 230L960 220L920 210L880 200L830 210L790 220L750 240L710 260L680 260L660 220L640 120L625 50Z" fill="#f64a26"/><path d="M560 660C565 622 587 589 600 570C613 551 623 558 640 545C657 532 680 510 700 495C720 480 740 467 760 455C780 443 800 432 820 425C840 418 863 416 880 415C897 414 903 415 920 420C937 425 958 434 980 445C1002 456 1030 470 1050 485C1070 500 1087 516 1100 535C1113 554 1120 572 1128 600C1136 628 1141 667 1145 700C1149 733 1151 767 1150 800C1149 833 1148 867 1140 900C1132 933 1123 967 1100 1000C1077 1033 1050 1083 1000 1100C950 1117 858 1117 800 1100C742 1083 683 1033 650 1000C617 967 613 933 600 900C587 867 577 840 570 800C563 760 555 698 560 660Z" fill="#dcf1fa"/><path d="M150 140L180 130L220 170L215 220L160 215Z" fill="#ffffff"/><path d="M340 250L370 250L370 280L340 280Z" fill="#ffffff"/><path d="M400 375L430 375L430 410L400 410Z" fill="#ffffff"/><path d="M480 520L530 520L520 620L485 620Z" fill="#ffffff"/><path d="M1000 1020L1030 1000L1070 1150L1040 1300L1010 1280Z" fill="#ffffff"/><path d="M1100 1080L1130 1080L1125 1130L1100 1130Z" fill="#ffffff"/><path d="M1380 680L1414 680L1414 830L1385 830Z" fill="#ffffff"/><path d="M700 1414C584 1405 710 1372 720 1360C730 1348 747 1345 760 1340C773 1335 785 1333 800 1330C815 1327 833 1318 850 1320C867 1322 883 1330 900 1340C917 1350 933 1375 950 1380C967 1385 983 1375 1000 1370C1017 1365 1033 1355 1050 1350C1067 1345 1083 1343 1100 1340C1117 1337 1133 1333 1150 1330C1167 1327 1183 1320 1200 1320C1217 1320 1233 1333 1250 1330C1267 1327 1283 1300 1300 1300C1317 1300 1331 1327 1350 1330C1369 1333 1403 1306 1414 1320C1425 1334 1533 1398 1414 1414C1295 1430 816 1423 700 1414Z" fill="#a8e0f5"/><path d="M740 1414C717 1410 763 1396 780 1390C797 1384 823 1379 840 1380C857 1381 867 1389 880 1395C893 1401 943 1411 920 1414C897 1417 763 1418 740 1414Z" fill="#3d9fd0"/><path d="M820 1360C823 1352 847 1342 860 1340C873 1338 895 1343 900 1350C905 1357 900 1374 890 1380C880 1386 852 1388 840 1385C828 1382 817 1368 820 1360Z" fill="#3d9fd0"/><path d="M845 1362C847 1358 863 1350 870 1350C877 1350 887 1361 885 1365C883 1369 867 1376 860 1375C853 1374 843 1366 845 1362Z" fill="#0aa850"/><path d="M1100 1414C1053 1409 1113 1392 1130 1385C1147 1378 1175 1371 1200 1370C1225 1369 1258 1377 1280 1380C1302 1383 1310 1388 1330 1390C1350 1392 1386 1391 1400 1395C1414 1399 1464 1411 1414 1414C1364 1417 1147 1419 1100 1414Z" fill="#3d9fd0"/><path d="M1140 1414C1118 1411 1157 1399 1170 1395C1183 1391 1202 1389 1220 1390C1238 1391 1267 1396 1280 1400C1293 1404 1323 1412 1300 1414C1277 1416 1162 1417 1140 1414Z" fill="#0aa850"/><path d="M1230 1414C1226 1409 1240 1389 1245 1385C1250 1381 1258 1385 1262 1390C1266 1395 1275 1410 1270 1414C1265 1418 1234 1419 1230 1414Z" fill="#fb9234"/><path d="M580 250C598 232 663 240 700 240C737 240 767 247 800 250C833 253 867 255 900 260C933 265 975 267 1000 280C1025 293 1050 317 1050 340C1050 363 1025 403 1000 420C975 437 933 438 900 440C867 442 833 432 800 430C767 428 730 432 700 430C670 428 638 433 620 420C602 407 597 378 590 350C583 322 562 268 580 250Z" fill="#000" filter="url(#spk1)" opacity="1"/><path d="M620 600C620 580 637 557 650 540C663 523 682 512 700 500C718 488 740 480 760 470C780 460 800 447 820 440C840 433 860 432 880 430C900 428 920 427 940 430C960 433 982 443 1000 450C1018 457 1033 462 1050 470C1067 478 1083 492 1100 500C1117 508 1137 513 1150 520C1163 527 1173 527 1180 540C1187 553 1192 582 1190 600C1188 618 1185 633 1170 650C1155 667 1120 692 1100 700C1080 708 1067 703 1050 700C1033 697 1017 682 1000 680C983 678 967 687 950 690C933 693 917 702 900 700C883 698 867 687 850 680C833 673 818 662 800 660C782 658 758 668 740 670C722 672 705 672 690 670C675 668 662 672 650 660C638 648 620 620 620 600Z" fill="#f5a3a8" filter="url(#spk3)" opacity="1"/><path d="M800 500C813 463 867 477 900 480C933 483 983 492 1000 520C1017 548 1008 612 1000 650C992 688 970 732 950 750C930 768 902 768 880 760C858 752 833 743 820 700C807 657 787 537 800 500Z" fill="#000" filter="url(#spk1)" opacity="1"/><path d="M900 350C913 340 933 338 950 340C967 342 983 357 1000 360C1017 363 1033 358 1050 360C1067 362 1083 367 1100 370C1117 373 1137 372 1150 380C1163 388 1173 403 1180 420C1187 437 1192 462 1190 480C1188 498 1185 520 1170 530C1155 540 1120 540 1100 540C1080 540 1067 537 1050 530C1033 523 1017 510 1000 500C983 490 967 480 950 470C933 460 913 452 900 440C887 428 870 415 870 400C870 385 887 360 900 350Z" fill="#000" filter="url(#spk2)" opacity="1"/><path d="M1040 370C1050 357 1080 357 1100 360C1120 363 1147 375 1160 390C1173 405 1178 430 1180 450C1182 470 1180 498 1170 510C1160 522 1138 522 1120 520C1102 518 1073 513 1060 500C1047 487 1043 462 1040 440C1037 418 1030 383 1040 370Z" fill="#000" filter="url(#spk3)" opacity="1"/><path d="M640 1414C647 1395 672 1344 680 1300C688 1256 688 1208 685 1150C682 1092 668 1008 660 950C652 892 644 850 640 800C636 750 633 690 635 650C637 610 648 575 650 560" fill="none" stroke="#000" stroke-width="8.5" stroke-linejoin="round"/><path d="M830 1414C828 1403 817 1371 820 1350C823 1329 833 1307 850 1290C867 1273 898 1265 920 1250C942 1235 962 1220 980 1200C998 1180 1015 1158 1030 1130C1045 1102 1060 1068 1070 1030C1080 992 1085 947 1090 900C1095 853 1097 800 1100 750C1103 700 1107 650 1110 600C1113 550 1117 500 1120 450C1123 400 1127 350 1130 300C1133 250 1137 200 1140 150C1143 100 1148 25 1150 0" fill="none" stroke="#000" stroke-width="8.5" stroke-linejoin="round"/><path d="M680 620C682 642 685 703 690 750C695 797 702 850 710 900C718 950 727 1005 740 1050C753 1095 772 1138 790 1170C808 1202 828 1232 850 1240C872 1248 900 1233 920 1220C940 1207 955 1187 970 1160C985 1133 998 1095 1010 1060C1022 1025 1032 993 1040 950C1048 907 1055 850 1060 800C1065 750 1067 700 1070 650C1073 600 1078 550 1080 500C1082 450 1083 400 1085 350C1087 300 1088 258 1090 200C1092 142 1094 33 1095 0" fill="none" stroke="#000" stroke-width="8.5" stroke-linejoin="round"/><path d="M720 600C722 620 725 678 730 720C735 762 742 808 750 850C758 892 768 933 780 970C792 1007 805 1045 820 1070C835 1095 853 1115 870 1120C887 1125 905 1115 920 1100C935 1085 948 1058 960 1030C972 1002 982 968 990 930C998 892 1003 847 1010 800C1017 753 1025 700 1030 650C1035 600 1038 550 1040 500C1042 450 1043 400 1045 350C1047 300 1048 258 1050 200C1052 142 1054 33 1055 0" fill="none" stroke="#000" stroke-width="8.5" stroke-linejoin="round"/><path d="M760 580C762 600 765 663 770 700C775 737 782 770 790 800C798 830 808 858 820 880C832 902 847 923 860 930C873 937 887 932 900 920C913 908 929 887 940 860C951 833 958 797 965 760C972 723 975 683 980 640C985 597 992 548 995 500C998 452 998 400 1000 350C1002 300 1008 258 1010 200C1012 142 1014 33 1015 0" fill="none" stroke="#000" stroke-width="8.5" stroke-linejoin="round"/><path d="M800 560C802 575 805 623 810 650C815 677 822 700 830 720C838 740 850 763 860 770C870 777 881 772 890 760C899 748 908 723 915 700C922 677 924 653 930 620C936 587 945 545 950 500C955 455 957 400 960 350C963 300 968 258 970 200C972 142 974 33 975 0" fill="none" stroke="#000" stroke-width="8.5" stroke-linejoin="round"/><path d="M815 570C817 580 820 612 825 630C830 648 838 667 845 675C852 683 859 685 865 680C871 675 878 660 882 645C886 630 889 599 890 590" fill="none" stroke="#000" stroke-width="8.5" stroke-linejoin="round"/><path d="M640 0C641 17 643 67 645 100C647 133 648 167 650 200C652 233 653 267 655 300C657 333 658 367 660 400C662 433 668 483 670 500" fill="none" stroke="#000" stroke-width="8.5" stroke-linejoin="round"/><path d="M690 0C691 17 693 67 695 100C697 133 698 167 700 200C702 233 703 267 705 300C707 333 709 383 710 400" fill="none" stroke="#000" stroke-width="8.5" stroke-linejoin="round"/><path d="M740 0C741 17 743 67 745 100C747 133 748 167 750 200C752 233 752 270 755 300C758 330 768 367 770 380" fill="none" stroke="#000" stroke-width="8.5" stroke-linejoin="round"/><path d="M785 0C786 17 788 67 790 100C792 133 793 170 795 200C797 230 796 258 800 280C804 302 812 328 820 330C828 332 838 302 850 290C862 278 877 263 890 260C903 257 918 260 930 270C942 280 952 298 960 320C968 342 972 387 975 400" fill="none" stroke="#000" stroke-width="8.5" stroke-linejoin="round"/><path d="M830 0C831 17 833 67 835 100C837 133 838 175 840 200C842 225 844 242 845 250" fill="none" stroke="#000" stroke-width="8.5" stroke-linejoin="round"/><path d="M875 0C875 17 876 67 877 100C878 133 880 183 880 200" fill="none" stroke="#000" stroke-width="8.5" stroke-linejoin="round"/><path d="M920 0C920 17 921 67 922 100C923 133 924 183 925 200" fill="none" stroke="#000" stroke-width="8.5" stroke-linejoin="round"/><path d="M350 0C333 10 280 42 250 60C220 78 192 90 170 110C148 130 132 157 120 180C108 203 102 225 100 250C98 275 100 310 110 330C120 350 142 350 160 370C178 390 202 423 220 450C238 477 253 507 270 530C287 553 303 570 320 590C337 610 355 625 370 650C385 675 400 715 410 740C420 765 422 800 430 800C438 800 450 757 460 740C470 723 482 700 490 700C498 700 502 742 510 740C518 738 530 713 540 690C550 667 560 628 570 600C580 572 592 545 600 520C608 495 617 462 620 450" fill="none" stroke="#000" stroke-width="8.5" stroke-dasharray="16 11" stroke-linejoin="round"/><path d="M400 225C406 227 417 232 420 250C423 268 423 313 420 330C417 347 406 355 400 350C394 345 388 318 385 300C382 282 382 252 385 240C388 228 394 223 400 225Z" fill="none" stroke="#000" stroke-width="8.5" stroke-dasharray="16 11" stroke-linejoin="round"/><path d="M1290 140C1300 138 1310 143 1320 170C1330 197 1342 245 1350 300C1358 355 1365 433 1370 500C1375 567 1380 633 1380 700C1380 767 1375 842 1370 900C1365 958 1362 1017 1350 1050C1338 1083 1317 1092 1300 1100C1283 1108 1263 1092 1250 1100C1237 1108 1228 1122 1220 1150C1212 1178 1207 1248 1200 1270C1193 1292 1188 1283 1180 1280C1172 1277 1163 1263 1150 1250C1137 1237 1115 1217 1100 1200C1085 1183 1068 1175 1060 1150C1052 1125 1050 1083 1050 1050C1050 1017 1055 983 1060 950C1065 917 1073 883 1080 850C1087 817 1092 792 1100 750C1108 708 1118 650 1130 600C1142 550 1155 500 1170 450C1185 400 1205 345 1220 300C1235 255 1248 207 1260 180C1272 153 1280 142 1290 140Z" fill="none" stroke="#000" stroke-width="8.5" stroke-dasharray="16 11" stroke-linejoin="round"/><path d="M1260 500C1267 500 1290 492 1300 500C1310 508 1315 525 1320 550C1325 575 1332 608 1330 650C1328 692 1318 758 1310 800C1302 842 1295 867 1280 900C1265 933 1242 978 1220 1000C1198 1022 1168 1030 1150 1030C1132 1030 1118 1022 1110 1000C1102 978 1102 917 1100 900" fill="none" stroke="#000" stroke-width="8.5" stroke-dasharray="16 11" stroke-linejoin="round"/><path d="M0 102C9 103 41 101 55 107C69 113 76 117 85 140C94 163 112 221 110 245C108 269 87 274 75 285C63 296 49 298 40 310C31 322 25 341 20 360C15 379 13 410 10 425C7 440 2 446 0 450" fill="none" stroke="#0a3fa0" stroke-width="7.5" stroke-linejoin="round"/><path d="M0 215C2 220 15 234 15 245C15 256 2 274 0 280" fill="none" stroke="#0a3fa0" stroke-width="7.5" stroke-linejoin="round"/><path d="M270 170C272 200 278 295 280 350C282 405 283 450 285 500C287 550 288 603 290 650C292 697 295 742 300 780C305 818 312 848 320 880C328 912 340 948 350 970C360 992 368 1002 380 1010C392 1018 413 1018 420 1020" fill="none" stroke="#0a3fa0" stroke-width="7.5" stroke-linejoin="round"/><path d="M350 300C352 317 357 367 360 400C363 433 367 458 370 500C373 542 375 600 380 650C385 700 393 758 400 800C407 842 413 880 420 900C427 920 433 922 440 920C447 918 453 887 460 890C467 893 473 942 480 940C487 938 493 900 500 880C507 860 513 838 520 820C527 802 537 778 540 770" fill="none" stroke="#0a3fa0" stroke-width="7.5" stroke-linejoin="round"/><path d="M425 430C430 430 440 475 445 500C450 525 452 557 452 580C452 603 446 625 442 640C438 655 434 677 430 670C426 663 422 628 420 600C418 572 414 528 415 500C416 472 420 430 425 430Z" fill="none" stroke="#0a3fa0" stroke-width="7.5" stroke-linejoin="round"/><path d="M450 520C453 533 465 570 470 600C475 630 477 670 480 700C483 730 485 770 490 780C495 790 503 773 510 760C517 747 523 720 530 700C537 680 547 650 550 640" fill="none" stroke="#0a3fa0" stroke-width="7.5" stroke-linejoin="round"/><path d="M580 300C583 292 595 267 600 250C605 233 610 217 610 200C610 183 602 158 600 150" fill="none" stroke="#0a3fa0" stroke-width="7.5" stroke-linejoin="round"/><path d="M1160 300C1162 283 1167 233 1170 200C1173 167 1177 133 1180 100C1183 67 1188 17 1190 0" fill="none" stroke="#0a3fa0" stroke-width="7.5" stroke-linejoin="round"/><path d="M900 700C898 717 890 767 890 800C890 833 897 867 900 900C903 933 907 967 910 1000C913 1033 915 1075 920 1100C925 1125 937 1142 940 1150" fill="none" stroke="#0a3fa0" stroke-width="7.5" stroke-linejoin="round"/><path d="M1000 1150C1008 1142 1033 1118 1050 1100C1067 1082 1088 1065 1100 1040C1112 1015 1112 982 1120 950C1128 918 1145 867 1150 850" fill="none" stroke="#0a3fa0" stroke-width="7.5" stroke-linejoin="round"/><path d="M1060 550C1063 567 1073 617 1080 650C1087 683 1093 725 1100 750C1107 775 1117 792 1120 800" fill="none" stroke="#0a3fa0" stroke-width="7.5" stroke-linejoin="round"/><path d="M0 10C13 12 55 15 80 20C105 25 130 32 150 40C170 48 183 60 200 70C217 80 242 95 250 100" fill="none" stroke="#7d3fa8" stroke-width="7.5" stroke-linejoin="round"/><path d="M320 130C330 133 360 142 380 150C400 158 420 170 440 180C460 190 482 202 500 210C518 218 533 225 550 230C567 235 583 237 600 240C617 243 633 249 650 250C667 251 683 247 700 245C717 243 733 242 750 240C767 238 783 236 800 235C817 234 833 234 850 235C867 236 883 238 900 240C917 242 933 248 950 250C967 252 992 250 1000 250" fill="none" stroke="#7d3fa8" stroke-width="7.5" stroke-linejoin="round"/><path d="M1100 250C1108 248 1133 243 1150 240C1167 237 1183 233 1200 230C1217 227 1233 225 1250 220C1267 215 1283 207 1300 200C1317 193 1331 187 1350 180C1369 173 1403 163 1414 160" fill="none" stroke="#7d3fa8" stroke-width="7.5" stroke-linejoin="round"/><path d="M0 310C8 308 33 305 50 300C67 295 83 287 100 280C117 273 133 265 150 260C167 255 183 250 200 250C217 250 233 255 250 260C267 265 283 273 300 280C317 287 333 293 350 300C367 307 383 313 400 320C417 327 433 333 450 340C467 347 483 353 500 360C517 367 533 373 550 380C567 387 583 398 600 400C617 402 633 395 650 390C667 385 683 377 700 370C717 363 733 357 750 350C767 343 783 335 800 330C817 325 833 323 850 320C867 317 883 310 900 310C917 310 933 317 950 320C967 323 983 327 1000 330C1017 333 1033 335 1050 340C1067 345 1083 353 1100 360C1117 367 1133 377 1150 380C1167 383 1183 383 1200 380C1217 377 1233 367 1250 360C1267 353 1283 347 1300 340C1317 333 1331 327 1350 320C1369 313 1403 303 1414 300" fill="none" stroke="#7d3fa8" stroke-width="7.5" stroke-linejoin="round"/><path d="M560 0C567 3 585 15 600 20C615 25 633 27 650 30C667 33 683 38 700 40C717 42 737 45 750 45C763 45 775 41 780 40" fill="none" stroke="#7d3fa8" stroke-width="7.5" stroke-linejoin="round"/><path d="M860 30C875 28 927 20 950 20C973 20 983 27 1000 30C1017 33 1033 40 1050 40C1067 40 1083 33 1100 30C1117 27 1133 23 1150 20C1167 17 1183 13 1200 10C1217 7 1242 2 1250 0" fill="none" stroke="#7d3fa8" stroke-width="7.5" stroke-linejoin="round"/><path d="M640 100C650 103 682 115 700 120C718 125 733 125 750 130C767 135 783 145 800 150C817 155 833 160 850 160C867 160 883 153 900 150C917 147 933 142 950 140C967 138 983 142 1000 140C1017 138 1033 133 1050 130C1067 127 1083 125 1100 120C1117 115 1133 105 1150 100C1167 95 1183 95 1200 90C1217 85 1233 77 1250 70C1267 63 1283 57 1300 50C1317 43 1331 37 1350 30C1369 23 1403 13 1414 10" fill="none" stroke="#7d3fa8" stroke-width="7.5" stroke-linejoin="round"/><path d="M80 910C87 907 105 897 120 890C135 883 153 875 170 870C187 865 203 863 220 860C237 857 253 857 270 850C287 843 305 832 320 820C335 808 353 787 360 780" fill="none" stroke="#7d3fa8" stroke-width="7.5" stroke-linejoin="round"/><path d="M430 690C435 682 450 658 460 640C470 622 480 598 490 580C500 562 508 540 520 530C532 520 547 523 560 520C573 517 585 515 600 510C615 505 633 497 650 490C667 483 683 477 700 470C717 463 733 457 750 450C767 443 783 437 800 430C817 423 833 415 850 410C867 405 883 400 900 400C917 400 933 407 950 410C967 413 983 415 1000 420C1017 425 1033 432 1050 440C1067 448 1083 460 1100 470C1117 480 1133 495 1150 500C1167 505 1183 503 1200 500C1217 497 1233 487 1250 480C1267 473 1283 467 1300 460C1317 453 1331 447 1350 440C1369 433 1403 423 1414 420" fill="none" stroke="#7d3fa8" stroke-width="7.5" stroke-linejoin="round"/><path d="M1180 600C1192 597 1230 587 1250 580C1270 573 1283 567 1300 560C1317 553 1331 547 1350 540C1369 533 1403 523 1414 520" fill="none" stroke="#7d3fa8" stroke-width="7.5" stroke-linejoin="round"/><path d="M380 1000C392 997 430 990 450 980C470 970 483 953 500 940C517 927 533 912 550 900C567 888 583 877 600 870C617 863 633 858 650 860C667 862 683 870 700 880C717 890 733 910 750 920C767 930 783 935 800 940C817 945 833 950 850 950C867 950 883 943 900 940C917 937 933 933 950 930C967 927 983 923 1000 920C1017 917 1033 920 1050 910C1067 900 1087 878 1100 860C1113 842 1122 817 1130 800C1138 783 1138 767 1150 760C1162 753 1183 760 1200 760C1217 760 1233 760 1250 760C1267 760 1283 757 1300 760C1317 763 1331 773 1350 780C1369 787 1403 797 1414 800" fill="none" stroke="#7d3fa8" stroke-width="7.5" stroke-linejoin="round"/><path d="M0 1220C8 1220 33 1220 50 1220C67 1220 83 1219 100 1220C117 1221 133 1224 150 1225C167 1226 183 1226 200 1225C217 1224 233 1228 250 1220C267 1212 283 1195 300 1180C317 1165 333 1147 350 1130C367 1113 383 1095 400 1080C417 1065 433 1053 450 1040C467 1027 485 1013 500 1000C515 987 528 977 540 960C552 943 562 917 570 900C578 883 583 868 590 860C597 852 607 852 610 850" fill="none" stroke="#7d3fa8" stroke-width="7.5" stroke-linejoin="round"/><path d="M380 1414C380 1403 377 1364 380 1350C383 1336 388 1335 400 1330C412 1325 442 1322 450 1320" fill="none" stroke="#7d3fa8" stroke-width="7.5" stroke-linejoin="round"/><path d="M540 1260C550 1253 582 1230 600 1220C618 1210 633 1200 650 1200C667 1200 683 1212 700 1220C717 1228 733 1240 750 1250C767 1260 792 1275 800 1280" fill="none" stroke="#7d3fa8" stroke-width="7.5" stroke-linejoin="round"/><path d="M930 1250C938 1242 965 1217 980 1200C995 1183 1007 1170 1020 1150C1033 1130 1047 1105 1060 1080C1073 1055 1088 1022 1100 1000C1112 978 1125 958 1130 950" fill="none" stroke="#7d3fa8" stroke-width="7.5" stroke-linejoin="round"/><text x="275" y="145" fill="#7d3fa8" font-size="50" font-family="Liberation Sans, sans-serif" text-anchor="middle" transform="rotate(-20 275 145)">370</text><text x="1050" y="270" fill="#7d3fa8" font-size="50" font-family="Liberation Sans, sans-serif" text-anchor="middle" transform="rotate(10 1050 270)">370</text><text x="820" y="50" fill="#7d3fa8" font-size="50" font-family="Liberation Sans, sans-serif" text-anchor="middle" transform="rotate(-10 820 50)">410</text><text x="40" y="945" fill="#7d3fa8" font-size="50" font-family="Liberation Sans, sans-serif" text-anchor="middle" transform="rotate(0 40 945)">330</text><text x="400" y="735" fill="#7d3fa8" font-size="50" font-family="Liberation Sans, sans-serif" text-anchor="middle" transform="rotate(-40 400 735)">330</text><text x="500" y="1295" fill="#7d3fa8" font-size="50" font-family="Liberation Sans, sans-serif" text-anchor="middle" transform="rotate(-20 500 1295)">290</text><text x="880" y="1285" fill="#7d3fa8" font-size="50" font-family="Liberation Sans, sans-serif" text-anchor="middle" transform="rotate(-20 880 1285)">290</text><path d="M420 0C423 25 432 100 440 150C448 200 458 253 470 300C482 347 497 390 510 430C523 470 537 518 550 540C563 562 575 560 590 560C605 560 622 552 640 540C658 528 680 505 700 490C720 475 740 462 760 450C780 438 800 427 820 420C840 413 863 411 880 410C897 409 903 410 920 415C937 420 958 429 980 440C1002 451 1030 465 1050 480C1070 495 1087 510 1100 530C1113 550 1122 572 1130 600C1138 628 1143 662 1150 700C1157 738 1162 807 1170 830C1178 853 1187 845 1200 840C1213 835 1233 820 1250 800C1267 780 1283 743 1300 720C1317 697 1331 677 1350 660C1369 643 1403 627 1414 620" fill="none" stroke="#f01010" stroke-width="7.5" stroke-linejoin="round"/><path d="M200 0C206 28 220 170 235 170C250 170 281 28 290 0" fill="none" stroke="#f01010" stroke-width="7.5" stroke-linejoin="round"/></g>
</g>
<rect x="117.2" y="1273.2" width="379.5" height="11.3" fill="#dcf1fa"/>
<rect x="489.7" y="1088.5" width="7" height="185" fill="#dcf1fa"/>
<rect x="110.4" y="894.0" width="379.3" height="379.4" fill="none" stroke="#1a1a1a" stroke-width="1.4"/>
<path d="M110.40 1273.40v10.5M110.40 894.00v-10.5M152.54 1273.40v5.0M152.54 894.00v-5.0M194.69 1273.40v5.0M194.69 894.00v-5.0M236.83 1273.40v10.5M236.83 894.00v-10.5M278.98 1273.40v5.0M278.98 894.00v-5.0M321.12 1273.40v5.0M321.12 894.00v-5.0M363.27 1273.40v10.5M363.27 894.00v-10.5M405.41 1273.40v5.0M405.41 894.00v-5.0M447.56 1273.40v5.0M447.56 894.00v-5.0M489.70 1273.40v10.5M489.70 894.00v-10.5M110.40 894.00h-10.5M110.40 960.78h-10.5M110.40 1008.16h-10.5M110.40 1044.91h-10.5M110.40 1074.94h-10.5M110.40 1122.32h-10.5M110.40 1159.07h-10.5M110.40 1214.49h-10.5M110.40 1246.47h-10.5M110.40 1273.24h-10.5M489.70 900.20h10.4M489.70 1003.40h10.4M489.70 1103.90h10.4M489.70 1194.00h10.4" stroke="#1a1a1a" stroke-width="1.4" fill="none"/>
<text x="117.9" y="881.0" font-family="Liberation Sans, sans-serif" font-size="17" fill="#000">(g)</text>
<text x="491.40000000000003" y="881.3" font-family="Liberation Sans, sans-serif" font-size="17.4" fill="#000" text-anchor="end">00:00 UTC 9 January 2001</text>
<text x="87.9" y="900.00" font-family="Liberation Sans, sans-serif" font-size="16.5" text-anchor="end">100</text>
<text x="87.9" y="966.78" font-family="Liberation Sans, sans-serif" font-size="16.5" text-anchor="end">150</text>
<text x="87.9" y="1014.16" font-family="Liberation Sans, sans-serif" font-size="16.5" text-anchor="end">200</text>
<text x="87.9" y="1050.91" font-family="Liberation Sans, sans-serif" font-size="16.5" text-anchor="end">250</text>
<text x="87.9" y="1080.94" font-family="Liberation Sans, sans-serif" font-size="16.5" text-anchor="end">300</text>
<text x="87.9" y="1128.32" font-family="Liberation Sans, sans-serif" font-size="16.5" text-anchor="end">400</text>
<text x="87.9" y="1165.07" font-family="Liberation Sans, sans-serif" font-size="16.5" text-anchor="end">500</text>
<text x="87.9" y="1220.49" font-family="Liberation Sans, sans-serif" font-size="16.5" text-anchor="end">700</text>
<text x="87.9" y="1252.47" font-family="Liberation Sans, sans-serif" font-size="16.5" text-anchor="end">850</text>
<text x="87.9" y="1279.24" font-family="Liberation Sans, sans-serif" font-size="16.5" text-anchor="end">1000</text>
<text x="110.40" y="1308.90" font-family="Liberation Sans, sans-serif" font-size="17" text-anchor="middle">0</text>
<text x="236.83" y="1308.90" font-family="Liberation Sans, sans-serif" font-size="17" text-anchor="middle">30N</text>
<text x="363.27" y="1308.90" font-family="Liberation Sans, sans-serif" font-size="17" text-anchor="middle">60N</text>
<text x="489.70" y="1308.90" font-family="Liberation Sans, sans-serif" font-size="17" text-anchor="middle">90N</text>
<g clip-path="url(#cph)">
<rect x="540.4" y="893.5" width="379.3" height="379.4" fill="#dcf1fa"/>
<g transform="translate(540,893) scale(0.268741)"><path d="M180 0L340 0L340 300L320 280L300 200L270 120L240 80L210 40Z" fill="#a8e0f5"/><path d="M240 0L300 0L290 60L270 110L255 60Z" fill="#7cd0ec"/><path d="M340 0L1414 0L1414 820L1380 820L1330 800L1280 810L1250 840L1220 860L1200 800L1180 720L1150 660L1100 620L1050 600L1000 620L900 620L800 600L700 560L620 540L560 540L520 530L490 500L470 400L430 300L380 300L350 200Z" fill="#a8e0f5"/><path d="M350 0L1414 0L1414 760L1380 760L1330 750L1280 760L1250 790L1225 810L1205 760L1185 700L1155 640L1100 590L1050 570L1000 580L900 590L800 570L700 530L620 520L570 510L540 500L510 470L490 380L460 300L420 260L380 240L360 150Z" fill="#7cd0ec"/><path d="M390 0L1414 0L1414 700L1380 690L1330 690L1280 700L1250 720L1230 760L1210 720L1190 660L1160 610L1100 560L1050 540L1000 550L900 560L800 540L700 500L620 490L580 480L555 470L530 440L515 360L500 280L480 200L450 120L420 60Z" fill="#3d9fd0"/><path d="M450 0L1414 0L1414 650L1380 640L1330 640L1280 650L1250 660L1230 690L1215 670L1195 620L1165 580L1100 530L1050 510L1000 520L900 530L800 510L700 470L620 470L585 460L560 440L540 380L525 300L510 200L490 120L470 60Z" fill="#079a80"/><path d="M495 0L1414 0L1414 610L1380 600L1330 600L1280 610L1250 620L1230 640L1215 620L1200 580L1170 550L1100 500L1050 480L1000 490L900 500L800 480L700 450L620 450L590 440L570 420L555 360L540 280L525 180L510 100L500 30Z" fill="#0aa850"/><path d="M585 0L1414 0L1414 530L1330 520L1280 520L1250 530L1220 540L1200 510L1180 470L1100 400L1050 390L1000 380L960 380L930 330L900 280L870 250L830 260L790 300L750 340L700 370L650 380L620 370L605 300L595 200L590 100L587 30Z" fill="#8cc84c"/><path d="M595 0L1414 0L1414 480L1330 470L1280 460L1250 470L1220 480L1200 450L1180 420L1100 360L1050 350L1000 340L960 330L930 300L900 260L870 240L830 245L790 270L750 310L700 340L650 350L620 330L610 250L603 150L598 60Z" fill="#f3dc56"/><path d="M612 0L1414 0L1414 430L1330 420L1280 410L1250 420L1220 420L1200 400L1180 370L1100 320L1050 310L1000 290L960 280L930 260L900 230L870 220L830 225L790 245L750 280L700 300L650 300L630 250L620 150L615 50Z" fill="#fb9234"/><path d="M625 0L1414 0L1414 360L1380 350L1340 320L1300 350L1260 330L1220 350L1200 340L1180 300L1150 280L1100 260L1050 250L1000 230L960 220L930 200L900 180L870 170L830 180L790 200L750 230L700 250L660 260L645 200L635 100L628 30Z" fill="#f64a26"/><path d="M340 0C347 -10 378 -10 385 0C392 10 382 39 380 60C378 81 375 117 370 125C365 133 355 121 350 110C345 99 344 78 342 60C340 42 333 10 340 0Z" fill="#0aa850"/><path d="M540 540C542 487 550 492 560 480C570 468 577 473 600 470C623 467 667 463 700 460C733 457 767 452 800 450C833 448 867 448 900 450C933 452 973 452 1000 460C1027 468 1043 481 1060 495C1077 509 1087 528 1100 545C1113 562 1129 581 1140 600C1151 619 1158 640 1165 660C1172 680 1176 697 1180 720C1184 743 1190 770 1190 800C1190 830 1187 867 1180 900C1173 933 1163 967 1150 1000C1137 1033 1125 1067 1100 1100C1075 1133 1033 1175 1000 1200C967 1225 933 1242 900 1250C867 1258 833 1258 800 1250C767 1242 733 1225 700 1200C667 1175 623 1133 600 1100C577 1067 569 1050 560 1000C551 950 548 877 545 800C542 723 538 593 540 540Z" fill="#dcf1fa"/><path d="M780 480C793 463 827 460 850 460C873 460 903 465 920 480C937 495 948 522 950 550C952 578 942 625 930 650C918 675 898 692 880 700C862 708 837 710 820 700C803 690 788 663 780 640C772 617 770 587 770 560C770 533 767 497 780 480Z" fill="#a8e0f5"/><path d="M480 1414C328 1408 487 1387 500 1380C513 1373 540 1369 560 1370C580 1371 600 1385 620 1385C640 1385 663 1378 680 1370C697 1362 703 1347 720 1340C737 1333 760 1333 780 1330C800 1327 820 1325 840 1320C860 1315 882 1298 900 1300C918 1302 933 1320 950 1330C967 1340 983 1353 1000 1360C1017 1367 1033 1370 1050 1370C1067 1370 1083 1363 1100 1360C1117 1357 1133 1353 1150 1350C1167 1347 1175 1340 1200 1340C1225 1340 1264 1350 1300 1350C1336 1350 1395 1329 1414 1340C1433 1351 1570 1402 1414 1414C1258 1426 632 1420 480 1414Z" fill="#a8e0f5"/><path d="M500 1414C358 1411 535 1398 560 1395C585 1392 627 1398 650 1395C673 1392 682 1384 700 1380C718 1376 740 1373 760 1370C780 1367 800 1363 820 1360C840 1357 862 1348 880 1350C898 1352 913 1363 930 1370C947 1377 960 1386 980 1390C1000 1394 1030 1396 1050 1395C1070 1394 1078 1388 1100 1385C1122 1382 1155 1380 1180 1380C1205 1380 1222 1386 1250 1385C1278 1384 1323 1376 1350 1375C1377 1374 1403 1374 1414 1380C1425 1386 1566 1408 1414 1414C1262 1420 642 1417 500 1414Z" fill="#3d9fd0"/><path d="M780 1414C772 1408 782 1382 790 1375C798 1368 822 1368 830 1375C838 1382 843 1408 835 1414C827 1420 788 1420 780 1414Z" fill="#0aa850"/><path d="M870 1414C866 1409 875 1390 880 1385C885 1380 896 1380 900 1385C904 1390 910 1409 905 1414C900 1419 874 1419 870 1414Z" fill="#0aa850"/><path d="M808 1414L810 1385L822 1385L823 1414Z" fill="#f64a26"/><path d="M315 1270 L318 1414" fill="none" stroke="#0a8a90" stroke-width="7" stroke-linejoin="round"/><path d="M490 340C500 323 533 327 560 320C587 313 618 303 650 300C682 297 717 297 750 300C783 303 817 315 850 320C883 325 925 325 950 330C975 335 992 330 1000 350C1008 370 1003 417 1000 450C997 483 988 517 980 550C972 583 963 625 950 650C937 675 917 688 900 700C883 712 867 720 850 720C833 720 825 712 800 700C775 688 733 667 700 650C667 633 627 625 600 600C573 575 557 530 540 500C523 470 508 447 500 420C492 393 480 357 490 340Z" fill="#000" filter="url(#spk1)" opacity="1"/><path d="M500 700C503 672 510 643 520 620C530 597 547 580 560 560C573 540 585 517 600 500C615 483 633 470 650 460C667 450 682 443 700 440C718 437 740 442 760 440C780 438 800 430 820 430C840 430 862 435 880 440C898 445 917 447 930 460C943 473 957 497 960 520C963 543 955 578 950 600C945 622 938 635 930 650C922 665 912 680 900 690C888 700 873 705 860 710C847 715 833 722 820 720C807 718 793 707 780 700C767 693 753 685 740 680C727 675 715 670 700 670C685 670 667 672 650 680C633 688 615 707 600 720C585 733 573 747 560 760C547 773 530 795 520 800C510 805 503 807 500 790C497 773 497 728 500 700Z" fill="#f5a3a8" filter="url(#spk2)" opacity="1"/><path d="M520 700C523 673 543 630 560 600C577 570 597 540 620 520C643 500 677 488 700 480C723 472 753 457 760 470C767 483 753 535 740 560C727 585 703 600 680 620C657 640 623 657 600 680C577 703 553 757 540 760C527 763 517 727 520 700Z" fill="#f5a3a8" filter="url(#spk3)" opacity="1"/><path d="M965 355C971 347 988 336 1000 335C1012 334 1027 349 1040 348C1053 347 1067 329 1080 328C1093 327 1107 338 1120 342C1133 346 1149 343 1160 350C1171 357 1179 372 1185 385C1191 398 1196 414 1197 430C1198 446 1192 466 1190 480C1188 494 1189 510 1182 515C1175 520 1160 515 1150 512C1140 509 1132 499 1120 498C1108 497 1093 510 1080 508C1067 506 1053 492 1040 488C1027 484 1011 486 1000 482C989 478 982 472 975 462C968 452 960 433 958 420C956 407 961 396 962 385C963 374 959 363 965 355Z" fill="#000" filter="url(#spk3)" opacity="1"/><path d="M940 330C950 303 973 312 1000 310C1027 308 1068 315 1100 320C1132 325 1173 323 1190 340C1207 357 1199 387 1200 420C1201 453 1212 520 1195 540C1178 560 1132 545 1100 540C1068 535 1027 522 1000 510C973 498 950 500 940 470C930 440 930 357 940 330Z" fill="#000" filter="url(#spk1)" opacity="1"/><path d="M510 0C512 17 517 67 520 100C523 133 528 167 530 200C532 233 533 267 535 300C537 333 539 367 540 400C541 433 541 467 540 500C539 533 537 567 535 600C533 633 532 667 530 700C528 733 527 767 525 800C523 833 522 867 520 900C518 933 515 967 515 1000C515 1033 518 1067 520 1100C522 1133 530 1167 530 1200C530 1233 522 1264 520 1300C518 1336 520 1395 520 1414" fill="none" stroke="#000" stroke-width="8.5" stroke-linejoin="round"/><path d="M590 700C591 725 592 800 595 850C598 900 601 958 610 1000C619 1042 633 1067 650 1100C667 1133 688 1172 710 1200C732 1228 760 1253 780 1270C800 1287 813 1298 830 1300C847 1302 863 1294 880 1285C897 1276 913 1261 930 1245C947 1229 963 1212 980 1190C997 1168 1015 1140 1030 1110C1045 1080 1058 1045 1070 1010C1082 975 1092 942 1100 900C1108 858 1113 810 1120 760C1127 710 1133 652 1140 600C1147 548 1153 500 1160 450C1167 400 1173 350 1180 300C1187 250 1193 200 1200 150C1207 100 1217 25 1220 0" fill="none" stroke="#000" stroke-width="8.5" stroke-linejoin="round"/><path d="M620 690C621 712 622 777 625 820C628 863 631 910 640 950C649 990 663 1025 680 1060C697 1095 720 1133 740 1160C760 1187 782 1208 800 1220C818 1232 833 1233 850 1230C867 1227 883 1213 900 1200C917 1187 933 1170 950 1150C967 1130 985 1107 1000 1080C1015 1053 1028 1023 1040 990C1052 957 1062 920 1070 880C1078 840 1083 797 1090 750C1097 703 1103 650 1110 600C1117 550 1123 500 1130 450C1137 400 1143 350 1150 300C1157 250 1164 200 1170 150C1176 100 1182 25 1185 0" fill="none" stroke="#000" stroke-width="8.5" stroke-linejoin="round"/><path d="M660 680C661 700 662 763 665 800C668 837 671 867 680 900C689 933 703 970 720 1000C737 1030 760 1060 780 1080C800 1100 822 1115 840 1120C858 1125 873 1118 890 1110C907 1102 924 1088 940 1070C956 1052 972 1027 985 1000C998 973 1010 943 1020 910C1030 877 1038 840 1045 800C1052 760 1059 715 1065 670C1071 625 1074 578 1080 530C1086 482 1093 430 1100 380C1107 330 1113 280 1120 230C1127 180 1135 118 1140 80C1145 42 1148 13 1150 0" fill="none" stroke="#000" stroke-width="8.5" stroke-linejoin="round"/><path d="M700 680C701 697 701 748 705 780C709 812 715 842 725 870C735 898 749 928 765 950C781 972 802 990 820 1000C838 1010 853 1013 870 1010C887 1007 905 995 920 980C935 965 948 943 960 920C972 897 982 872 990 840C998 808 1003 770 1010 730C1017 690 1024 643 1030 600C1036 557 1040 515 1045 470C1050 425 1054 378 1060 330C1066 282 1073 235 1080 180C1087 125 1097 30 1100 0" fill="none" stroke="#000" stroke-width="8.5" stroke-linejoin="round"/><path d="M720 690C722 703 727 747 735 770C743 793 756 815 770 830C784 845 803 856 820 860C837 864 855 862 870 855C885 848 898 836 910 820C922 804 932 783 940 760C948 737 954 710 960 680C966 650 970 618 975 580C980 542 986 492 990 450C994 408 997 372 1000 330C1003 288 1007 242 1010 200C1013 158 1017 113 1020 80C1023 47 1028 13 1030 0" fill="none" stroke="#000" stroke-width="8.5" stroke-linejoin="round"/><path d="M770 520C775 495 787 483 800 470C813 457 835 442 850 440C865 438 880 447 890 460C900 473 908 497 910 520C912 543 910 575 905 600C900 625 892 653 880 670C868 687 845 697 830 700C815 703 800 703 790 690C780 677 773 648 770 620C767 592 765 545 770 520Z" fill="none" stroke="#000" stroke-width="8.5" stroke-linejoin="round"/><path d="M570 1414C568 1400 560 1357 560 1330C560 1303 565 1280 570 1250C575 1220 585 1183 590 1150C595 1117 598 1067 600 1050" fill="none" stroke="#000" stroke-width="8.5" stroke-linejoin="round"/><path d="M760 1414C762 1405 763 1374 770 1360C777 1346 795 1335 800 1330" fill="none" stroke="#000" stroke-width="8.5" stroke-linejoin="round"/><path d="M560 0C561 17 563 67 565 100C567 133 568 167 570 200C572 233 574 283 575 300" fill="none" stroke="#000" stroke-width="8.5" stroke-linejoin="round"/><path d="M600 0C600 17 600 67 600 100C600 133 599 167 598 200C597 233 596 283 595 300" fill="none" stroke="#000" stroke-width="8.5" stroke-linejoin="round"/><path d="M650 0C650 17 651 67 650 100C649 133 647 167 645 200C643 233 641 283 640 300" fill="none" stroke="#000" stroke-width="8.5" stroke-linejoin="round"/><path d="M700 0C699 17 697 67 695 100C693 133 692 167 690 200C688 233 682 283 680 300" fill="none" stroke="#000" stroke-width="8.5" stroke-linejoin="round"/><path d="M750 0C749 17 747 67 745 100C743 133 742 170 740 200C738 230 732 267 730 280" fill="none" stroke="#000" stroke-width="8.5" stroke-linejoin="round"/><path d="M800 0C798 17 793 67 790 100C787 133 782 183 780 200" fill="none" stroke="#000" stroke-width="8.5" stroke-linejoin="round"/><path d="M790 330C795 323 808 304 820 290C832 276 848 254 860 245C872 236 880 232 890 235C900 238 910 246 920 260C930 274 942 297 950 320C958 343 965 370 970 400C975 430 978 483 980 500" fill="none" stroke="#000" stroke-width="8.5" stroke-linejoin="round"/><path d="M850 0C849 17 847 73 845 100C843 127 841 150 840 160" fill="none" stroke="#000" stroke-width="8.5" stroke-linejoin="round"/><path d="M900 0C900 17 899 73 900 100C901 127 904 150 905 160" fill="none" stroke="#000" stroke-width="8.5" stroke-linejoin="round"/><path d="M240 0C230 10 203 38 180 60C157 82 118 98 100 130C82 162 73 208 70 250C67 292 68 342 80 380C92 418 120 453 140 480C160 507 182 518 200 540C218 562 235 587 250 610C265 633 277 657 290 680C303 703 318 736 330 750C342 764 352 770 360 765C368 760 373 739 380 720C387 701 393 677 400 650C407 623 413 593 420 560C427 527 437 485 440 450C443 415 443 383 440 350C437 317 430 288 420 250C410 212 393 155 380 120C367 85 353 60 340 40C327 20 307 7 300 0" fill="none" stroke="#000" stroke-width="8.5" stroke-dasharray="16 11" stroke-linejoin="round"/><path d="M315 230C321 230 332 237 335 250C338 263 338 298 335 310C332 322 326 327 320 325C314 323 304 312 300 300C296 288 296 262 298 250C300 238 309 230 315 230Z" fill="none" stroke="#000" stroke-width="8.5" stroke-dasharray="16 11" stroke-linejoin="round"/><path d="M1270 320C1283 308 1298 317 1310 330C1322 343 1333 363 1340 400C1347 437 1348 500 1350 550C1352 600 1353 650 1350 700C1347 750 1338 808 1330 850C1322 892 1313 917 1300 950C1287 983 1267 1017 1250 1050C1233 1083 1220 1122 1200 1150C1180 1178 1155 1195 1130 1220C1105 1245 1072 1273 1050 1300C1028 1327 1013 1365 1000 1380C987 1395 980 1392 970 1390C960 1388 948 1380 940 1370C932 1360 920 1342 920 1330C920 1318 930 1313 940 1300C950 1287 965 1270 980 1250C995 1230 1013 1205 1030 1180C1047 1155 1063 1130 1080 1100C1097 1070 1117 1033 1130 1000C1143 967 1153 933 1160 900C1167 867 1167 833 1170 800C1173 767 1175 742 1180 700C1185 658 1192 600 1200 550C1208 500 1218 438 1230 400C1242 362 1257 332 1270 320Z" fill="none" stroke="#000" stroke-width="8.5" stroke-dasharray="16 11" stroke-linejoin="round"/><path d="M0 95C8 95 35 89 50 95C65 101 82 112 90 130C98 148 103 173 100 200C97 227 79 263 70 290C61 317 50 330 45 360C40 390 42 443 40 470C38 497 37 508 30 520C23 532 5 541 0 545" fill="none" stroke="#0a3fa0" stroke-width="7.5" stroke-linejoin="round"/><path d="M300 130C298 150 292 205 290 250C288 295 285 350 285 400C285 450 288 500 290 550C292 600 295 658 300 700C305 742 312 773 320 800C328 827 340 847 350 860C360 873 370 873 380 880C390 887 405 880 410 900C415 920 410 983 410 1000" fill="none" stroke="#0a3fa0" stroke-width="7.5" stroke-linejoin="round"/><path d="M360 400C367 398 388 387 400 390C412 393 422 402 430 420C438 438 445 470 450 500C455 530 457 567 460 600C463 633 465 678 470 700C475 722 483 730 490 730C497 730 507 705 510 700" fill="none" stroke="#0a3fa0" stroke-width="7.5" stroke-linejoin="round"/><path d="M360 400C361 417 362 467 365 500C368 533 374 570 380 600C386 630 393 653 400 680C407 707 412 742 420 760C428 778 445 785 450 790" fill="none" stroke="#0a3fa0" stroke-width="7.5" stroke-linejoin="round"/><path d="M790 730C791 742 795 772 795 800C795 828 792 867 790 900C788 933 786 983 785 1000" fill="none" stroke="#0a3fa0" stroke-width="7.5" stroke-linejoin="round"/><path d="M960 600C961 617 963 667 965 700C967 733 968 767 970 800C972 833 972 872 975 900C978 928 984 953 990 970C996 987 1007 995 1010 1000" fill="none" stroke="#0a3fa0" stroke-width="7.5" stroke-linejoin="round"/><path d="M1000 1150C1002 1142 1003 1117 1010 1100C1017 1083 1028 1067 1040 1050C1052 1033 1070 1017 1080 1000C1090 983 1093 967 1100 950C1107 933 1113 917 1120 900C1127 883 1133 870 1140 850C1147 830 1157 792 1160 780" fill="none" stroke="#0a3fa0" stroke-width="7.5" stroke-linejoin="round"/><path d="M1160 700C1162 717 1167 772 1170 800C1173 828 1178 858 1180 870" fill="none" stroke="#0a3fa0" stroke-width="7.5" stroke-linejoin="round"/><path d="M985 0C986 13 988 55 990 80C992 105 994 138 995 150" fill="none" stroke="#0a3fa0" stroke-width="7.5" stroke-linejoin="round"/><path d="M1240 0C1238 17 1233 67 1230 100C1227 133 1225 167 1220 200C1215 233 1204 270 1200 300C1196 330 1196 367 1195 380" fill="none" stroke="#0a3fa0" stroke-width="7.5" stroke-linejoin="round"/><path d="M500 640C502 650 508 685 510 700C512 715 514 725 515 730" fill="none" stroke="#0a3fa0" stroke-width="7.5" stroke-linejoin="round"/><path d="M0 35C8 34 33 29 50 30C67 31 83 33 100 40C117 47 133 60 150 70C167 80 192 95 200 100" fill="none" stroke="#7d3fa8" stroke-width="7.5" stroke-linejoin="round"/><path d="M290 150C298 153 322 162 340 170C358 178 382 190 400 200C418 210 433 223 450 230C467 237 483 238 500 240C517 242 533 239 550 240C567 241 592 244 600 245" fill="none" stroke="#7d3fa8" stroke-width="7.5" stroke-linejoin="round"/><path d="M700 240C708 240 733 240 750 240C767 240 783 239 800 240C817 241 833 243 850 245C867 247 883 248 900 250C917 252 933 258 950 260C967 262 992 264 1000 265" fill="none" stroke="#7d3fa8" stroke-width="7.5" stroke-linejoin="round"/><path d="M1100 270C1108 268 1133 265 1150 260C1167 255 1183 247 1200 240C1217 233 1233 227 1250 220C1267 213 1283 207 1300 200C1317 193 1331 187 1350 180C1369 173 1403 163 1414 160" fill="none" stroke="#7d3fa8" stroke-width="7.5" stroke-linejoin="round"/><path d="M0 300C8 298 33 293 50 290C67 287 83 283 100 280C117 277 133 273 150 270C167 267 185 263 200 260C215 257 227 248 240 250C253 252 267 262 280 270C293 278 307 288 320 300C333 312 347 328 360 340C373 352 385 363 400 370C415 377 433 378 450 380C467 382 483 382 500 380C517 378 533 373 550 370C567 367 583 363 600 360C617 357 633 353 650 350C667 347 683 343 700 340C717 337 733 333 750 330C767 327 783 322 800 320C817 318 833 318 850 320C867 322 883 325 900 330C917 335 933 343 950 350C967 357 983 363 1000 370C1017 377 1033 385 1050 390C1067 395 1083 397 1100 400C1117 403 1133 410 1150 410C1167 410 1183 405 1200 400C1217 395 1233 387 1250 380C1267 373 1283 367 1300 360C1317 353 1331 347 1350 340C1369 333 1403 323 1414 320" fill="none" stroke="#7d3fa8" stroke-width="7.5" stroke-linejoin="round"/><path d="M400 0C408 3 433 15 450 20C467 25 483 28 500 30C517 32 533 31 550 30C567 29 583 26 600 25C617 24 633 24 650 25C667 26 683 28 700 30C717 32 733 33 750 35C767 37 792 39 800 40" fill="none" stroke="#7d3fa8" stroke-width="7.5" stroke-linejoin="round"/><path d="M900 40C908 38 933 33 950 30C967 27 983 23 1000 20C1017 17 1033 13 1050 10C1067 7 1092 2 1100 0" fill="none" stroke="#7d3fa8" stroke-width="7.5" stroke-linejoin="round"/><path d="M600 130C608 132 633 137 650 140C667 143 683 147 700 150C717 153 733 158 750 160C767 162 783 162 800 160C817 158 833 153 850 150C867 147 883 142 900 140C917 138 933 138 950 140C967 142 983 148 1000 150C1017 152 1033 152 1050 150C1067 148 1083 143 1100 140C1117 137 1133 135 1150 130C1167 125 1183 117 1200 110C1217 103 1233 97 1250 90C1267 83 1273 78 1300 70C1327 62 1395 45 1414 40" fill="none" stroke="#7d3fa8" stroke-width="7.5" stroke-linejoin="round"/><path d="M420 690C425 682 440 655 450 640C460 625 468 613 480 600C492 587 507 572 520 560C533 548 547 538 560 530C573 522 585 515 600 510C615 505 633 503 650 500C667 497 683 493 700 490C717 487 733 483 750 480C767 477 783 473 800 470C817 467 833 462 850 460C867 458 883 458 900 460C917 462 933 465 950 470C967 475 983 483 1000 490C1017 497 1033 505 1050 510C1067 515 1083 518 1100 520C1117 522 1133 522 1150 520C1167 518 1183 513 1200 510C1217 507 1233 505 1250 500C1267 495 1283 487 1300 480C1317 473 1331 467 1350 460C1369 453 1403 443 1414 440" fill="none" stroke="#7d3fa8" stroke-width="7.5" stroke-linejoin="round"/><path d="M0 900C8 897 33 887 50 880C67 873 83 865 100 860C117 855 133 852 150 850C167 848 183 852 200 850C217 848 233 848 250 840C267 832 283 813 300 800C317 787 342 767 350 760" fill="none" stroke="#7d3fa8" stroke-width="7.5" stroke-linejoin="round"/><path d="M0 1215C8 1215 33 1215 50 1215C67 1215 83 1215 100 1215C117 1215 133 1216 150 1215C167 1214 183 1212 200 1210C217 1208 233 1205 250 1200C267 1195 283 1188 300 1180C317 1172 333 1163 350 1150C367 1137 383 1117 400 1100C417 1083 433 1067 450 1050C467 1033 483 1008 500 1000C517 992 530 993 550 1000C570 1007 595 1038 620 1040C645 1042 678 1023 700 1010C722 997 733 972 750 960C767 948 783 948 800 940C817 932 833 912 850 910C867 908 883 925 900 930C917 935 933 940 950 940C967 940 983 937 1000 930C1017 923 1037 913 1050 900C1063 887 1072 867 1080 850C1088 833 1097 825 1100 800C1103 775 1097 723 1100 700C1103 677 1108 668 1120 660C1132 652 1162 652 1170 650" fill="none" stroke="#7d3fa8" stroke-width="7.5" stroke-linejoin="round"/><path d="M1160 930C1167 918 1187 883 1200 860C1213 837 1227 805 1240 790C1253 775 1265 773 1280 770C1295 767 1313 765 1330 770C1347 775 1366 787 1380 800C1394 813 1408 842 1414 850" fill="none" stroke="#7d3fa8" stroke-width="7.5" stroke-linejoin="round"/><path d="M330 1414C330 1407 322 1379 330 1370C338 1361 363 1365 380 1360C397 1355 413 1348 430 1340C447 1332 465 1317 480 1310C495 1303 513 1302 520 1300" fill="none" stroke="#7d3fa8" stroke-width="7.5" stroke-linejoin="round"/><path d="M600 1285C608 1288 633 1294 650 1300C667 1306 683 1313 700 1320C717 1327 733 1333 750 1340C767 1347 783 1357 800 1360C817 1363 833 1365 850 1360C867 1355 892 1335 900 1330" fill="none" stroke="#7d3fa8" stroke-width="7.5" stroke-linejoin="round"/><path d="M950 1280C958 1272 983 1252 1000 1230C1017 1208 1033 1180 1050 1150C1067 1120 1085 1078 1100 1050C1115 1022 1133 992 1140 980" fill="none" stroke="#7d3fa8" stroke-width="7.5" stroke-linejoin="round"/><text x="245" y="140" fill="#7d3fa8" font-size="50" font-family="Liberation Sans, sans-serif" text-anchor="middle" transform="rotate(20 245 140)">370</text><text x="640" y="260" fill="#7d3fa8" font-size="50" font-family="Liberation Sans, sans-serif" text-anchor="middle" transform="rotate(-10 640 260)">370</text><text x="1060" y="285" fill="#7d3fa8" font-size="50" font-family="Liberation Sans, sans-serif" text-anchor="middle" transform="rotate(10 1060 285)">370</text><text x="855" y="55" fill="#7d3fa8" font-size="50" font-family="Liberation Sans, sans-serif" text-anchor="middle" transform="rotate(0 855 55)">410</text><text x="390" y="735" fill="#7d3fa8" font-size="50" font-family="Liberation Sans, sans-serif" text-anchor="middle" transform="rotate(-40 390 735)">330</text><text x="550" y="1315" fill="#7d3fa8" font-size="50" font-family="Liberation Sans, sans-serif" text-anchor="middle" transform="rotate(0 550 1315)">290</text><text x="930" y="1310" fill="#7d3fa8" font-size="50" font-family="Liberation Sans, sans-serif" text-anchor="middle" transform="rotate(-30 930 1310)">290</text><text x="1160" y="945" fill="#7d3fa8" font-size="50" font-family="Liberation Sans, sans-serif" text-anchor="middle" transform="rotate(-60 1160 945)">290</text><path d="M400 0C405 37 420 220 430 220C440 220 455 37 460 0" fill="none" stroke="#f01010" stroke-width="7.5" stroke-linejoin="round"/><path d="M480 0C485 33 502 142 510 200C518 258 522 310 530 350C538 390 548 420 560 440C572 460 577 468 600 470C623 472 667 455 700 450C733 445 767 442 800 440C833 438 867 438 900 440C933 442 973 442 1000 450C1027 458 1043 475 1060 490C1077 505 1087 522 1100 540C1113 558 1128 580 1140 600C1152 620 1160 637 1170 660C1180 683 1192 713 1200 740C1208 767 1210 813 1220 820C1230 827 1247 803 1260 780C1273 757 1285 705 1300 680C1315 655 1331 643 1350 630C1369 617 1403 605 1414 600" fill="none" stroke="#f01010" stroke-width="7.5" stroke-linejoin="round"/></g>
</g>
<rect x="540.4" y="893.5" width="379.3" height="379.4" fill="none" stroke="#1a1a1a" stroke-width="1.4"/>
<path d="M540.40 1272.90v10.5M540.40 893.50v-10.5M582.54 1272.90v5.0M582.54 893.50v-5.0M624.69 1272.90v5.0M624.69 893.50v-5.0M666.83 1272.90v10.5M666.83 893.50v-10.5M708.98 1272.90v5.0M708.98 893.50v-5.0M751.12 1272.90v5.0M751.12 893.50v-5.0M793.27 1272.90v10.5M793.27 893.50v-10.5M835.41 1272.90v5.0M835.41 893.50v-5.0M877.56 1272.90v5.0M877.56 893.50v-5.0M919.70 1272.90v10.5M919.70 893.50v-10.5M540.40 893.50h-10.5M540.40 960.28h-10.5M540.40 1007.66h-10.5M540.40 1044.41h-10.5M540.40 1074.44h-10.5M540.40 1121.82h-10.5M540.40 1158.57h-10.5M540.40 1213.99h-10.5M540.40 1245.97h-10.5M540.40 1272.74h-10.5M919.70 899.70h10.4M919.70 1002.90h10.4M919.70 1103.40h10.4M919.70 1193.50h10.4" stroke="#1a1a1a" stroke-width="1.4" fill="none"/>
<text x="547.9" y="881.0" font-family="Liberation Sans, sans-serif" font-size="17" fill="#000">(h)</text>
<text x="921.4000000000001" y="881.3" font-family="Liberation Sans, sans-serif" font-size="17.4" fill="#000" text-anchor="end">12:00 UTC 9 January 2001</text>
<text x="540.40" y="1308.40" font-family="Liberation Sans, sans-serif" font-size="17" text-anchor="middle">0</text>
<text x="666.83" y="1308.40" font-family="Liberation Sans, sans-serif" font-size="17" text-anchor="middle">30N</text>
<text x="793.27" y="1308.40" font-family="Liberation Sans, sans-serif" font-size="17" text-anchor="middle">60N</text>
<text x="919.70" y="1308.40" font-family="Liberation Sans, sans-serif" font-size="17" text-anchor="middle">90N</text>
<g clip-path="url(#cpi)">
<rect x="969.3" y="893.7" width="379.3" height="379.4" fill="#dcf1fa"/>
<g transform="translate(969,893) scale(0.268741)"><path d="M190 250C190 240 215 218 230 215C245 212 271 221 280 230C289 239 293 262 285 270C277 278 246 278 230 275C214 272 190 260 190 250Z" fill="#a8e0f5"/><path d="M235 230C240 226 264 230 270 235C276 240 273 258 268 262C263 266 246 267 240 262C234 257 230 234 235 230Z" fill="#7cd0ec"/><path d="M370 0L1414 0L1414 850L1380 830L1330 800L1280 820L1250 850L1220 900L1180 950L1140 990L1110 980L1080 900L1060 800L1040 700L1000 650L950 620L900 600L800 600L700 600L620 590L570 590L540 580L510 560L480 480L440 360L410 250L390 150Z" fill="#a8e0f5"/><path d="M380 0L1414 0L1414 790L1380 780L1330 760L1280 770L1250 800L1220 840L1180 900L1150 930L1120 900L1100 820L1080 740L1050 680L1000 620L950 590L900 570L800 570L700 570L620 560L575 560L550 550L525 530L495 460L460 350L430 250L400 130Z" fill="#7cd0ec"/><path d="M390 0L1414 0L1414 720L1380 710L1330 700L1280 710L1250 730L1220 760L1190 820L1160 860L1130 820L1110 740L1090 670L1060 630L1000 580L950 550L900 540L800 540L700 540L620 530L580 520L560 510L540 480L510 400L480 300L450 200L420 100Z" fill="#3d9fd0"/><path d="M400 0L1414 0L1414 680L1380 660L1330 660L1280 670L1250 690L1220 720L1195 760L1170 780L1145 740L1125 680L1100 630L1060 590L1000 540L950 510L900 500L800 500L700 500L620 490L580 480L560 460L540 420L515 340L490 250L460 150L430 60Z" fill="#079a80"/><path d="M410 0L1414 0L1414 630L1380 610L1330 610L1280 620L1250 640L1220 670L1195 700L1175 700L1155 660L1130 620L1100 590L1060 560L1000 510L950 480L900 470L800 470L700 470L620 460L580 440L560 400L540 340L520 270L495 180L465 100L440 30Z" fill="#0aa850"/><path d="M450 0L1414 0L1414 540L1330 530L1280 540L1250 560L1220 580L1200 600L1180 600L1160 570L1130 540L1100 520L1060 500L1000 460L950 420L900 400L850 390L800 380L750 370L700 370L650 370L600 370L570 350L550 300L530 200L505 100L480 30Z" fill="#8cc84c"/><path d="M465 0L1414 0L1414 490L1330 480L1280 490L1250 500L1220 510L1200 520L1180 520L1160 500L1130 480L1100 460L1060 440L1000 400L950 370L900 355L850 350L800 345L750 340L700 340L650 340L600 340L575 320L555 250L535 150L510 60Z" fill="#f3dc56"/><path d="M480 0L1414 0L1414 430L1330 420L1280 430L1250 440L1220 450L1200 450L1180 440L1160 420L1130 400L1100 380L1060 370L1000 350L950 330L900 320L850 320L800 320L750 320L700 320L650 320L600 320L580 280L560 200L540 100L520 30Z" fill="#fb9234"/><path d="M500 0L1414 0L1414 340L1380 330L1340 300L1300 330L1260 310L1220 330L1200 330L1180 320L1160 320L1130 320L1100 310L1060 300L1000 280L960 230L920 190L880 180L840 180L800 190L760 230L730 270L700 280L660 270L620 240L590 200L570 150L550 80L530 20Z" fill="#f64a26"/><path d="M600 150C608 117 633 103 650 100C667 97 690 97 700 130C710 163 718 268 710 300C702 332 668 320 650 320C632 320 608 328 600 300C592 272 592 183 600 150Z" fill="#fa6a2a"/><path d="M700 400C720 392 767 391 800 390C833 389 873 390 900 395C927 400 945 408 960 420C975 432 1000 462 990 470C980 478 932 471 900 470C868 469 833 466 800 465C767 464 720 469 700 465C680 461 680 451 680 440C680 429 680 408 700 400Z" fill="#7cd0ec"/><path d="M760 420C773 413 822 409 850 410C878 411 915 418 930 425C945 432 953 450 940 455C927 460 878 456 850 455C822 454 785 456 770 450C755 444 747 427 760 420Z" fill="#079a80"/><path d="M550 560C556 528 568 524 580 510C592 496 600 482 620 475C640 468 670 468 700 465C730 462 770 460 800 460C830 460 855 461 880 465C905 469 930 475 950 485C970 495 985 508 1000 525C1015 542 1028 566 1040 585C1052 604 1062 621 1070 640C1078 659 1085 673 1090 700C1095 727 1100 767 1100 800C1100 833 1097 867 1090 900C1083 933 1075 970 1060 1000C1045 1030 1027 1063 1000 1080C973 1097 933 1100 900 1100C867 1100 833 1090 800 1080C767 1070 730 1057 700 1040C670 1023 642 1003 620 980C598 957 582 930 570 900C558 870 554 833 550 800C546 767 545 740 545 700C545 660 544 592 550 560Z" fill="#dcf1fa"/><path d="M680 1290C683 1272 703 1235 720 1220C737 1205 758 1207 780 1200C802 1193 830 1187 850 1180C870 1173 883 1167 900 1160C917 1153 933 1140 950 1140C967 1140 995 1150 1000 1160C1005 1170 992 1185 980 1200C968 1215 947 1237 930 1250C913 1263 898 1272 880 1280C862 1288 840 1293 820 1300C800 1307 780 1315 760 1320C740 1325 713 1335 700 1330C687 1325 677 1308 680 1290Z" fill="#a8e0f5"/><path d="M760 1270C767 1262 800 1248 820 1240C840 1232 862 1227 880 1220C898 1213 927 1195 930 1200C933 1205 915 1238 900 1250C885 1262 860 1263 840 1270C820 1277 793 1290 780 1290C767 1290 753 1278 760 1270Z" fill="#7cd0ec"/><path d="M1222 1414C1214 1395 1219 1320 1225 1300C1231 1280 1252 1293 1260 1296C1268 1299 1270 1300 1272 1320C1274 1340 1278 1398 1270 1414C1262 1430 1230 1433 1222 1414Z" fill="#a8e0f5"/><path d="M1210 1414C1207 1402 1210 1359 1212 1340C1214 1321 1219 1300 1222 1300C1225 1300 1226 1321 1228 1340C1230 1359 1235 1402 1232 1414C1229 1426 1213 1426 1210 1414Z" fill="#3d9fd0"/><path d="M1108 1414L1130 1400L1145 1390L1158 1400L1162 1414Z" fill="#0aa850"/><path d="M1135 1414L1145 1400L1155 1414Z" fill="#f64a26"/><path d="M1160 1414L1161 1345L1177 1333L1193 1345L1194 1414Z" fill="#0aa850"/><path d="M1164 1414L1165 1350L1177 1340L1189 1350L1190 1414Z" fill="#f64a26"/><path d="M1198 1414L1199 1370L1215 1355L1225 1300L1232 1300L1233 1414Z" fill="#3d9fd0"/><path d="M1203 1414L1204 1375L1220 1362L1228 1362L1229 1414Z" fill="#8cc84c"/><path d="M1212 1414L1214 1395L1222 1395L1223 1414Z" fill="#fb9234"/><path d="M1241 1414C1231 1407 1239 1381 1243 1370C1247 1359 1257 1352 1265 1348C1273 1344 1284 1344 1290 1348C1296 1352 1301 1359 1303 1370C1305 1381 1314 1407 1304 1414C1294 1421 1251 1421 1241 1414Z" fill="#079a80"/><path d="M1246 1414C1237 1407 1244 1382 1248 1372C1252 1362 1261 1357 1268 1354C1275 1351 1283 1351 1288 1354C1293 1357 1297 1362 1299 1372C1301 1382 1309 1407 1300 1414C1291 1421 1255 1421 1246 1414Z" fill="#f64a26"/><path d="M1305 1345C1310 1338 1334 1336 1350 1335C1366 1334 1389 1338 1400 1340C1411 1342 1412 1338 1414 1345C1416 1352 1423 1378 1414 1385C1405 1392 1376 1391 1360 1390C1344 1389 1329 1388 1320 1380C1311 1372 1300 1352 1305 1345Z" fill="#7cd0ec"/><path d="M1335 1355C1342 1352 1367 1350 1380 1350C1393 1350 1408 1351 1414 1355C1420 1359 1421 1369 1414 1372C1407 1375 1382 1373 1370 1372C1358 1371 1346 1371 1340 1368C1334 1365 1328 1358 1335 1355Z" fill="#3d9fd0"/><path d="M1315 1390C1315 1387 1325 1383 1330 1383C1335 1383 1345 1389 1345 1392C1345 1395 1335 1402 1330 1402C1325 1402 1315 1393 1315 1390Z" fill="#3d9fd0"/><path d="M560 340C575 323 618 332 650 330C682 328 717 330 750 330C783 330 817 328 850 330C883 332 925 335 950 340C975 345 988 347 1000 360C1012 373 1020 402 1020 420C1020 438 1012 460 1000 470C988 480 967 478 950 480C933 482 925 482 900 480C875 478 833 472 800 470C767 468 733 470 700 470C667 470 623 477 600 470C577 463 567 452 560 430C553 408 545 357 560 340Z" fill="#000" filter="url(#spk1)" opacity="1"/><path d="M560 520C617 478 835 487 900 500C965 513 950 567 950 600C950 633 925 667 900 700C875 733 842 783 800 800C758 817 690 808 650 800C610 792 575 797 560 750C545 703 503 562 560 520Z" fill="#000" filter="url(#spk1)" opacity="1"/><path d="M440 1000C437 983 445 933 450 900C455 867 462 833 470 800C478 767 490 730 500 700C510 670 520 643 530 620C540 597 548 577 560 560C572 543 585 528 600 520C615 512 633 510 650 510C667 510 682 518 700 520C718 522 743 520 760 520C777 520 785 520 800 520C815 520 833 517 850 520C867 523 888 527 900 540C912 553 920 582 920 600C920 618 912 637 900 650C888 663 867 668 850 680C833 692 812 707 800 720C788 733 788 750 780 760C772 770 763 775 750 780C737 785 717 788 700 790C683 792 667 792 650 790C633 788 615 780 600 780C585 780 572 778 560 790C548 802 540 828 530 850C520 872 510 895 500 920C490 945 480 987 470 1000C460 1013 443 1017 440 1000Z" fill="#f5a3a8" filter="url(#spk2)" opacity="1"/><path d="M1005 385C1014 373 1035 369 1050 368C1065 367 1080 377 1095 378C1110 379 1125 368 1140 372C1155 376 1175 391 1185 405C1195 419 1201 440 1202 455C1203 470 1200 488 1192 498C1184 508 1169 509 1155 515C1141 521 1126 532 1110 532C1094 532 1075 522 1060 515C1045 508 1030 502 1020 490C1010 478 1000 458 998 440C996 422 996 397 1005 385Z" fill="#000" filter="url(#spk3)" opacity="1"/><path d="M980 360C990 333 1022 342 1050 340C1078 338 1123 340 1150 350C1177 360 1199 372 1210 400C1221 428 1225 493 1215 520C1205 547 1178 555 1150 560C1122 565 1077 560 1050 550C1023 540 1002 532 990 500C978 468 970 387 980 360Z" fill="#000" filter="url(#spk1)" opacity="1"/><path d="M720 0C719 17 717 67 715 100C713 133 712 167 710 200C708 233 702 283 700 300" fill="none" stroke="#000" stroke-width="8.5" stroke-linejoin="round"/><path d="M800 0C800 17 801 67 800 100C799 133 797 167 795 200C793 233 791 283 790 300" fill="none" stroke="#000" stroke-width="8.5" stroke-linejoin="round"/><path d="M850 0C850 17 851 67 850 100C849 133 848 167 845 200C842 233 837 283 835 300" fill="none" stroke="#000" stroke-width="8.5" stroke-linejoin="round"/><path d="M910 0C912 13 915 58 920 80C925 102 930 123 940 130C950 137 967 128 980 120C993 112 1008 100 1020 80C1032 60 1045 13 1050 0" fill="none" stroke="#000" stroke-width="8.5" stroke-linejoin="round"/><path d="M1100 0C1097 17 1087 67 1080 100C1073 133 1067 167 1060 200C1053 233 1045 267 1040 300C1035 333 1032 383 1030 400" fill="none" stroke="#000" stroke-width="8.5" stroke-linejoin="round"/><path d="M1160 0C1157 17 1147 67 1140 100C1133 133 1127 167 1120 200C1113 233 1107 275 1100 300C1093 325 1083 342 1080 350" fill="none" stroke="#000" stroke-width="8.5" stroke-linejoin="round"/><path d="M1200 0C1197 17 1187 67 1180 100C1173 133 1167 167 1160 200C1153 233 1143 283 1140 300" fill="none" stroke="#000" stroke-width="8.5" stroke-linejoin="round"/><path d="M640 550C643 575 653 653 660 700C667 747 672 792 680 830C688 868 697 905 710 930C723 955 740 967 760 980C780 993 807 1003 830 1010C853 1017 882 1022 900 1020C918 1018 928 1012 940 1000C952 988 962 975 970 950C978 925 985 883 990 850C995 817 997 783 1000 750C1003 717 1007 692 1010 650C1013 608 1017 542 1020 500C1023 458 1028 417 1030 400" fill="none" stroke="#000" stroke-width="8.5" stroke-linejoin="round"/><path d="M690 560C692 580 695 643 700 680C705 717 710 750 720 780C730 810 743 840 760 860C777 880 800 892 820 900C840 908 863 913 880 910C897 907 908 895 920 880C932 865 942 847 950 820C958 793 961 753 965 720C969 687 972 657 975 620C978 583 978 537 980 500C982 463 983 433 985 400C987 367 989 317 990 300" fill="none" stroke="#000" stroke-width="8.5" stroke-linejoin="round"/><path d="M740 560C742 577 745 630 750 660C755 690 762 717 770 740C778 763 787 785 800 800C813 815 835 825 850 830C865 835 879 835 890 830C901 825 908 815 915 800C922 785 926 763 930 740C934 717 938 690 940 660C942 630 943 595 945 560C947 525 949 468 950 450" fill="none" stroke="#000" stroke-width="8.5" stroke-linejoin="round"/><path d="M790 520C790 533 788 577 790 600C792 623 793 643 800 660C807 677 818 691 830 700C842 709 860 717 870 715C880 713 885 702 890 690C895 678 898 662 900 640C902 618 905 587 905 560C905 533 901 493 900 480" fill="none" stroke="#000" stroke-width="8.5" stroke-linejoin="round"/><path d="M560 1414C567 1408 587 1384 600 1380C613 1376 630 1384 640 1390C650 1396 657 1410 660 1414" fill="none" stroke="#000" stroke-width="8.5" stroke-linejoin="round"/><path d="M470 100C465 125 447 200 440 250C433 300 430 350 430 400C430 450 437 500 440 550C443 600 448 650 450 700C452 750 454 800 455 850C456 900 454 950 455 1000C456 1050 456 1105 460 1150C464 1195 470 1248 480 1270C490 1292 507 1285 520 1280C533 1275 550 1262 560 1240C570 1218 575 1190 580 1150C585 1110 588 1050 590 1000C592 950 595 900 595 850C595 800 589 750 590 700C591 650 597 600 600 550C603 500 609 450 610 400C611 350 608 297 605 250C602 203 592 142 590 120" fill="none" stroke="#000" stroke-width="8.5" stroke-dasharray="16 11" stroke-linejoin="round"/><path d="M520 210C517 225 507 268 500 300C493 332 485 358 480 400C475 442 471 500 470 550C469 600 473 650 475 700C477 750 478 800 480 850C482 900 482 950 485 1000C488 1050 494 1123 500 1150C506 1177 513 1168 520 1160C527 1152 535 1127 540 1100C545 1073 548 1042 550 1000C552 958 553 900 555 850C557 800 559 725 560 700" fill="none" stroke="#000" stroke-width="8.5" stroke-dasharray="16 11" stroke-linejoin="round"/><path d="M1250 265C1267 263 1287 278 1300 300C1313 322 1323 358 1330 400C1337 442 1340 500 1340 550C1340 600 1335 650 1330 700C1325 750 1317 808 1310 850C1303 892 1298 917 1290 950C1282 983 1270 1017 1260 1050C1250 1083 1240 1125 1230 1150C1220 1175 1217 1187 1200 1200C1183 1213 1150 1227 1130 1230C1110 1233 1097 1228 1080 1220C1063 1212 1042 1200 1030 1180C1018 1160 1013 1130 1010 1100C1007 1070 1008 1033 1010 1000C1012 967 1015 933 1020 900C1025 867 1033 833 1040 800C1047 767 1052 733 1060 700C1068 667 1080 633 1090 600C1100 567 1108 533 1120 500C1132 467 1147 432 1160 400C1173 368 1185 332 1200 310C1215 288 1233 267 1250 265Z" fill="none" stroke="#000" stroke-width="8.5" stroke-dasharray="16 11" stroke-linejoin="round"/><path d="M1150 600C1155 602 1172 602 1180 610C1188 618 1195 627 1200 650C1205 673 1210 717 1210 750C1210 783 1205 817 1200 850C1195 883 1188 917 1180 950C1172 983 1162 1025 1150 1050C1138 1075 1122 1095 1110 1100C1098 1105 1087 1097 1080 1080C1073 1063 1070 1030 1070 1000C1070 970 1075 933 1080 900C1085 867 1092 833 1100 800C1108 767 1125 717 1130 700" fill="none" stroke="#000" stroke-width="8.5" stroke-dasharray="16 11" stroke-linejoin="round"/><path d="M310 0C308 25 303 100 300 150C297 200 295 258 290 300C285 342 275 375 270 400C265 425 260 425 260 450C260 475 267 525 270 550C273 575 273 612 280 600C287 588 303 497 310 480C317 463 318 463 320 500C322 537 318 642 320 700C322 758 327 808 330 850C333 892 337 917 340 950C343 983 345 1017 350 1050C355 1083 362 1120 370 1150C378 1180 390 1213 400 1230C410 1247 420 1250 430 1250C440 1250 452 1238 460 1230C468 1222 477 1205 480 1200" fill="none" stroke="#0a3fa0" stroke-width="7.5" stroke-linejoin="round"/><path d="M340 0C341 25 343 100 345 150C347 200 348 250 350 300C352 350 357 400 360 450C363 500 367 550 370 600C373 650 377 700 380 750C383 800 387 858 390 900C393 942 395 975 400 1000C405 1025 412 1030 420 1050C428 1070 442 1107 450 1120C458 1133 467 1128 470 1130" fill="none" stroke="#0a3fa0" stroke-width="7.5" stroke-linejoin="round"/><path d="M380 80C383 100 395 155 400 200C405 245 410 300 410 350C410 400 402 450 400 500C398 550 395 600 395 650C395 700 396 750 400 800C404 850 413 908 420 950C427 992 437 1033 440 1050" fill="none" stroke="#0a3fa0" stroke-width="7.5" stroke-linejoin="round"/><path d="M440 240C443 243 455 242 460 260C465 278 470 318 470 350C470 382 463 417 460 450C457 483 453 517 450 550C447 583 442 633 440 650" fill="none" stroke="#0a3fa0" stroke-width="7.5" stroke-linejoin="round"/><path d="M1040 0C1042 17 1048 67 1050 100C1052 133 1056 178 1055 200C1054 222 1044 217 1045 230C1046 243 1058 272 1060 280" fill="none" stroke="#0a3fa0" stroke-width="7.5" stroke-linejoin="round"/><path d="M920 520C922 533 927 570 930 600C933 630 935 667 940 700C945 733 952 770 960 800C968 830 982 863 990 880C998 897 1007 897 1010 900" fill="none" stroke="#0a3fa0" stroke-width="7.5" stroke-linejoin="round"/><path d="M1010 900C1012 908 1015 939 1020 950C1025 961 1030 963 1040 965C1050 967 1070 964 1080 960C1090 956 1095 950 1100 940C1105 930 1110 923 1110 900C1110 877 1102 833 1100 800C1098 767 1098 725 1100 700C1102 675 1105 650 1110 650C1115 650 1125 683 1130 700C1135 717 1138 742 1140 750" fill="none" stroke="#0a3fa0" stroke-width="7.5" stroke-linejoin="round"/><path d="M645 1380C646 1370 658 1340 665 1330C672 1320 685 1313 688 1318C691 1323 687 1348 682 1360C677 1372 666 1387 660 1390C654 1393 644 1390 645 1380Z" fill="none" stroke="#0a3fa0" stroke-width="7.5" stroke-linejoin="round"/><path d="M170 0C175 5 187 17 200 30C213 43 237 67 250 80C263 93 275 105 280 110" fill="none" stroke="#7d3fa8" stroke-width="7.5" stroke-linejoin="round"/><path d="M350 140C358 143 385 150 400 160C415 170 428 183 440 200C452 217 460 243 470 260C480 277 488 288 500 300C512 312 528 327 540 330C552 333 560 325 570 320C580 315 590 307 600 300C610 293 625 283 630 280" fill="none" stroke="#7d3fa8" stroke-width="7.5" stroke-linejoin="round"/><path d="M700 260C708 260 733 261 750 260C767 259 783 255 800 255C817 255 833 258 850 260C867 262 883 267 900 270C917 273 933 277 950 280C967 283 987 287 1000 290C1013 293 1025 298 1030 300" fill="none" stroke="#7d3fa8" stroke-width="7.5" stroke-linejoin="round"/><path d="M1100 310C1108 308 1133 305 1150 300C1167 295 1183 287 1200 280C1217 273 1233 267 1250 260C1267 253 1283 247 1300 240C1317 233 1331 227 1350 220C1369 213 1403 203 1414 200" fill="none" stroke="#7d3fa8" stroke-width="7.5" stroke-linejoin="round"/><path d="M480 0C487 3 507 13 520 20C533 27 547 35 560 40C573 45 585 48 600 50C615 52 633 50 650 50C667 50 683 49 700 50C717 51 733 53 750 55C767 57 792 59 800 60" fill="none" stroke="#7d3fa8" stroke-width="7.5" stroke-linejoin="round"/><path d="M900 55C908 54 933 52 950 50C967 48 983 43 1000 40C1017 37 1033 33 1050 30C1067 27 1083 23 1100 20C1117 17 1133 13 1150 10C1167 7 1192 2 1200 0" fill="none" stroke="#7d3fa8" stroke-width="7.5" stroke-linejoin="round"/><path d="M520 110C527 113 547 123 560 130C573 137 585 145 600 150C615 155 633 158 650 160C667 162 683 162 700 160C717 158 733 153 750 150C767 147 783 142 800 140C817 138 833 138 850 140C867 142 883 147 900 150C917 153 933 157 950 160C967 163 983 167 1000 170C1017 173 1033 178 1050 180C1067 182 1083 182 1100 180C1117 178 1133 175 1150 170C1167 165 1183 157 1200 150C1217 143 1233 137 1250 130C1267 123 1283 117 1300 110C1317 103 1331 97 1350 90C1369 83 1403 73 1414 70" fill="none" stroke="#7d3fa8" stroke-width="7.5" stroke-linejoin="round"/><path d="M0 320C8 322 33 332 50 330C67 328 83 315 100 310C117 305 133 303 150 300C167 297 183 293 200 290C217 287 233 282 250 280C267 278 283 277 300 280C317 283 333 292 350 300C367 308 385 317 400 330C415 343 428 365 440 380C452 395 460 410 470 420C480 430 488 437 500 440C512 443 527 442 540 440C553 438 567 433 580 430C593 427 607 422 620 420C633 418 647 420 660 420C673 420 685 420 700 420C715 420 733 420 750 420C767 420 783 418 800 420C817 422 833 425 850 430C867 435 883 443 900 450C917 457 933 463 950 470C967 477 983 483 1000 490C1017 497 1033 503 1050 510C1067 517 1083 525 1100 530C1117 535 1133 540 1150 540C1167 540 1183 533 1200 530C1217 527 1233 525 1250 520C1267 515 1283 507 1300 500C1317 493 1331 487 1350 480C1369 473 1403 463 1414 460" fill="none" stroke="#7d3fa8" stroke-width="7.5" stroke-linejoin="round"/><path d="M90 935C100 931 132 918 150 910C168 902 183 897 200 890C217 883 233 878 250 870C267 862 283 848 300 840C317 832 335 827 350 820C365 813 383 803 390 800" fill="none" stroke="#7d3fa8" stroke-width="7.5" stroke-linejoin="round"/><path d="M430 710C435 702 448 675 460 660C472 645 487 630 500 620C513 610 523 610 540 600C557 590 582 570 600 560C618 550 633 545 650 540C667 535 683 532 700 530C717 528 733 528 750 530C767 532 783 538 800 540C817 542 833 540 850 540C867 540 883 537 900 540C917 543 933 553 950 560C967 567 983 575 1000 580C1017 585 1033 587 1050 590C1067 593 1083 598 1100 600C1117 602 1133 602 1150 600C1167 598 1183 593 1200 590C1217 587 1233 585 1250 580C1267 575 1283 567 1300 560C1317 553 1331 547 1350 540C1369 533 1403 523 1414 520" fill="none" stroke="#7d3fa8" stroke-width="7.5" stroke-linejoin="round"/><path d="M480 870C490 872 520 875 540 880C560 885 573 892 600 900C627 908 667 923 700 930C733 937 767 940 800 940C833 940 873 937 900 930C927 923 943 913 960 900C977 887 988 870 1000 850C1012 830 1020 805 1030 780C1040 755 1055 713 1060 700" fill="none" stroke="#7d3fa8" stroke-width="7.5" stroke-linejoin="round"/><path d="M1100 950C1105 938 1120 900 1130 880C1140 860 1148 845 1160 830C1172 815 1185 800 1200 790C1215 780 1233 773 1250 770C1267 767 1283 762 1300 770C1317 778 1331 803 1350 820C1369 837 1403 862 1414 870" fill="none" stroke="#7d3fa8" stroke-width="7.5" stroke-linejoin="round"/><path d="M0 1225C8 1225 33 1226 50 1225C67 1224 83 1220 100 1220C117 1220 133 1226 150 1225C167 1224 183 1218 200 1215C217 1212 233 1212 250 1210C267 1208 283 1205 300 1200C317 1195 333 1190 350 1180C367 1170 383 1157 400 1140C417 1123 437 1100 450 1080C463 1060 472 1040 480 1020C488 1000 493 980 500 960C507 940 517 910 520 900" fill="none" stroke="#7d3fa8" stroke-width="7.5" stroke-linejoin="round"/><path d="M360 1414C367 1407 387 1386 400 1370C413 1354 428 1335 440 1320C452 1305 465 1287 470 1280" fill="none" stroke="#7d3fa8" stroke-width="7.5" stroke-linejoin="round"/><path d="M520 1220C527 1217 547 1202 560 1200C573 1198 585 1207 600 1210C615 1213 633 1218 650 1220C667 1222 683 1222 700 1220C717 1218 733 1213 750 1210C767 1207 792 1202 800 1200" fill="none" stroke="#7d3fa8" stroke-width="7.5" stroke-linejoin="round"/><path d="M880 1170C888 1167 913 1158 930 1150C947 1142 965 1132 980 1120C995 1108 1008 1093 1020 1080C1032 1067 1040 1057 1050 1040C1060 1023 1072 995 1080 980C1088 965 1097 955 1100 950" fill="none" stroke="#7d3fa8" stroke-width="7.5" stroke-linejoin="round"/><text x="305" y="140" fill="#7d3fa8" font-size="50" font-family="Liberation Sans, sans-serif" text-anchor="middle" transform="rotate(20 305 140)">370</text><text x="655" y="275" fill="#7d3fa8" font-size="50" font-family="Liberation Sans, sans-serif" text-anchor="middle" transform="rotate(-10 655 275)">370</text><text x="1065" y="325" fill="#7d3fa8" font-size="50" font-family="Liberation Sans, sans-serif" text-anchor="middle" transform="rotate(15 1065 325)">370</text><text x="850" y="70" fill="#7d3fa8" font-size="50" font-family="Liberation Sans, sans-serif" text-anchor="middle" transform="rotate(0 850 70)">410</text><text x="40" y="950" fill="#7d3fa8" font-size="50" font-family="Liberation Sans, sans-serif" text-anchor="middle" transform="rotate(0 40 950)">330</text><text x="410" y="775" fill="#7d3fa8" font-size="50" font-family="Liberation Sans, sans-serif" text-anchor="middle" transform="rotate(-70 410 775)">330</text><text x="480" y="1285" fill="#7d3fa8" font-size="50" font-family="Liberation Sans, sans-serif" text-anchor="middle" transform="rotate(-50 480 1285)">290</text><text x="840" y="1200" fill="#7d3fa8" font-size="50" font-family="Liberation Sans, sans-serif" text-anchor="middle" transform="rotate(-10 840 1200)">290</text><text x="1130" y="895" fill="#7d3fa8" font-size="50" font-family="Liberation Sans, sans-serif" text-anchor="middle" transform="rotate(-70 1130 895)">290</text><path d="M230 0C238 2 265 15 280 15C295 15 313 2 320 0" fill="none" stroke="#f01010" stroke-width="7.5" stroke-linejoin="round"/><path d="M450 0C455 17 470 58 480 100C490 142 502 200 510 250C518 300 524 352 530 400C536 448 537 522 545 540C553 558 568 522 580 510C592 498 600 478 620 470C640 462 670 462 700 460C730 458 770 455 800 455C830 455 855 456 880 460C905 464 930 470 950 480C970 490 985 503 1000 520C1015 537 1027 563 1040 580C1053 597 1070 610 1080 620C1090 630 1092 623 1100 640C1108 657 1120 693 1130 720C1140 747 1152 780 1160 800C1168 820 1170 847 1180 840C1190 833 1207 783 1220 760C1233 737 1247 717 1260 700C1273 683 1285 672 1300 660C1315 648 1331 633 1350 625C1369 617 1403 612 1414 610" fill="none" stroke="#f01010" stroke-width="7.5" stroke-linejoin="round"/></g>
</g>
<rect x="969.3" y="893.7" width="379.3" height="379.4" fill="none" stroke="#1a1a1a" stroke-width="1.4"/>
<path d="M969.30 1273.10v10.5M969.30 893.70v-10.5M1011.44 1273.10v5.0M1011.44 893.70v-5.0M1053.59 1273.10v5.0M1053.59 893.70v-5.0M1095.73 1273.10v10.5M1095.73 893.70v-10.5M1137.88 1273.10v5.0M1137.88 893.70v-5.0M1180.02 1273.10v5.0M1180.02 893.70v-5.0M1222.17 1273.10v10.5M1222.17 893.70v-10.5M1264.31 1273.10v5.0M1264.31 893.70v-5.0M1306.46 1273.10v5.0M1306.46 893.70v-5.0M1348.60 1273.10v10.5M1348.60 893.70v-10.5M969.30 893.70h-10.5M969.30 960.48h-10.5M969.30 1007.86h-10.5M969.30 1044.61h-10.5M969.30 1074.64h-10.5M969.30 1122.02h-10.5M969.30 1158.77h-10.5M969.30 1214.19h-10.5M969.30 1246.17h-10.5M969.30 1272.94h-10.5M1348.60 899.90h10.4M1348.60 1003.10h10.4M1348.60 1103.60h10.4M1348.60 1193.70h10.4" stroke="#1a1a1a" stroke-width="1.4" fill="none"/>
<text x="976.8" y="881.0" font-family="Liberation Sans, sans-serif" font-size="17" fill="#000">(i)</text>
<text x="1350.3" y="881.3" font-family="Liberation Sans, sans-serif" font-size="17.4" fill="#000" text-anchor="end">00:00 UTC 10 January 2001</text>
<text x="1370.6" y="905.90" font-family="Liberation Sans, sans-serif" font-size="16.5">16</text>
<text x="1370.6" y="1009.10" font-family="Liberation Sans, sans-serif" font-size="16.5">12</text>
<text x="1370.6" y="1109.60" font-family="Liberation Sans, sans-serif" font-size="16.5">8</text>
<text x="1370.6" y="1199.70" font-family="Liberation Sans, sans-serif" font-size="16.5">4</text>
<text x="969.30" y="1308.60" font-family="Liberation Sans, sans-serif" font-size="17" text-anchor="middle">0</text>
<text x="1095.73" y="1308.60" font-family="Liberation Sans, sans-serif" font-size="17" text-anchor="middle">30N</text>
<text x="1222.17" y="1308.60" font-family="Liberation Sans, sans-serif" font-size="17" text-anchor="middle">60N</text>
<text x="1348.60" y="1308.60" font-family="Liberation Sans, sans-serif" font-size="17" text-anchor="middle">90N</text>
<text transform="translate(26.9,241.6) rotate(-90)" font-family="Liberation Sans, sans-serif" font-size="23.5" text-anchor="middle">Pressure_level (hPa)</text>
<text transform="translate(26.9,664.6) rotate(-90)" font-family="Liberation Sans, sans-serif" font-size="23.5" text-anchor="middle">Pressure_level (hPa)</text>
<text transform="translate(26.9,1093.4) rotate(-90)" font-family="Liberation Sans, sans-serif" font-size="23.5" text-anchor="middle">Pressure_level (hPa)</text>
<text transform="translate(1417,215.4) rotate(-90)" font-family="Liberation Sans, sans-serif" font-size="23.7" text-anchor="middle">Height (km)</text>
<text transform="translate(1417,650.1) rotate(-90)" font-family="Liberation Sans, sans-serif" font-size="23.7" text-anchor="middle">Height (km)</text>
<text transform="translate(1417,1079.5) rotate(-90)" font-family="Liberation Sans, sans-serif" font-size="23.7" text-anchor="middle">Height (km)</text>
<rect x="496.70" y="1328.8" width="25.57" height="42.0" fill="#dcf1fa" stroke="#333" stroke-width="1"/>
<rect x="522.27" y="1328.8" width="25.57" height="42.0" fill="#a8e0f5" stroke="#333" stroke-width="1"/>
<rect x="547.84" y="1328.8" width="25.57" height="42.0" fill="#7cd0ec" stroke="#333" stroke-width="1"/>
<rect x="573.42" y="1328.8" width="25.57" height="42.0" fill="#4baad8" stroke="#333" stroke-width="1"/>
<rect x="598.99" y="1328.8" width="25.57" height="42.0" fill="#088aba" stroke="#333" stroke-width="1"/>
<rect x="624.56" y="1328.8" width="25.57" height="42.0" fill="#079896" stroke="#333" stroke-width="1"/>
<rect x="650.13" y="1328.8" width="25.57" height="42.0" fill="#06a276" stroke="#333" stroke-width="1"/>
<rect x="675.71" y="1328.8" width="25.57" height="42.0" fill="#04aa4a" stroke="#333" stroke-width="1"/>
<rect x="701.28" y="1328.8" width="25.57" height="42.0" fill="#1eb646" stroke="#333" stroke-width="1"/>
<rect x="726.85" y="1328.8" width="25.57" height="42.0" fill="#7cc24a" stroke="#333" stroke-width="1"/>
<rect x="752.42" y="1328.8" width="25.57" height="42.0" fill="#bed44e" stroke="#333" stroke-width="1"/>
<rect x="777.99" y="1328.8" width="25.57" height="42.0" fill="#f6de56" stroke="#333" stroke-width="1"/>
<rect x="803.57" y="1328.8" width="25.57" height="42.0" fill="#fec046" stroke="#333" stroke-width="1"/>
<rect x="829.14" y="1328.8" width="25.57" height="42.0" fill="#fc9634" stroke="#333" stroke-width="1"/>
<rect x="854.71" y="1328.8" width="25.57" height="42.0" fill="#fb762c" stroke="#333" stroke-width="1"/>
<rect x="880.28" y="1328.8" width="25.57" height="42.0" fill="#fa5a28" stroke="#333" stroke-width="1"/>
<rect x="905.86" y="1328.8" width="25.57" height="42.0" fill="#f84c26" stroke="#333" stroke-width="1"/>
<rect x="931.43" y="1328.8" width="25.57" height="42.0" fill="#f43e24" stroke="#333" stroke-width="1"/>
<text x="522.27" y="1399.6" font-family="Liberation Sans, sans-serif" font-size="21" text-anchor="middle">2</text>
<text x="573.42" y="1399.6" font-family="Liberation Sans, sans-serif" font-size="21" text-anchor="middle">3</text>
<text x="624.56" y="1399.6" font-family="Liberation Sans, sans-serif" font-size="21" text-anchor="middle">4</text>
<text x="675.71" y="1399.6" font-family="Liberation Sans, sans-serif" font-size="21" text-anchor="middle">5</text>
<text x="726.85" y="1399.6" font-family="Liberation Sans, sans-serif" font-size="21" text-anchor="middle">6</text>
<text x="777.99" y="1399.6" font-family="Liberation Sans, sans-serif" font-size="21" text-anchor="middle">7</text>
<text x="829.14" y="1399.6" font-family="Liberation Sans, sans-serif" font-size="21" text-anchor="middle">8</text>
<text x="880.28" y="1399.6" font-family="Liberation Sans, sans-serif" font-size="21" text-anchor="middle">9</text>
<text x="931.43" y="1399.6" font-family="Liberation Sans, sans-serif" font-size="21" text-anchor="middle">10</text>
<text x="969.5" y="1359.3" font-family="Liberation Sans, sans-serif" font-size="20.5">PV(PVU)</text>
</svg></body></html>
